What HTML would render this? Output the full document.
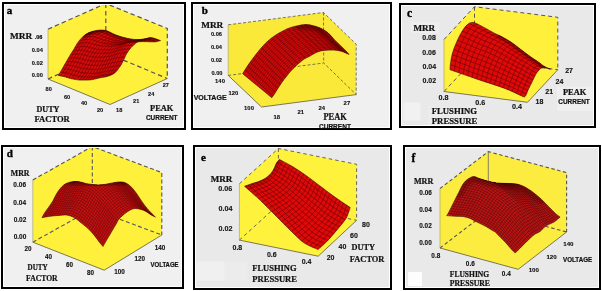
<!DOCTYPE html>
<html><head><meta charset="utf-8"><style>html,body{margin:0;padding:0;background:#fff}svg{display:block;will-change:transform}</style></head>
<body><svg width="602" height="291" viewBox="0 0 602 291">
<defs><filter id="blur" x="-20%" y="-20%" width="140%" height="140%"><feGaussianBlur stdDeviation="1.2"/></filter><clipPath id="cpa"><rect x="5" y="5" width="178" height="122"/></clipPath><clipPath id="sca"><path d="M58.30,75.70 C59.00,74.48 61.17,70.72 62.50,68.40 C63.83,66.08 65.03,64.00 66.30,61.80 C67.57,59.60 68.83,57.30 70.10,55.20 C71.37,53.10 72.65,51.25 73.90,49.20 C75.15,47.15 76.35,44.73 77.60,42.90 C78.85,41.07 79.98,39.67 81.40,38.20 C82.82,36.73 84.37,35.20 86.10,34.10 C87.83,33.00 89.75,32.25 91.80,31.60 C93.85,30.95 96.20,30.42 98.40,30.20 C100.60,29.98 103.07,29.97 105.00,30.30 C106.93,30.63 108.17,31.42 110.00,32.20 C111.83,32.98 114.00,34.20 116.00,35.00 C118.00,35.80 120.00,36.42 122.00,37.00 C124.00,37.58 125.98,38.10 128.00,38.50 C130.02,38.90 132.08,39.23 134.10,39.40 C136.12,39.57 138.10,39.65 140.10,39.50 C142.10,39.35 144.30,38.82 146.10,38.50 C147.90,38.18 149.30,37.55 150.90,37.60 C152.50,37.65 154.10,38.30 155.70,38.80 C157.30,39.30 159.70,40.30 160.50,40.60 C159.70,40.80 157.50,41.60 155.70,41.80 C153.90,42.00 151.70,41.83 149.70,41.80 C147.70,41.77 145.50,41.60 143.70,41.60 C141.90,41.60 140.10,41.63 138.90,41.80 C137.70,41.97 136.90,42.47 136.50,42.60 C135.57,43.45 132.48,45.95 130.90,47.70 C129.32,49.45 128.17,51.17 127.00,53.10 C125.83,55.03 124.80,57.50 123.90,59.30 C123.00,61.10 122.50,62.35 121.60,63.90 C120.70,65.45 119.53,67.18 118.50,68.60 C117.47,70.02 116.68,71.30 115.40,72.40 C114.12,73.50 112.60,74.42 110.80,75.20 C109.00,75.98 106.40,76.67 104.60,77.10 C102.80,77.53 102.23,77.35 100.00,77.80 C97.77,78.25 94.38,79.42 91.20,79.80 C88.02,80.18 83.47,80.13 80.90,80.10 C78.33,80.07 77.52,79.85 75.80,79.60 C74.08,79.35 72.32,79.03 70.60,78.60 C68.88,78.17 67.47,77.52 65.50,77.00 C63.53,76.48 59.92,75.75 58.80,75.50 Z"/></clipPath><clipPath id="cpb"><rect x="194" y="5" width="195" height="122"/></clipPath><clipPath id="scb"><path d="M242.70,73.70 C243.72,72.10 246.42,67.53 248.80,64.10 C251.18,60.67 254.25,56.55 257.00,53.10 C259.75,49.65 262.53,46.17 265.30,43.40 C268.07,40.63 270.85,38.47 273.60,36.50 C276.35,34.53 279.05,33.07 281.80,31.60 C284.55,30.13 287.07,28.75 290.10,27.70 C293.13,26.65 297.35,25.82 300.00,25.30 C302.65,24.78 304.08,24.60 306.00,24.60 C307.92,24.60 309.20,24.77 311.50,25.30 C313.80,25.83 317.05,26.55 319.80,27.80 C322.55,29.05 325.60,30.85 328.00,32.80 C330.40,34.75 332.32,37.53 334.20,39.50 C336.08,41.47 337.58,42.92 339.30,44.60 C341.02,46.28 342.87,47.97 344.50,49.60 C346.13,51.23 348.33,53.60 349.10,54.40 C348.50,54.15 346.78,53.42 345.50,52.90 C344.22,52.38 342.95,51.73 341.40,51.30 C339.85,50.87 337.92,50.50 336.20,50.30 C334.48,50.10 332.82,50.10 331.10,50.10 C329.38,50.10 327.62,50.17 325.90,50.30 C324.18,50.43 322.52,50.48 320.80,50.90 C319.08,51.32 317.45,51.92 315.60,52.80 C313.75,53.68 311.53,55.20 309.70,56.20 C307.87,57.20 306.13,57.85 304.60,58.80 C303.07,59.75 301.70,60.97 300.50,61.90 C299.30,62.83 298.43,63.47 297.40,64.40 C296.37,65.33 295.33,66.47 294.30,67.50 C293.27,68.53 292.23,69.48 291.20,70.60 C290.17,71.72 289.10,72.97 288.10,74.20 C287.10,75.43 286.12,76.80 285.20,78.00 C284.28,79.20 283.72,79.83 282.60,81.40 C281.48,82.97 279.70,85.55 278.50,87.40 C277.30,89.25 276.52,90.78 275.40,92.50 C274.28,94.22 272.40,96.83 271.80,97.70 L242.70,73.70 Z"/></clipPath><clipPath id="cpc"><rect x="402" y="6" width="191" height="119"/></clipPath><clipPath id="scc"><path d="M450.00,69.70 C450.07,68.82 450.00,67.12 450.40,64.40 C450.80,61.68 451.38,57.07 452.40,53.40 C453.42,49.73 454.90,46.05 456.50,42.40 C458.10,38.75 460.18,34.47 462.00,31.50 C463.82,28.53 465.48,26.10 467.40,24.60 C469.32,23.10 470.75,22.03 473.50,22.50 C476.25,22.97 480.33,25.57 483.90,27.40 C487.47,29.23 492.22,32.10 494.90,33.50 C497.58,34.90 497.43,34.45 500.00,35.80 C502.57,37.15 506.87,39.35 510.30,41.60 C513.73,43.85 517.15,46.72 520.60,49.30 C524.05,51.88 527.98,54.95 531.00,57.10 C534.02,59.25 536.57,60.70 538.70,62.20 C540.83,63.70 541.87,64.93 543.80,66.10 C545.73,67.27 549.22,68.68 550.30,69.20 C549.22,68.93 545.52,67.65 543.80,67.60 C542.08,67.55 540.63,68.68 540.00,68.90 C539.35,69.72 537.40,71.68 536.10,73.80 C534.80,75.92 533.48,79.02 532.20,81.60 C530.92,84.18 529.47,86.98 528.40,89.30 C527.33,91.62 526.52,94.20 525.80,95.50 C525.08,96.80 524.38,96.83 524.10,97.10 C523.45,96.80 522.40,96.33 520.20,95.30 C518.00,94.27 514.27,92.33 510.90,90.90 C507.53,89.47 505.37,88.57 500.00,86.70 C494.63,84.83 484.83,81.77 478.70,79.70 C472.57,77.63 467.98,75.97 463.20,74.30 C458.42,72.63 452.20,70.47 450.00,69.70 Z"/></clipPath><clipPath id="cpd"><rect x="4" y="148" width="177" height="138"/></clipPath><clipPath id="scd"><path d="M41.90,217.60 C42.47,216.65 44.02,213.85 45.30,211.90 C46.58,209.95 48.32,207.75 49.60,205.90 C50.88,204.05 52.00,202.52 53.00,200.80 C54.00,199.08 54.73,197.18 55.60,195.60 C56.47,194.02 57.20,192.73 58.20,191.30 C59.20,189.87 60.32,188.28 61.60,187.00 C62.88,185.72 64.32,184.45 65.90,183.60 C67.48,182.75 69.38,182.25 71.10,181.90 C72.82,181.55 74.48,181.45 76.20,181.50 C77.92,181.55 79.65,181.83 81.40,182.20 C83.15,182.57 84.83,183.32 86.70,183.70 C88.57,184.08 90.65,184.30 92.60,184.50 C94.55,184.70 96.47,184.90 98.40,184.90 C100.33,184.90 102.27,184.75 104.20,184.50 C106.13,184.25 108.20,183.73 110.00,183.40 C111.80,183.07 113.30,182.75 115.00,182.50 C116.70,182.25 118.48,181.87 120.20,181.90 C121.92,181.93 123.58,181.98 125.30,182.70 C127.02,183.42 128.78,184.62 130.50,186.20 C132.22,187.78 133.88,189.92 135.60,192.20 C137.32,194.48 139.22,197.62 140.80,199.90 C142.38,202.18 143.67,204.03 145.10,205.90 C146.53,207.77 147.68,209.23 149.40,211.10 C151.12,212.97 154.40,216.10 155.40,217.10 C154.68,216.73 152.68,215.85 151.10,214.90 C149.52,213.95 147.62,212.32 145.90,211.40 C144.18,210.48 142.52,209.88 140.80,209.40 C139.08,208.92 137.18,208.50 135.60,208.50 C134.02,208.50 132.73,208.82 131.30,209.40 C129.87,209.98 128.43,211.00 127.00,212.00 C125.57,213.00 124.13,214.12 122.70,215.40 C121.27,216.68 119.45,218.33 118.40,219.70 C117.35,221.07 117.50,221.67 116.40,223.60 C115.30,225.53 113.33,228.72 111.80,231.30 C110.27,233.88 108.67,236.57 107.20,239.10 C105.73,241.63 103.70,245.27 103.00,246.50 C102.40,245.78 100.77,243.95 99.40,242.20 C98.03,240.45 96.60,238.20 94.80,236.00 C93.00,233.80 90.83,231.15 88.60,229.00 C86.37,226.85 83.47,224.80 81.40,223.10 C79.33,221.40 77.92,219.95 76.20,218.80 C74.48,217.65 72.82,216.85 71.10,216.20 C69.38,215.55 67.92,215.03 65.90,214.90 C63.88,214.77 61.57,215.18 59.00,215.40 C56.43,215.62 53.35,215.83 50.50,216.20 C47.65,216.57 43.33,217.37 41.90,217.60 Z"/></clipPath><clipPath id="cpe"><rect x="196" y="148" width="193" height="139"/></clipPath><clipPath id="sce"><path d="M244.60,186.30 C245.78,185.87 249.37,184.48 251.70,183.70 C254.03,182.92 256.30,182.52 258.60,181.60 C260.90,180.68 263.43,179.57 265.50,178.20 C267.57,176.83 269.52,175.12 271.00,173.40 C272.48,171.68 273.48,169.63 274.40,167.90 C275.32,166.17 275.67,164.42 276.50,163.00 C277.33,161.58 278.92,160.00 279.40,159.40 C281.65,160.63 288.42,164.08 292.90,166.80 C297.38,169.52 301.83,172.53 306.30,175.70 C310.77,178.87 315.23,182.45 319.70,185.80 C324.17,189.15 329.00,192.83 333.10,195.80 C337.20,198.77 341.45,201.65 344.30,203.60 C347.15,205.55 349.22,206.85 350.20,207.50 C349.92,208.33 349.25,210.60 348.50,212.50 C347.75,214.40 347.77,215.83 345.70,218.90 C343.63,221.97 339.30,227.08 336.10,230.90 C332.90,234.72 329.52,238.70 326.50,241.80 C323.48,244.90 319.42,248.22 318.00,249.50 C315.73,248.43 308.82,246.10 304.40,243.10 C299.98,240.10 296.22,236.00 291.50,231.50 C286.78,227.00 281.25,221.25 276.10,216.10 C270.95,210.95 265.85,205.57 260.60,200.60 C255.35,195.63 247.27,188.68 244.60,186.30 Z"/></clipPath><clipPath id="cpf"><rect x="406" y="148" width="192" height="139"/></clipPath><clipPath id="scf"><path d="M446.70,215.60 C446.98,215.17 447.53,214.58 448.40,213.00 C449.27,211.42 450.75,208.40 451.90,206.10 C453.05,203.80 454.15,201.48 455.30,199.20 C456.45,196.92 457.80,194.40 458.80,192.40 C459.80,190.40 460.45,188.78 461.30,187.20 C462.15,185.62 462.88,184.18 463.90,182.90 C464.92,181.62 465.82,180.57 467.40,179.50 C468.98,178.43 471.40,176.65 473.40,176.50 C475.40,176.35 476.97,177.82 479.40,178.60 C481.83,179.38 485.13,180.48 488.00,181.20 C490.87,181.92 493.73,182.53 496.60,182.90 C499.47,183.27 502.13,183.25 505.20,183.40 C508.27,183.55 512.05,183.35 515.00,183.80 C517.95,184.25 520.03,184.78 522.90,186.10 C525.77,187.42 529.10,189.48 532.20,191.70 C535.30,193.92 538.67,196.82 541.50,199.40 C544.33,201.98 546.88,204.87 549.20,207.20 C551.52,209.53 553.58,211.75 555.40,213.40 C557.22,215.05 559.32,216.48 560.10,217.10 C559.07,217.93 556.23,220.65 553.90,222.10 C551.57,223.55 548.42,224.23 546.10,225.80 C543.78,227.37 541.85,230.12 540.00,231.50 C538.15,232.88 536.68,232.95 535.00,234.10 C533.32,235.25 531.62,236.83 529.90,238.40 C528.18,239.97 526.43,241.78 524.70,243.50 C522.97,245.22 521.08,247.12 519.50,248.70 C517.92,250.28 515.92,252.28 515.20,253.00 C514.48,252.28 512.47,250.42 510.90,248.70 C509.33,246.98 507.52,244.57 505.80,242.70 C504.08,240.83 502.32,239.23 500.60,237.50 C498.88,235.77 496.83,233.45 495.50,232.30 C494.17,231.15 494.12,231.53 492.60,230.60 C491.08,229.67 488.47,227.87 486.40,226.70 C484.33,225.53 482.27,224.63 480.20,223.60 C478.13,222.57 475.80,221.40 474.00,220.50 C472.20,219.60 471.20,218.85 469.40,218.20 C467.60,217.55 465.52,216.92 463.20,216.60 C460.88,216.28 458.25,216.47 455.50,216.30 C452.75,216.13 448.17,215.72 446.70,215.60 Z"/></clipPath></defs>
<rect x="2" y="2" width="184" height="128" fill="#000"/>
<rect x="4" y="4" width="180" height="124" fill="#fff"/>
<rect x="5" y="5" width="178" height="122" fill="#f0f0f0"/>
<g clip-path="url(#cpa)">
<polygon points="48.0,29.2 105.8,3.5 167.3,28.5 167.3,78.5 110.0,104.5 48.0,79.0" fill="#fff03c"/>
<polyline points="48.0,29.2 105.8,3.5 167.3,28.5 167.3,78.5" stroke="#555" stroke-width="1.2" stroke-dasharray="4.5 3" fill="none"/>
<polyline points="48.0,79.0 105.8,52.8 167.3,78.5" stroke="#555" stroke-width="1.2" stroke-dasharray="4.5 3" fill="none"/>
<line x1="105.8" y1="3.5" x2="105.8" y2="52.8" stroke="#555" stroke-width="1.2" stroke-dasharray="4.5 3" fill="none"/>
<polyline points="48.0,29.2 48.0,79.0" stroke="#9a9a70" stroke-width="0.6" fill="none"/>
<polyline points="48.0,79.0 110.0,104.5 167.3,78.5" stroke="#5a5a40" stroke-width="0.8" fill="none"/>
<path d="M58.30,75.70 C59.00,74.48 61.17,70.72 62.50,68.40 C63.83,66.08 65.03,64.00 66.30,61.80 C67.57,59.60 68.83,57.30 70.10,55.20 C71.37,53.10 72.65,51.25 73.90,49.20 C75.15,47.15 76.35,44.73 77.60,42.90 C78.85,41.07 79.98,39.67 81.40,38.20 C82.82,36.73 84.37,35.20 86.10,34.10 C87.83,33.00 89.75,32.25 91.80,31.60 C93.85,30.95 96.20,30.42 98.40,30.20 C100.60,29.98 103.07,29.97 105.00,30.30 C106.93,30.63 108.17,31.42 110.00,32.20 C111.83,32.98 114.00,34.20 116.00,35.00 C118.00,35.80 120.00,36.42 122.00,37.00 C124.00,37.58 125.98,38.10 128.00,38.50 C130.02,38.90 132.08,39.23 134.10,39.40 C136.12,39.57 138.10,39.65 140.10,39.50 C142.10,39.35 144.30,38.82 146.10,38.50 C147.90,38.18 149.30,37.55 150.90,37.60 C152.50,37.65 154.10,38.30 155.70,38.80 C157.30,39.30 159.70,40.30 160.50,40.60 C159.70,40.80 157.50,41.60 155.70,41.80 C153.90,42.00 151.70,41.83 149.70,41.80 C147.70,41.77 145.50,41.60 143.70,41.60 C141.90,41.60 140.10,41.63 138.90,41.80 C137.70,41.97 136.90,42.47 136.50,42.60 C135.57,43.45 132.48,45.95 130.90,47.70 C129.32,49.45 128.17,51.17 127.00,53.10 C125.83,55.03 124.80,57.50 123.90,59.30 C123.00,61.10 122.50,62.35 121.60,63.90 C120.70,65.45 119.53,67.18 118.50,68.60 C117.47,70.02 116.68,71.30 115.40,72.40 C114.12,73.50 112.60,74.42 110.80,75.20 C109.00,75.98 106.40,76.67 104.60,77.10 C102.80,77.53 102.23,77.35 100.00,77.80 C97.77,78.25 94.38,79.42 91.20,79.80 C88.02,80.18 83.47,80.13 80.90,80.10 C78.33,80.07 77.52,79.85 75.80,79.60 C74.08,79.35 72.32,79.03 70.60,78.60 C68.88,78.17 67.47,77.52 65.50,77.00 C63.53,76.48 59.92,75.75 58.80,75.50 Z" fill="#d60c0c"/>
<g clip-path="url(#sca)" fill="none" stroke="#6a0000">
<path d="M60.3,72.2 L61.7,72.1 L63.0,72.4 L64.4,72.6 L65.8,72.9 L67.1,73.2 L68.5,73.5 L69.8,73.9 L71.1,74.3 L72.5,74.8 L73.8,75.2 L75.2,75.5 L76.5,75.8 L77.9,76.1 L79.3,76.3 L80.6,76.5 L82.0,76.7 L83.4,76.8 L84.8,76.9 L86.2,76.9 L87.6,77.0 L89.0,77.0 L90.4,77.0 L91.8,77.0 L93.2,76.9 L94.5,76.8 L95.9,76.7 L97.3,76.4 L98.7,76.1 L100.0,75.8 L101.4,75.5 L102.7,75.2 L104.1,74.9 L105.5,74.7 L106.9,74.6 L108.2,74.4 L109.6,74.1 L110.9,73.8 L112.3,73.5 L113.6,73.2 L114.9,72.8 M62.3,68.7 L63.7,68.6 L65.1,68.8 L66.5,69.0 L67.9,69.2 L69.3,69.4 L70.7,69.7 L72.0,70.0 L73.4,70.5 L74.8,70.9 L76.1,71.3 L77.5,71.6 L78.9,71.9 L80.3,72.2 L81.7,72.5 L83.1,72.7 L84.5,72.9 L85.9,73.0 L87.3,73.1 L88.7,73.2 L90.1,73.2 L91.5,73.3 L93.0,73.3 L94.4,73.3 L95.8,73.2 L97.2,73.1 L98.6,73.0 L100.0,72.7 L101.4,72.5 L102.8,72.1 L104.2,71.8 L105.6,71.5 L107.0,71.2 L108.4,70.9 L109.8,70.7 L111.2,70.6 L112.6,70.3 L114.0,70.1 L115.3,69.9 L116.7,69.6 L118.0,69.3 M64.4,65.2 L65.7,65.0 L67.1,65.1 L68.6,65.2 L70.0,65.4 L71.4,65.6 L72.8,65.8 L74.2,66.1 L75.6,66.5 L77.0,66.9 L78.3,67.3 L79.7,67.6 L81.1,68.0 L82.5,68.3 L83.9,68.5 L85.3,68.8 L86.7,69.0 L88.2,69.1 L89.6,69.2 L91.0,69.3 L92.5,69.3 L93.9,69.4 L95.3,69.4 L96.8,69.4 L98.2,69.3 L99.6,69.2 L101.1,69.0 L102.5,68.8 L103.9,68.5 L105.3,68.2 L106.7,67.8 L108.1,67.4 L109.6,67.1 L111.0,66.8 L112.4,66.6 L113.8,66.4 L115.2,66.2 L116.6,66.1 L118.0,65.8 L119.4,65.6 L120.7,65.3 M66.4,61.7 L67.8,61.5 L69.2,61.5 L70.6,61.5 L72.0,61.6 L73.5,61.7 L74.9,61.9 L76.3,62.1 L77.7,62.5 L79.1,62.9 L80.4,63.2 L81.8,63.6 L83.2,63.9 L84.6,64.2 L86.0,64.5 L87.4,64.8 L88.8,65.0 L90.3,65.1 L91.7,65.2 L93.1,65.2 L94.6,65.3 L96.0,65.3 L97.5,65.3 L98.9,65.3 L100.3,65.3 L101.8,65.1 L103.2,65.0 L104.7,64.7 L106.1,64.4 L107.5,64.0 L108.9,63.6 L110.4,63.2 L111.8,62.9 L113.2,62.5 L114.6,62.3 L116.1,62.1 L117.5,61.9 L118.9,61.8 L120.3,61.6 L121.6,61.4 L123.0,61.2 M68.4,58.2 L69.8,57.9 L71.2,57.8 L72.6,57.8 L74.0,57.8 L75.5,57.8 L76.9,57.9 L78.3,58.1 L79.7,58.4 L81.1,58.8 L82.5,59.2 L83.9,59.5 L85.2,59.8 L86.6,60.1 L88.0,60.4 L89.4,60.7 L90.8,60.9 L92.3,61.0 L93.7,61.1 L95.1,61.2 L96.6,61.2 L98.0,61.2 L99.5,61.2 L100.9,61.2 L102.4,61.1 L103.8,61.0 L105.3,60.8 L106.7,60.5 L108.1,60.2 L109.6,59.8 L111.0,59.4 L112.4,58.9 L113.8,58.5 L115.2,58.1 L116.7,57.8 L118.1,57.6 L119.5,57.5 L120.9,57.4 L122.3,57.2 L123.7,57.1 L125.1,56.9 M70.4,54.7 L71.8,54.3 L73.2,54.2 L74.7,54.0 L76.1,54.0 L77.6,54.0 L79.0,54.0 L80.4,54.2 L81.8,54.4 L83.2,54.8 L84.6,55.1 L86.0,55.5 L87.3,55.8 L88.7,56.1 L90.1,56.4 L91.5,56.6 L92.9,56.8 L94.4,57.0 L95.8,57.0 L97.2,57.1 L98.7,57.2 L100.1,57.2 L101.6,57.2 L103.0,57.1 L104.5,57.0 L105.9,56.9 L107.4,56.7 L108.8,56.4 L110.3,56.1 L111.7,55.6 L113.1,55.2 L114.6,54.7 L116.0,54.3 L117.4,53.8 L118.9,53.5 L120.3,53.3 L121.7,53.1 L123.1,53.0 L124.5,52.9 L125.9,52.8 L127.3,52.7 M72.6,51.3 L74.0,50.8 L75.5,50.6 L76.9,50.4 L78.4,50.3 L79.8,50.2 L81.3,50.2 L82.7,50.3 L84.2,50.5 L85.5,50.8 L86.9,51.2 L88.3,51.6 L89.7,51.9 L91.1,52.2 L92.5,52.5 L93.9,52.8 L95.3,53.0 L96.7,53.1 L98.2,53.2 L99.6,53.3 L101.1,53.3 L102.5,53.3 L104.0,53.3 L105.5,53.3 L106.9,53.2 L108.4,53.0 L109.9,52.8 L111.4,52.5 L112.8,52.2 L114.3,51.7 L115.7,51.2 L117.2,50.7 L118.6,50.3 L120.0,49.8 L121.5,49.4 L123.0,49.2 L124.4,49.1 L125.8,49.0 L127.2,48.9 L128.6,48.9 L130.0,48.8 M74.7,47.8 L76.2,47.3 L77.6,47.0 L79.1,46.8 L80.6,46.6 L82.1,46.5 L83.6,46.5 L85.1,46.5 L86.5,46.7 L88.0,47.0 L89.4,47.4 L90.8,47.8 L92.2,48.1 L93.6,48.5 L95.0,48.8 L96.4,49.1 L97.9,49.3 L99.3,49.4 L100.8,49.5 L102.3,49.6 L103.8,49.7 L105.3,49.7 L106.8,49.7 L108.3,49.7 L109.8,49.6 L111.3,49.4 L112.8,49.2 L114.3,49.0 L115.8,48.6 L117.2,48.2 L118.7,47.7 L120.2,47.1 L121.7,46.6 L123.2,46.1 L124.7,45.7 L126.1,45.5 L127.6,45.4 L129.1,45.4 L130.5,45.4 L131.9,45.4 L133.3,45.4 M76.7,44.3 L78.2,43.8 L79.7,43.4 L81.2,43.2 L82.8,42.9 L84.3,42.8 L85.9,42.7 L87.4,42.7 L88.9,42.9 L90.4,43.2 L91.8,43.7 L93.3,44.0 L94.7,44.4 L96.1,44.8 L97.6,45.2 L99.0,45.5 L100.5,45.7 L102.0,45.9 L103.5,46.0 L105.1,46.2 L106.6,46.2 L108.1,46.3 L109.6,46.3 L111.2,46.3 L112.7,46.2 L114.3,46.1 L115.8,45.9 L117.4,45.7 L118.9,45.3 L120.5,44.9 L122.0,44.4 L123.5,43.9 L125.0,43.4 L126.5,42.8 L128.1,42.4 L129.6,42.2 L131.1,42.2 L132.6,42.2 L134.1,42.3 L135.5,42.3 L137.0,42.4 M79.0,41.0 L80.5,40.5 L82.1,40.1 L83.7,39.8 L85.3,39.6 L86.9,39.5 L88.5,39.5 L90.1,39.5 L91.7,39.7 L93.2,40.1 L94.7,40.6 L96.2,41.0 L97.7,41.5 L99.2,42.0 L100.7,42.4 L102.2,42.8 L103.7,43.1 L105.3,43.4 L106.9,43.6 L108.4,43.8 L110.0,44.0 L111.6,44.1 L113.2,44.2 L114.8,44.3 L116.4,44.3 L118.0,44.2 L119.6,44.1 L121.2,43.9 L122.8,43.6 L124.4,43.3 L126.0,42.8 L127.6,42.3 L129.2,41.9 L130.8,41.4 L132.4,41.0 L134.0,40.8 L135.5,40.9 L137.1,41.1 L138.6,41.2 L140.1,41.4 L141.6,41.6 M81.7,37.9 L83.3,37.5 L84.9,37.1 L86.5,36.9 L88.2,36.7 L89.8,36.6 L91.5,36.6 L93.2,36.7 L94.8,36.9 L96.4,37.4 L97.9,38.0 L99.5,38.5 L101.0,39.1 L102.5,39.7 L104.1,40.2 L105.6,40.7 L107.2,41.1 L108.8,41.4 L110.5,41.7 L112.1,42.0 L113.7,42.3 L115.3,42.5 L117.0,42.7 L118.6,42.8 L120.3,42.9 L122.0,43.0 L123.6,42.9 L125.3,42.8 L127.0,42.6 L128.6,42.3 L130.3,41.9 L131.9,41.5 L133.5,41.1 L135.2,40.6 L136.8,40.3 L138.5,40.2 L140.1,40.5 L141.7,40.7 L143.3,41.0 L144.8,41.4 L146.4,41.7 M84.6,35.2 L86.3,34.7 L87.9,34.4 L89.6,34.1 L91.3,34.0 L93.0,33.9 L94.8,33.9 L96.5,34.1 L98.1,34.4 L99.8,34.9 L101.3,35.6 L102.9,36.2 L104.5,36.9 L106.1,37.5 L107.6,38.2 L109.2,38.7 L110.9,39.2 L112.5,39.7 L114.2,40.1 L115.9,40.5 L117.5,40.8 L119.2,41.1 L120.9,41.4 L122.6,41.6 L124.3,41.8 L126.0,41.9 L127.7,41.9 L129.4,41.9 L131.2,41.8 L132.9,41.5 L134.6,41.2 L136.2,40.8 L137.9,40.5 L139.6,40.0 L141.3,39.7 L143.0,39.8 L144.7,40.1 L146.3,40.5 L147.9,40.9 L149.5,41.4 L151.1,41.8 M88.0,33.0 L89.7,32.6 L91.4,32.2 L93.1,32.0 L94.9,31.8 L96.6,31.7 L98.4,31.8 L100.1,31.9 L101.9,32.3 L103.5,32.8 L105.1,33.6 L106.7,34.3 L108.3,35.0 L109.9,35.8 L111.5,36.5 L113.2,37.1 L114.8,37.6 L116.5,38.2 L118.2,38.6 L119.9,39.1 L121.6,39.5 L123.3,39.9 L125.0,40.2 L126.8,40.5 L128.5,40.7 L130.2,40.9 L132.0,41.0 L133.7,41.0 L135.5,40.9 L137.2,40.7 L139.0,40.4 L140.7,40.1 L142.4,39.8 L144.1,39.4 L145.8,39.1 L147.6,39.2 L149.3,39.6 L151.0,40.1 L152.6,40.6 L154.3,41.2 L155.9,41.8" stroke-width="0.6"/>
<path d="M60.9,75.9 L61.6,74.7 L62.4,73.5 L63.1,72.2 L63.9,70.9 L64.6,69.7 L65.3,68.4 L66.0,67.1 L66.7,65.8 L67.5,64.6 L68.2,63.3 L68.9,62.0 L69.6,60.7 L70.3,59.4 L71.0,58.2 L71.7,56.9 L72.4,55.6 L73.1,54.3 L73.9,53.1 L74.7,51.8 L75.5,50.6 L76.2,49.4 L77.0,48.1 L77.7,46.9 L78.5,45.6 L79.2,44.3 L79.9,43.1 L80.7,41.9 L81.6,40.8 L82.5,39.7 L83.5,38.6 L84.5,37.6 L85.5,36.6 L86.5,35.6 L87.6,34.6 L88.8,33.8 L90.0,33.0 L91.2,32.3 L92.5,31.7 L93.9,31.2 L95.2,30.7 M63.5,76.5 L64.3,75.3 L65.1,74.0 L65.9,72.7 L66.6,71.4 L67.4,70.1 L68.1,68.8 L68.8,67.5 L69.6,66.1 L70.3,64.8 L71.0,63.5 L71.7,62.2 L72.4,60.8 L73.1,59.5 L73.8,58.2 L74.6,56.8 L75.3,55.5 L76.0,54.2 L76.8,52.9 L77.6,51.6 L78.4,50.3 L79.2,49.0 L79.9,47.7 L80.7,46.4 L81.5,45.1 L82.2,43.8 L83.0,42.6 L83.9,41.4 L84.8,40.3 L85.7,39.2 L86.7,38.1 L87.7,37.1 L88.8,36.1 L89.9,35.1 L91.0,34.2 L92.2,33.4 L93.4,32.6 L94.7,31.9 L96.0,31.3 L97.4,30.7 L98.8,30.2 M66.1,77.2 L67.0,75.9 L67.8,74.6 L68.6,73.3 L69.4,72.0 L70.1,70.7 L70.9,69.3 L71.6,67.9 L72.4,66.6 L73.1,65.2 L73.9,63.9 L74.6,62.5 L75.3,61.1 L76.0,59.7 L76.7,58.3 L77.4,57.0 L78.1,55.6 L78.9,54.2 L79.7,52.9 L80.5,51.5 L81.3,50.2 L82.1,48.9 L82.9,47.6 L83.7,46.3 L84.5,45.0 L85.3,43.6 L86.1,42.4 L87.0,41.2 L88.0,40.1 L88.9,39.0 L90.0,38.0 L91.0,37.0 L92.1,36.0 L93.3,35.1 L94.4,34.2 L95.6,33.3 L96.9,32.6 L98.2,31.9 L99.5,31.2 L100.9,30.6 L102.3,30.1 M68.7,78.0 L69.5,76.8 L70.4,75.5 L71.3,74.2 L72.1,72.8 L72.9,71.4 L73.6,70.1 L74.4,68.7 L75.2,67.3 L75.9,65.9 L76.7,64.5 L77.4,63.1 L78.1,61.7 L78.8,60.2 L79.5,58.8 L80.2,57.4 L81.0,56.0 L81.7,54.6 L82.5,53.2 L83.3,51.9 L84.2,50.5 L85.0,49.2 L85.8,47.8 L86.7,46.5 L87.5,45.2 L88.3,43.8 L89.2,42.6 L90.1,41.4 L91.1,40.3 L92.1,39.3 L93.2,38.3 L94.3,37.3 L95.5,36.4 L96.6,35.5 L97.8,34.6 L99.0,33.8 L100.3,33.0 L101.7,32.4 L103.0,31.7 L104.4,31.1 L105.8,30.5 M71.2,78.8 L72.2,77.5 L73.1,76.3 L73.9,75.0 L74.8,73.6 L75.6,72.3 L76.3,70.9 L77.1,69.5 L77.9,68.1 L78.7,66.7 L79.4,65.3 L80.1,63.9 L80.8,62.4 L81.6,61.0 L82.3,59.6 L83.0,58.1 L83.7,56.7 L84.5,55.3 L85.3,53.9 L86.1,52.6 L86.9,51.2 L87.8,49.9 L88.6,48.5 L89.5,47.2 L90.3,45.9 L91.2,44.6 L92.1,43.3 L93.1,42.2 L94.1,41.2 L95.2,40.2 L96.3,39.2 L97.4,38.3 L98.6,37.5 L99.8,36.6 L101.0,35.8 L102.2,35.0 L103.6,34.3 L104.9,33.7 L106.3,33.0 L107.7,32.4 L109.1,31.8 M73.9,79.3 L74.8,78.1 L75.8,76.9 L76.7,75.6 L77.5,74.3 L78.3,72.9 L79.1,71.5 L79.9,70.1 L80.7,68.8 L81.4,67.4 L82.2,66.0 L82.9,64.5 L83.6,63.1 L84.3,61.7 L85.0,60.2 L85.7,58.8 L86.5,57.4 L87.2,56.0 L88.0,54.6 L88.8,53.2 L89.7,51.9 L90.6,50.6 L91.4,49.3 L92.3,47.9 L93.2,46.6 L94.0,45.3 L95.0,44.1 L96.0,43.0 L97.1,42.1 L98.2,41.1 L99.3,40.3 L100.5,39.4 L101.7,38.6 L102.9,37.8 L104.1,37.1 L105.4,36.4 L106.7,35.7 L108.1,35.1 L109.5,34.5 L110.9,33.9 L112.3,33.3 M76.5,79.7 L77.5,78.6 L78.5,77.4 L79.4,76.1 L80.3,74.8 L81.1,73.5 L81.9,72.1 L82.7,70.7 L83.5,69.3 L84.2,67.9 L85.0,66.5 L85.7,65.1 L86.4,63.7 L87.1,62.3 L87.8,60.8 L88.5,59.4 L89.2,58.0 L90.0,56.6 L90.8,55.2 L91.6,53.9 L92.5,52.5 L93.3,51.2 L94.2,49.9 L95.1,48.6 L96.0,47.3 L96.9,46.0 L97.9,44.9 L98.9,43.8 L100.0,42.9 L101.2,42.1 L102.3,41.3 L103.5,40.5 L104.8,39.8 L106.0,39.1 L107.3,38.4 L108.6,37.7 L109.9,37.1 L111.3,36.5 L112.7,36.0 L114.1,35.4 L115.6,34.8 M79.2,80.0 L80.2,78.9 L81.2,77.8 L82.2,76.5 L83.1,75.3 L83.9,73.9 L84.7,72.5 L85.5,71.2 L86.3,69.8 L87.1,68.4 L87.8,67.0 L88.5,65.6 L89.2,64.1 L89.9,62.7 L90.6,61.3 L91.3,59.9 L92.1,58.4 L92.8,57.0 L93.6,55.7 L94.4,54.3 L95.3,53.0 L96.2,51.7 L97.1,50.4 L98.0,49.1 L98.9,47.8 L99.8,46.6 L100.8,45.4 L101.9,44.4 L103.1,43.6 L104.3,42.8 L105.5,42.1 L106.7,41.4 L107.9,40.7 L109.2,40.0 L110.5,39.4 L111.8,38.8 L113.2,38.3 L114.6,37.7 L116.0,37.2 L117.5,36.6 L118.9,36.0 M81.9,80.1 L82.9,79.0 L84.0,77.9 L84.9,76.7 L85.9,75.4 L86.7,74.1 L87.5,72.7 L88.3,71.4 L89.1,70.0 L89.9,68.6 L90.7,67.2 L91.4,65.8 L92.1,64.4 L92.8,62.9 L93.5,61.5 L94.2,60.1 L94.9,58.6 L95.7,57.2 L96.5,55.9 L97.3,54.5 L98.2,53.2 L99.1,51.9 L100.0,50.6 L101.0,49.4 L101.9,48.1 L102.8,46.9 L103.9,45.7 L105.0,44.8 L106.2,44.0 L107.4,43.3 L108.6,42.6 L109.9,42.0 L111.2,41.4 L112.5,40.8 L113.8,40.2 L115.2,39.7 L116.6,39.2 L118.0,38.7 L119.4,38.2 L120.9,37.6 L122.3,37.1 M84.6,80.1 L85.6,79.1 L86.7,78.0 L87.7,76.8 L88.7,75.6 L89.5,74.2 L90.4,72.9 L91.2,71.5 L92.0,70.1 L92.8,68.7 L93.6,67.3 L94.3,65.9 L95.0,64.5 L95.7,63.1 L96.4,61.6 L97.1,60.2 L97.8,58.8 L98.6,57.4 L99.4,56.0 L100.2,54.6 L101.1,53.3 L102.0,52.0 L103.0,50.8 L103.9,49.5 L104.9,48.3 L105.8,47.1 L106.9,46.0 L108.1,45.1 L109.3,44.4 L110.6,43.7 L111.8,43.1 L113.1,42.5 L114.5,42.0 L115.8,41.5 L117.1,40.9 L118.5,40.5 L119.9,40.0 L121.4,39.6 L122.8,39.1 L124.3,38.5 L125.7,38.0 M87.2,80.1 L88.4,79.1 L89.5,78.0 L90.5,76.8 L91.5,75.6 L92.4,74.3 L93.2,72.9 L94.0,71.5 L94.9,70.2 L95.7,68.8 L96.4,67.4 L97.2,66.0 L97.9,64.5 L98.6,63.1 L99.3,61.6 L100.0,60.2 L100.7,58.8 L101.4,57.4 L102.3,56.0 L103.1,54.6 L104.0,53.3 L104.9,52.0 L105.9,50.8 L106.9,49.5 L107.9,48.3 L108.9,47.1 L110.0,46.0 L111.2,45.2 L112.5,44.6 L113.8,44.0 L115.1,43.4 L116.4,42.9 L117.8,42.4 L119.1,42.0 L120.5,41.5 L121.9,41.1 L123.3,40.7 L124.8,40.3 L126.3,39.8 L127.8,39.3 L129.2,38.7 M89.9,79.9 L91.1,78.9 L92.2,77.9 L93.3,76.8 L94.3,75.5 L95.2,74.2 L96.1,72.8 L96.9,71.5 L97.7,70.1 L98.5,68.7 L99.3,67.3 L100.0,65.9 L100.8,64.4 L101.5,63.0 L102.2,61.5 L102.9,60.1 L103.6,58.6 L104.4,57.2 L105.2,55.8 L106.0,54.5 L106.9,53.2 L107.9,51.9 L108.9,50.6 L109.9,49.4 L110.9,48.2 L111.9,47.0 L113.1,46.0 L114.3,45.2 L115.6,44.6 L117.0,44.1 L118.3,43.6 L119.7,43.1 L121.1,42.7 L122.5,42.3 L123.9,41.9 L125.3,41.5 L126.8,41.1 L128.3,40.8 L129.8,40.3 L131.3,39.8 L132.7,39.3 M92.6,79.6 L93.8,78.6 L95.0,77.6 L96.1,76.5 L97.1,75.3 L98.0,73.9 L98.9,72.6 L99.8,71.2 L100.6,69.8 L101.4,68.4 L102.2,67.0 L102.9,65.6 L103.6,64.1 L104.4,62.7 L105.1,61.2 L105.8,59.7 L106.5,58.3 L107.3,56.9 L108.1,55.5 L109.0,54.1 L109.9,52.8 L110.9,51.5 L111.9,50.3 L112.9,49.1 L114.0,47.9 L115.0,46.7 L116.2,45.7 L117.5,44.9 L118.8,44.4 L120.2,43.9 L121.6,43.5 L123.0,43.1 L124.4,42.7 L125.9,42.4 L127.3,42.0 L128.8,41.7 L130.3,41.4 L131.8,41.0 L133.3,40.6 L134.8,40.1 L136.3,39.5 M95.2,79.0 L96.5,78.1 L97.7,77.1 L98.8,76.0 L99.9,74.8 L100.8,73.4 L101.7,72.1 L102.6,70.7 L103.4,69.3 L104.3,67.9 L105.1,66.5 L105.8,65.0 L106.5,63.6 L107.2,62.1 L107.9,60.6 L108.6,59.1 L109.4,57.7 L110.2,56.3 L111.0,54.9 L111.9,53.5 L112.8,52.2 L113.8,50.9 L114.8,49.6 L115.9,48.4 L117.0,47.2 L118.1,46.1 L119.3,45.1 L120.6,44.4 L122.0,43.9 L123.5,43.5 L124.9,43.1 L126.3,42.7 L127.8,42.4 L129.3,42.1 L130.7,41.8 L132.2,41.6 L133.7,41.3 L135.3,41.0 L136.8,40.5 L138.3,40.0 L139.8,39.5 M97.8,78.3 L99.1,77.4 L100.3,76.4 L101.5,75.3 L102.6,74.1 L103.6,72.8 L104.5,71.4 L105.4,70.0 L106.2,68.6 L107.1,67.2 L107.9,65.8 L108.6,64.3 L109.3,62.8 L110.1,61.3 L110.8,59.8 L111.5,58.3 L112.2,56.8 L113.0,55.4 L113.9,54.0 L114.8,52.6 L115.7,51.2 L116.7,49.9 L117.8,48.7 L118.9,47.5 L120.0,46.3 L121.1,45.1 L122.4,44.1 L123.8,43.5 L125.2,43.0 L126.7,42.7 L128.1,42.3 L129.6,42.0 L131.1,41.8 L132.6,41.5 L134.1,41.3 L135.6,41.0 L137.2,40.8 L138.7,40.5 L140.3,40.1 L141.8,39.6 L143.4,39.0 M100.4,77.7 L101.7,76.8 L103.0,75.8 L104.3,74.7 L105.4,73.5 L106.3,72.2 L107.3,70.8 L108.2,69.4 L109.1,67.9 L109.9,66.5 L110.7,65.0 L111.5,63.5 L112.2,62.0 L112.9,60.5 L113.6,59.0 L114.3,57.4 L115.1,55.9 L115.9,54.5 L116.7,53.0 L117.6,51.6 L118.6,50.3 L119.6,48.9 L120.7,47.7 L121.8,46.5 L123.0,45.3 L124.1,44.1 L125.4,43.1 L126.9,42.5 L128.3,42.1 L129.8,41.7 L131.4,41.4 L132.9,41.2 L134.4,41.0 L135.9,40.8 L137.5,40.5 L139.0,40.3 L140.6,40.1 L142.2,39.8 L143.8,39.4 L145.3,38.9 L146.8,38.3 M103.1,77.4 L104.4,76.5 L105.8,75.5 L107.0,74.4 L108.2,73.1 L109.2,71.8 L110.1,70.3 L111.0,68.9 L111.9,67.5 L112.8,66.0 L113.6,64.5 L114.3,62.9 L115.1,61.4 L115.8,59.8 L116.5,58.3 L117.2,56.7 L117.9,55.2 L118.8,53.7 L119.6,52.2 L120.5,50.8 L121.5,49.4 L122.6,48.0 L123.7,46.8 L124.8,45.5 L126.0,44.3 L127.2,43.1 L128.5,42.1 L130.0,41.5 L131.5,41.1 L133.0,40.8 L134.6,40.6 L136.1,40.4 L137.7,40.2 L139.3,40.0 L140.8,39.8 L142.4,39.6 L144.0,39.4 L145.6,39.1 L147.2,38.7 L148.8,38.2 L150.3,37.6 M105.7,76.8 L107.1,76.0 L108.5,75.0 L109.8,73.9 L110.9,72.7 L111.9,71.4 L112.9,69.9 L113.8,68.5 L114.7,67.1 L115.6,65.6 L116.4,64.1 L117.2,62.6 L117.9,61.0 L118.6,59.5 L119.3,57.9 L120.1,56.4 L120.8,54.8 L121.6,53.3 L122.5,51.9 L123.4,50.4 L124.4,49.1 L125.5,47.7 L126.6,46.5 L127.8,45.3 L129.0,44.1 L130.2,42.9 L131.5,42.0 L133.1,41.4 L134.6,41.1 L136.2,40.8 L137.8,40.6 L139.4,40.5 L141.0,40.4 L142.6,40.3 L144.2,40.1 L145.8,40.0 L147.4,39.9 L149.1,39.7 L150.7,39.3 L152.2,38.7 L153.8,38.2 M108.3,76.1 L109.7,75.3 L111.1,74.4 L112.5,73.4 L113.6,72.2 L114.7,70.9 L115.6,69.5 L116.6,68.1 L117.5,66.7 L118.4,65.2 L119.2,63.8 L120.0,62.2 L120.7,60.7 L121.4,59.2 L122.1,57.6 L122.8,56.1 L123.6,54.6 L124.4,53.1 L125.3,51.7 L126.2,50.3 L127.2,48.9 L128.3,47.6 L129.5,46.4 L130.7,45.2 L131.9,44.1 L133.1,43.0 L134.5,42.1 L136.1,41.6 L137.7,41.3 L139.3,41.2 L140.9,41.1 L142.6,41.0 L144.2,41.0 L145.8,41.0 L147.5,40.9 L149.1,40.9 L150.7,40.8 L152.4,40.7 L154.0,40.3 L155.6,39.8 L157.2,39.3" stroke-width="0.6"/>
</g>
<path d="M84.0,35.5 L91.8,31.6 L98.4,30.2 L105.0,30.3 L110.0,32.2 L116.0,35.0 L122.0,37.0 L128.0,38.5 L134.1,39.4 L140.1,39.5 L146.1,38.5 L150.9,37.6 L155.7,38.8 L160.5,40.6" clip-path="url(#sca)" fill="none" stroke="#200000" stroke-width="3.2" stroke-opacity="0.6" stroke-linecap="round" stroke-linejoin="round" filter="url(#blur)"/>
<path d="M58.30,75.70 C59.00,74.48 61.17,70.72 62.50,68.40 C63.83,66.08 65.03,64.00 66.30,61.80 C67.57,59.60 68.83,57.30 70.10,55.20 C71.37,53.10 72.65,51.25 73.90,49.20 C75.15,47.15 76.35,44.73 77.60,42.90 C78.85,41.07 79.98,39.67 81.40,38.20 C82.82,36.73 84.37,35.20 86.10,34.10 C87.83,33.00 89.75,32.25 91.80,31.60 C93.85,30.95 96.20,30.42 98.40,30.20 C100.60,29.98 103.07,29.97 105.00,30.30 C106.93,30.63 108.17,31.42 110.00,32.20 C111.83,32.98 114.00,34.20 116.00,35.00 C118.00,35.80 120.00,36.42 122.00,37.00 C124.00,37.58 125.98,38.10 128.00,38.50 C130.02,38.90 132.08,39.23 134.10,39.40 C136.12,39.57 138.10,39.65 140.10,39.50 C142.10,39.35 144.30,38.82 146.10,38.50 C147.90,38.18 149.30,37.55 150.90,37.60 C152.50,37.65 154.10,38.30 155.70,38.80 C157.30,39.30 159.70,40.30 160.50,40.60 C159.70,40.80 157.50,41.60 155.70,41.80 C153.90,42.00 151.70,41.83 149.70,41.80 C147.70,41.77 145.50,41.60 143.70,41.60 C141.90,41.60 140.10,41.63 138.90,41.80 C137.70,41.97 136.90,42.47 136.50,42.60 C135.57,43.45 132.48,45.95 130.90,47.70 C129.32,49.45 128.17,51.17 127.00,53.10 C125.83,55.03 124.80,57.50 123.90,59.30 C123.00,61.10 122.50,62.35 121.60,63.90 C120.70,65.45 119.53,67.18 118.50,68.60 C117.47,70.02 116.68,71.30 115.40,72.40 C114.12,73.50 112.60,74.42 110.80,75.20 C109.00,75.98 106.40,76.67 104.60,77.10 C102.80,77.53 102.23,77.35 100.00,77.80 C97.77,78.25 94.38,79.42 91.20,79.80 C88.02,80.18 83.47,80.13 80.90,80.10 C78.33,80.07 77.52,79.85 75.80,79.60 C74.08,79.35 72.32,79.03 70.60,78.60 C68.88,78.17 67.47,77.52 65.50,77.00 C63.53,76.48 59.92,75.75 58.80,75.50 Z" fill="none" stroke="#300000" stroke-width="0.6"/>
</g>
<text x="6.7" y="13.8" font-family='"Liberation Serif", serif' font-weight="bold" font-size="11" fill="#000" stroke="#000" stroke-width="0.35">a</text>
<text x="10.1" y="38.8" font-family='"Liberation Serif", serif' font-weight="bold" font-size="9.2" textLength="22.2" lengthAdjust="spacingAndGlyphs" fill="#111" stroke="#111" stroke-width="0.22">MRR</text>
<text x="34.7" y="38.8" font-family='"Liberation Sans", sans-serif' font-weight="bold" font-size="5.6" textLength="7.7" lengthAdjust="spacingAndGlyphs" fill="#111" stroke="#111" stroke-width="0.22">.06</text>
<text x="37.3" y="52.3" font-family='"Liberation Sans", sans-serif' font-weight="bold" font-size="5.7" text-anchor="middle" fill="#111" stroke="#111" stroke-width="0.12">0.04</text>
<text x="37.3" y="64.8" font-family='"Liberation Sans", sans-serif' font-weight="bold" font-size="5.7" text-anchor="middle" fill="#111" stroke="#111" stroke-width="0.12">0.02</text>
<text x="37.3" y="77.3" font-family='"Liberation Sans", sans-serif' font-weight="bold" font-size="5.7" text-anchor="middle" fill="#111" stroke="#111" stroke-width="0.12">0.00</text>
<text x="48.7" y="90.9" font-family='"Liberation Sans", sans-serif' font-weight="bold" font-size="5.6" text-anchor="middle" fill="#111" stroke="#111" stroke-width="0.12">80</text>
<text x="67.0" y="98.7" font-family='"Liberation Sans", sans-serif' font-weight="bold" font-size="5.6" text-anchor="middle" fill="#111" stroke="#111" stroke-width="0.12">60</text>
<text x="84.0" y="104.7" font-family='"Liberation Sans", sans-serif' font-weight="bold" font-size="5.6" text-anchor="middle" fill="#111" stroke="#111" stroke-width="0.12">40</text>
<text x="100.0" y="111.5" font-family='"Liberation Sans", sans-serif' font-weight="bold" font-size="5.6" text-anchor="middle" fill="#111" stroke="#111" stroke-width="0.12">20</text>
<text x="119.2" y="111.5" font-family='"Liberation Sans", sans-serif' font-weight="bold" font-size="5.6" text-anchor="middle" fill="#111" stroke="#111" stroke-width="0.12">18</text>
<text x="136.2" y="103.4" font-family='"Liberation Sans", sans-serif' font-weight="bold" font-size="5.6" text-anchor="middle" fill="#111" stroke="#111" stroke-width="0.12">21</text>
<text x="151.2" y="95.7" font-family='"Liberation Sans", sans-serif' font-weight="bold" font-size="5.6" text-anchor="middle" fill="#111" stroke="#111" stroke-width="0.12">24</text>
<text x="165.8" y="87.3" font-family='"Liberation Sans", sans-serif' font-weight="bold" font-size="5.6" text-anchor="middle" fill="#111" stroke="#111" stroke-width="0.12">27</text>
<text x="36.4" y="112.1" font-family='"Liberation Serif", serif' font-weight="bold" font-size="9.0" textLength="23.1" lengthAdjust="spacingAndGlyphs" fill="#111" stroke="#111" stroke-width="0.22">DUTY</text>
<text x="34.5" y="122.0" font-family='"Liberation Serif", serif' font-weight="bold" font-size="8.8" textLength="35.2" lengthAdjust="spacingAndGlyphs" fill="#111" stroke="#111" stroke-width="0.22">FACTOR</text>
<text x="150.1" y="110.8" font-family='"Liberation Serif", serif' font-weight="bold" font-size="8.8" textLength="23.3" lengthAdjust="spacingAndGlyphs" fill="#111" stroke="#111" stroke-width="0.22">PEAK</text>
<text x="145.9" y="119.7" font-family='"Liberation Sans", sans-serif' font-weight="bold" font-size="7.0" textLength="31.7" lengthAdjust="spacingAndGlyphs" fill="#111" stroke="#111" stroke-width="0.22">CURRENT</text>
<rect x="191" y="2" width="201" height="128" fill="#000"/>
<rect x="193" y="4" width="197" height="124" fill="#fff"/>
<rect x="194" y="5" width="195" height="122" fill="#f0f0f0"/>
<g clip-path="url(#cpb)">
<polygon points="228.2,24.8 323.5,12.5 356.2,44.2 356.2,94.6 261.5,107.0 228.2,75.4" fill="#fbe93a"/>
<polyline points="228.2,24.8 323.5,12.5 356.2,44.2 356.2,94.6" stroke="#555" stroke-width="0.8" stroke-dasharray="3 2" fill="none"/>
<polyline points="228.2,75.4 323.7,63.0 356.2,94.6" stroke="#555" stroke-width="0.8" stroke-dasharray="3 2" fill="none"/>
<line x1="323.5" y1="12.5" x2="323.7" y2="63.0" stroke="#555" stroke-width="0.8" stroke-dasharray="3 2" fill="none"/>
<polyline points="228.2,24.8 228.2,75.4" stroke="#9a9a70" stroke-width="0.6" fill="none"/>
<polyline points="228.2,75.4 261.5,107.0 356.2,94.6" stroke="#5a5a40" stroke-width="0.8" fill="none"/>
<path d="M242.70,73.70 C243.72,72.10 246.42,67.53 248.80,64.10 C251.18,60.67 254.25,56.55 257.00,53.10 C259.75,49.65 262.53,46.17 265.30,43.40 C268.07,40.63 270.85,38.47 273.60,36.50 C276.35,34.53 279.05,33.07 281.80,31.60 C284.55,30.13 287.07,28.75 290.10,27.70 C293.13,26.65 297.35,25.82 300.00,25.30 C302.65,24.78 304.08,24.60 306.00,24.60 C307.92,24.60 309.20,24.77 311.50,25.30 C313.80,25.83 317.05,26.55 319.80,27.80 C322.55,29.05 325.60,30.85 328.00,32.80 C330.40,34.75 332.32,37.53 334.20,39.50 C336.08,41.47 337.58,42.92 339.30,44.60 C341.02,46.28 342.87,47.97 344.50,49.60 C346.13,51.23 348.33,53.60 349.10,54.40 C348.50,54.15 346.78,53.42 345.50,52.90 C344.22,52.38 342.95,51.73 341.40,51.30 C339.85,50.87 337.92,50.50 336.20,50.30 C334.48,50.10 332.82,50.10 331.10,50.10 C329.38,50.10 327.62,50.17 325.90,50.30 C324.18,50.43 322.52,50.48 320.80,50.90 C319.08,51.32 317.45,51.92 315.60,52.80 C313.75,53.68 311.53,55.20 309.70,56.20 C307.87,57.20 306.13,57.85 304.60,58.80 C303.07,59.75 301.70,60.97 300.50,61.90 C299.30,62.83 298.43,63.47 297.40,64.40 C296.37,65.33 295.33,66.47 294.30,67.50 C293.27,68.53 292.23,69.48 291.20,70.60 C290.17,71.72 289.10,72.97 288.10,74.20 C287.10,75.43 286.12,76.80 285.20,78.00 C284.28,79.20 283.72,79.83 282.60,81.40 C281.48,82.97 279.70,85.55 278.50,87.40 C277.30,89.25 276.52,90.78 275.40,92.50 C274.28,94.22 272.40,96.83 271.80,97.70 L242.70,73.70 Z" fill="#cc0a0a"/>
<g clip-path="url(#scb)" fill="none" stroke="#620000">
<path d="M245.1,69.8 L272.9,96.2 M247.6,65.9 L275.5,92.4 M250.2,62.1 L277.9,88.4 M252.9,58.4 L280.4,84.6 M255.7,54.8 L283.0,80.8 M258.5,51.2 L285.9,77.1 M261.4,47.6 L288.7,73.5 M264.5,44.2 L291.7,70.1 M267.8,41.0 L295.0,66.8 M271.4,38.1 L298.2,63.7 M275.1,35.5 L301.8,60.8 M279.0,33.1 L305.5,58.3 M283.1,30.9 L309.7,56.2 M287.2,28.9 L313.6,53.9 M291.5,27.3 L317.5,52.0 M295.9,26.1 L321.8,50.7 M300.4,25.2 L326.8,50.2 M305.0,24.6 L331.8,50.1 M309.6,24.9 L336.3,50.3 M314.0,25.9 L340.5,51.1 M318.4,27.2 L345.4,52.9" stroke-width="0.6"/>
<path d="M246.7,71.3 L249.1,67.4 L251.7,63.6 L254.4,59.9 L257.2,56.2 L260.0,52.6 L263.0,49.1 L266.0,45.7 L269.3,42.5 L272.9,39.6 L276.6,36.9 L280.5,34.5 L284.6,32.3 L288.7,30.3 L292.9,28.6 L297.4,27.5 L301.9,26.6 L306.5,26.0 L311.0,26.3 L315.5,27.3 L319.9,28.7 M248.2,72.7 L250.7,68.9 L253.3,65.1 L255.9,61.3 L258.7,57.7 L261.6,54.1 L264.5,50.5 L267.5,47.1 L270.8,43.9 L274.4,41.0 L278.1,38.3 L282.0,35.9 L286.0,33.7 L290.1,31.6 L294.4,30.0 L298.8,28.9 L303.4,28.0 L308.0,27.5 L312.5,27.7 L317.0,28.7 L321.4,30.1 M249.7,74.2 L252.2,70.3 L254.8,66.5 L257.5,62.8 L260.2,59.1 L263.1,55.5 L266.0,51.9 L269.0,48.5 L272.3,45.3 L275.9,42.4 L279.6,39.7 L283.5,37.3 L287.5,35.1 L291.6,33.0 L295.8,31.4 L300.2,30.2 L304.8,29.4 L309.5,28.9 L314.0,29.1 L318.5,30.1 L322.9,31.5 M251.3,75.7 L253.8,71.8 L256.3,68.0 L259.0,64.2 L261.8,60.6 L264.6,57.0 L267.5,53.4 L270.6,50.0 L273.9,46.8 L277.3,43.8 L281.0,41.1 L284.9,38.7 L289.0,36.5 L293.0,34.4 L297.3,32.7 L301.7,31.6 L306.3,30.8 L310.9,30.3 L315.5,30.5 L319.9,31.5 L324.4,32.9 M252.8,77.1 L255.3,73.3 L257.9,69.4 L260.5,65.7 L263.3,62.0 L266.1,58.4 L269.0,54.8 L272.1,51.4 L275.4,48.2 L278.8,45.2 L282.5,42.5 L286.4,40.1 L290.5,37.9 L294.5,35.8 L298.7,34.1 L303.1,33.0 L307.8,32.2 L312.4,31.7 L317.0,32.0 L321.4,32.9 L325.9,34.4 M254.4,78.6 L256.9,74.7 L259.4,70.9 L262.1,67.1 L264.8,63.4 L267.6,59.8 L270.5,56.3 L273.6,52.8 L276.9,49.6 L280.3,46.6 L284.0,43.9 L287.9,41.5 L292.0,39.3 L296.0,37.2 L300.2,35.5 L304.6,34.3 L309.2,33.6 L313.9,33.1 L318.5,33.4 L322.9,34.3 L327.4,35.8 M255.9,80.1 L258.4,76.2 L260.9,72.4 L263.6,68.6 L266.3,64.9 L269.2,61.3 L272.0,57.7 L275.1,54.3 L278.4,51.1 L281.8,48.1 L285.5,45.3 L289.3,42.9 L293.4,40.7 L297.4,38.6 L301.6,36.9 L306.0,35.7 L310.7,34.9 L315.4,34.5 L320.0,34.8 L324.3,35.7 L328.9,37.2 M257.5,81.5 L260.0,77.7 L262.5,73.8 L265.1,70.0 L267.8,66.3 L270.7,62.7 L273.5,59.1 L276.6,55.7 L279.9,52.5 L283.3,49.5 L287.0,46.7 L290.8,44.3 L294.9,42.2 L298.9,40.0 L303.0,38.2 L307.4,37.1 L312.1,36.3 L316.9,35.9 L321.5,36.2 L325.8,37.1 L330.4,38.6 M259.0,83.0 L261.5,79.2 L264.0,75.3 L266.6,71.5 L269.4,67.8 L272.2,64.2 L275.1,60.6 L278.1,57.1 L281.4,53.9 L284.8,50.9 L288.5,48.2 L292.3,45.7 L296.4,43.6 L300.4,41.4 L304.5,39.6 L308.9,38.4 L313.6,37.7 L318.4,37.4 L322.9,37.6 L327.3,38.5 L331.9,40.0 M260.5,84.4 L263.1,80.6 L265.6,76.7 L268.2,72.9 L270.9,69.2 L273.7,65.6 L276.6,62.0 L279.6,58.6 L282.9,55.4 L286.3,52.3 L290.0,49.6 L293.8,47.1 L297.9,45.0 L301.8,42.8 L305.9,41.0 L310.3,39.8 L315.1,39.1 L319.9,38.8 L324.4,39.0 L328.8,39.9 L333.4,41.5 M262.1,85.9 L264.6,82.1 L267.1,78.2 L269.7,74.4 L272.4,70.7 L275.2,67.0 L278.1,63.4 L281.1,60.0 L284.4,56.8 L287.8,53.7 L291.4,51.0 L295.2,48.5 L299.3,46.4 L303.3,44.2 L307.4,42.4 L311.7,41.1 L316.5,40.5 L321.4,40.2 L325.9,40.4 L330.2,41.3 L334.9,42.9 M263.6,87.4 L266.2,83.6 L268.6,79.7 L271.2,75.9 L273.9,72.1 L276.7,68.5 L279.6,64.9 L282.6,61.4 L285.9,58.2 L289.3,55.2 L292.9,52.4 L296.7,49.9 L300.8,47.8 L304.8,45.6 L308.8,43.7 L313.2,42.5 L318.0,41.9 L322.9,41.6 L327.4,41.8 L331.7,42.7 L336.4,44.3 M265.2,88.8 L267.7,85.0 L270.2,81.1 L272.8,77.3 L275.4,73.6 L278.3,69.9 L281.1,66.3 L284.2,62.9 L287.4,59.7 L290.8,56.6 L294.4,53.8 L298.2,51.3 L302.3,49.2 L306.2,47.0 L310.3,45.1 L314.6,43.9 L319.5,43.3 L324.4,43.0 L328.9,43.3 L333.2,44.1 L337.9,45.7 M266.7,90.3 L269.3,86.5 L271.7,82.6 L274.3,78.8 L277.0,75.0 L279.8,71.4 L282.6,67.8 L285.7,64.3 L288.9,61.1 L292.3,58.0 L295.9,55.2 L299.7,52.7 L303.8,50.6 L307.7,48.3 L311.7,46.5 L316.0,45.2 L320.9,44.7 L325.8,44.4 L330.4,44.7 L334.6,45.5 L339.4,47.2 M268.2,91.8 L270.8,88.0 L273.2,84.0 L275.8,80.2 L278.5,76.4 L281.3,72.8 L284.1,69.2 L287.2,65.8 L290.4,62.5 L293.8,59.4 L297.4,56.6 L301.1,54.1 L305.3,52.0 L309.2,49.7 L313.2,47.8 L317.5,46.6 L322.4,46.1 L327.3,45.9 L331.9,46.1 L336.1,46.9 L340.9,48.6 M269.8,93.2 L272.4,89.5 L274.8,85.5 L277.3,81.7 L280.0,77.9 L282.8,74.3 L285.6,70.6 L288.7,67.2 L291.9,64.0 L295.3,60.8 L298.9,58.0 L302.6,55.5 L306.7,53.4 L310.6,51.1 L314.6,49.2 L318.9,48.0 L323.9,47.5 L328.8,47.3 L333.3,47.5 L337.6,48.3 L342.4,50.0 M271.3,94.7 L273.9,90.9 L276.3,87.0 L278.9,83.1 L281.5,79.3 L284.3,75.7 L287.2,72.1 L290.2,68.6 L293.5,65.4 L296.8,62.2 L300.3,59.4 L304.1,56.9 L308.2,54.8 L312.1,52.5 L316.1,50.6 L320.4,49.3 L325.3,48.8 L330.3,48.7 L334.8,48.9 L339.1,49.7 L343.9,51.4" stroke-width="0.45"/>
</g>
<path d="M300.0,25.3 L311.5,25.3 L319.8,27.8 L328.0,32.8 L334.2,39.5 L339.3,44.6 L344.5,49.6 L349.1,54.4" clip-path="url(#scb)" fill="none" stroke="#200000" stroke-width="9" stroke-opacity="0.35" stroke-linecap="round" stroke-linejoin="round" filter="url(#blur)"/>
<path d="M242.70,73.70 C243.72,72.10 246.42,67.53 248.80,64.10 C251.18,60.67 254.25,56.55 257.00,53.10 C259.75,49.65 262.53,46.17 265.30,43.40 C268.07,40.63 270.85,38.47 273.60,36.50 C276.35,34.53 279.05,33.07 281.80,31.60 C284.55,30.13 287.07,28.75 290.10,27.70 C293.13,26.65 297.35,25.82 300.00,25.30 C302.65,24.78 304.08,24.60 306.00,24.60 C307.92,24.60 309.20,24.77 311.50,25.30 C313.80,25.83 317.05,26.55 319.80,27.80 C322.55,29.05 325.60,30.85 328.00,32.80 C330.40,34.75 332.32,37.53 334.20,39.50 C336.08,41.47 337.58,42.92 339.30,44.60 C341.02,46.28 342.87,47.97 344.50,49.60 C346.13,51.23 348.33,53.60 349.10,54.40 C348.50,54.15 346.78,53.42 345.50,52.90 C344.22,52.38 342.95,51.73 341.40,51.30 C339.85,50.87 337.92,50.50 336.20,50.30 C334.48,50.10 332.82,50.10 331.10,50.10 C329.38,50.10 327.62,50.17 325.90,50.30 C324.18,50.43 322.52,50.48 320.80,50.90 C319.08,51.32 317.45,51.92 315.60,52.80 C313.75,53.68 311.53,55.20 309.70,56.20 C307.87,57.20 306.13,57.85 304.60,58.80 C303.07,59.75 301.70,60.97 300.50,61.90 C299.30,62.83 298.43,63.47 297.40,64.40 C296.37,65.33 295.33,66.47 294.30,67.50 C293.27,68.53 292.23,69.48 291.20,70.60 C290.17,71.72 289.10,72.97 288.10,74.20 C287.10,75.43 286.12,76.80 285.20,78.00 C284.28,79.20 283.72,79.83 282.60,81.40 C281.48,82.97 279.70,85.55 278.50,87.40 C277.30,89.25 276.52,90.78 275.40,92.50 C274.28,94.22 272.40,96.83 271.80,97.70 L242.70,73.70 Z" fill="none" stroke="#300000" stroke-width="0.6"/>
</g>
<text x="201.8" y="14.4" font-family='"Liberation Serif", serif' font-weight="bold" font-size="11" fill="#000" stroke="#000" stroke-width="0.35">b</text>
<text x="201.2" y="28.2" font-family='"Liberation Serif", serif' font-weight="bold" font-size="9.0" textLength="22.0" lengthAdjust="spacingAndGlyphs" fill="#111" stroke="#111" stroke-width="0.22">MRR</text>
<text x="216.5" y="36.1" font-family='"Liberation Sans", sans-serif' font-weight="bold" font-size="5.7" text-anchor="middle" fill="#111" stroke="#111" stroke-width="0.12">0.06</text>
<text x="216.5" y="49.4" font-family='"Liberation Sans", sans-serif' font-weight="bold" font-size="5.7" text-anchor="middle" fill="#111" stroke="#111" stroke-width="0.12">0.04</text>
<text x="216.5" y="62.1" font-family='"Liberation Sans", sans-serif' font-weight="bold" font-size="5.7" text-anchor="middle" fill="#111" stroke="#111" stroke-width="0.12">0.02</text>
<text x="217.0" y="74.6" font-family='"Liberation Sans", sans-serif' font-weight="bold" font-size="5.7" text-anchor="middle" fill="#111" stroke="#111" stroke-width="0.12">0.00</text>
<text x="220.0" y="83.3" font-family='"Liberation Sans", sans-serif' font-weight="bold" font-size="5.9" text-anchor="middle" fill="#111" stroke="#111" stroke-width="0.12">140</text>
<text x="233.3" y="94.7" font-family='"Liberation Sans", sans-serif' font-weight="bold" font-size="5.9" text-anchor="middle" fill="#111" stroke="#111" stroke-width="0.12">120</text>
<text x="249.0" y="110.3" font-family='"Liberation Sans", sans-serif' font-weight="bold" font-size="5.9" text-anchor="middle" fill="#111" stroke="#111" stroke-width="0.12">100</text>
<text x="276.7" y="118.9" font-family='"Liberation Sans", sans-serif' font-weight="bold" font-size="5.9" text-anchor="middle" fill="#111" stroke="#111" stroke-width="0.12">18</text>
<text x="300.7" y="114.0" font-family='"Liberation Sans", sans-serif' font-weight="bold" font-size="5.9" text-anchor="middle" fill="#111" stroke="#111" stroke-width="0.12">21</text>
<text x="321.8" y="109.8" font-family='"Liberation Sans", sans-serif' font-weight="bold" font-size="5.9" text-anchor="middle" fill="#111" stroke="#111" stroke-width="0.12">24</text>
<text x="346.9" y="105.0" font-family='"Liberation Sans", sans-serif' font-weight="bold" font-size="5.9" text-anchor="middle" fill="#111" stroke="#111" stroke-width="0.12">27</text>
<text x="193.7" y="100.3" font-family='"Liberation Sans", sans-serif' font-weight="bold" font-size="7.4" textLength="32.9" lengthAdjust="spacingAndGlyphs" fill="#111" stroke="#111" stroke-width="0.22">VOLTAGE</text>
<text x="323.4" y="119.6" font-family='"Liberation Serif", serif' font-weight="bold" font-size="9.6" textLength="23.5" lengthAdjust="spacingAndGlyphs" fill="#111" stroke="#111" stroke-width="0.22">PEAK</text>
<text x="318.9" y="128.6" font-family='"Liberation Sans", sans-serif' font-weight="bold" font-size="8.0" textLength="32.1" lengthAdjust="spacingAndGlyphs" fill="#111" stroke="#111" stroke-width="0.22">CURRENT</text>
<rect x="399" y="3" width="197" height="125" fill="#000"/>
<rect x="401" y="5" width="193" height="121" fill="#fff"/>
<rect x="402" y="6" width="191" height="119" fill="#e9e9e9"/>
<rect x="403.5" y="102.5" width="17" height="18" fill="#f1f1f1"/>
<rect x="428" y="106.5" width="52" height="18.5" fill="#ececec"/>
<rect x="557" y="86.5" width="35.5" height="24.5" fill="#efefef"/>
<rect x="410.8" y="21.7" width="28.7" height="11.6" fill="#eeeeee"/>
<g clip-path="url(#cpc)">
<polygon points="444.0,39.5 474.5,6.7 557.8,17.3 557.8,69.7 527.5,102.3 444.0,91.5" fill="#fff03c"/>
<polyline points="444.0,39.5 474.5,6.7 557.8,17.3 557.8,69.7" stroke="#555" stroke-width="1.0" stroke-dasharray="4 3" fill="none"/>
<polyline points="444.0,91.5 474.5,59.1 557.8,69.7" stroke="#555" stroke-width="1.0" stroke-dasharray="4 3" fill="none"/>
<line x1="474.5" y1="6.7" x2="474.5" y2="59.1" stroke="#555" stroke-width="1.0" stroke-dasharray="4 3" fill="none"/>
<polyline points="444.0,39.5 444.0,91.5" stroke="#9a9a70" stroke-width="0.6" fill="none"/>
<polyline points="444.0,91.5 527.5,102.3 557.8,69.7" stroke="#5a5a40" stroke-width="0.8" fill="none"/>
<path d="M450.00,69.70 C450.07,68.82 450.00,67.12 450.40,64.40 C450.80,61.68 451.38,57.07 452.40,53.40 C453.42,49.73 454.90,46.05 456.50,42.40 C458.10,38.75 460.18,34.47 462.00,31.50 C463.82,28.53 465.48,26.10 467.40,24.60 C469.32,23.10 470.75,22.03 473.50,22.50 C476.25,22.97 480.33,25.57 483.90,27.40 C487.47,29.23 492.22,32.10 494.90,33.50 C497.58,34.90 497.43,34.45 500.00,35.80 C502.57,37.15 506.87,39.35 510.30,41.60 C513.73,43.85 517.15,46.72 520.60,49.30 C524.05,51.88 527.98,54.95 531.00,57.10 C534.02,59.25 536.57,60.70 538.70,62.20 C540.83,63.70 541.87,64.93 543.80,66.10 C545.73,67.27 549.22,68.68 550.30,69.20 C549.22,68.93 545.52,67.65 543.80,67.60 C542.08,67.55 540.63,68.68 540.00,68.90 C539.35,69.72 537.40,71.68 536.10,73.80 C534.80,75.92 533.48,79.02 532.20,81.60 C530.92,84.18 529.47,86.98 528.40,89.30 C527.33,91.62 526.52,94.20 525.80,95.50 C525.08,96.80 524.38,96.83 524.10,97.10 C523.45,96.80 522.40,96.33 520.20,95.30 C518.00,94.27 514.27,92.33 510.90,90.90 C507.53,89.47 505.37,88.57 500.00,86.70 C494.63,84.83 484.83,81.77 478.70,79.70 C472.57,77.63 467.98,75.97 463.20,74.30 C458.42,72.63 452.20,70.47 450.00,69.70 Z" fill="#de0a0a"/>
<g clip-path="url(#scc)" fill="none" stroke="#660000">
<path d="M450.4,64.6 L452.3,65.3 L454.2,66.0 L456.2,66.7 L458.1,67.4 L460.0,68.1 L461.9,68.8 L463.8,69.4 L465.8,70.2 L467.7,70.9 L469.6,71.6 L471.5,72.3 L473.4,72.9 L475.4,73.6 L477.3,74.3 L479.2,75.0 L481.1,75.7 L483.1,76.3 L485.0,77.0 L486.9,77.7 L488.8,78.4 L490.8,79.1 L492.7,79.7 L494.6,80.4 L496.5,81.1 L498.4,81.8 L500.3,82.5 L502.2,83.2 L504.1,84.0 L506.0,84.7 L507.9,85.5 L509.8,86.3 L511.7,87.1 L513.6,87.9 L515.4,88.8 L517.2,89.7 L519.1,90.6 L520.9,91.5 L522.7,92.4 L524.6,93.2 L526.5,94.1 M451.1,59.6 L453.1,60.2 L455.0,60.9 L457.0,61.7 L458.9,62.4 L460.9,63.1 L462.8,63.8 L464.8,64.6 L466.7,65.3 L468.6,66.0 L470.6,66.8 L472.5,67.5 L474.5,68.2 L476.4,68.9 L478.4,69.6 L480.3,70.3 L482.3,71.0 L484.2,71.7 L486.2,72.4 L488.1,73.2 L490.0,73.9 L492.0,74.6 L493.9,75.4 L495.8,76.1 L497.7,76.9 L499.6,77.6 L501.6,78.4 L503.5,79.2 L505.4,80.0 L507.3,80.8 L509.2,81.6 L511.1,82.4 L513.0,83.2 L514.9,84.1 L516.7,85.0 L518.6,85.9 L520.4,86.9 L522.2,87.8 L524.1,88.7 L526.0,89.6 L527.9,90.4 M452.1,54.6 L454.1,55.2 L456.1,56.0 L458.1,56.7 L460.0,57.5 L462.0,58.2 L464.0,59.0 L465.9,59.7 L467.9,60.5 L469.8,61.3 L471.8,62.0 L473.8,62.8 L475.8,63.5 L477.7,64.2 L479.7,64.9 L481.7,65.7 L483.7,66.4 L485.6,67.2 L487.6,67.9 L489.5,68.7 L491.5,69.5 L493.4,70.3 L495.3,71.1 L497.2,71.9 L499.1,72.7 L501.1,73.5 L503.0,74.4 L504.9,75.2 L506.8,76.0 L508.7,76.9 L510.6,77.7 L512.5,78.6 L514.5,79.5 L516.4,80.4 L518.3,81.3 L520.1,82.3 L521.9,83.3 L523.8,84.2 L525.7,85.1 L527.7,86.0 L529.6,86.8 M453.6,49.7 L455.6,50.4 L457.6,51.1 L459.6,51.9 L461.6,52.7 L463.5,53.4 L465.5,54.2 L467.5,55.0 L469.5,55.8 L471.4,56.6 L473.4,57.4 L475.4,58.2 L477.4,58.9 L479.4,59.6 L481.4,60.4 L483.4,61.2 L485.3,61.9 L487.3,62.7 L489.3,63.5 L491.2,64.3 L493.2,65.2 L495.1,66.0 L497.0,66.9 L498.9,67.8 L500.8,68.6 L502.7,69.5 L504.7,70.4 L506.6,71.3 L508.5,72.2 L510.4,73.1 L512.3,74.0 L514.2,74.9 L516.1,75.8 L518.0,76.7 L519.9,77.7 L521.8,78.7 L523.6,79.7 L525.5,80.7 L527.4,81.6 L529.4,82.5 L531.4,83.3 M455.4,45.0 L457.5,45.6 L459.5,46.3 L461.4,47.1 L463.4,48.0 L465.4,48.8 L467.4,49.6 L469.4,50.4 L471.3,51.2 L473.3,52.0 L475.3,52.9 L477.3,53.7 L479.3,54.4 L481.3,55.1 L483.3,55.9 L485.3,56.7 L487.2,57.5 L489.2,58.3 L491.2,59.1 L493.1,60.0 L495.0,60.9 L496.9,61.8 L498.8,62.7 L500.7,63.7 L502.6,64.6 L504.5,65.5 L506.4,66.4 L508.3,67.4 L510.2,68.3 L512.1,69.3 L514.0,70.2 L515.9,71.2 L517.8,72.1 L519.8,73.0 L521.7,74.0 L523.5,75.1 L525.3,76.2 L527.2,77.2 L529.1,78.1 L531.1,78.9 L533.1,79.7 M457.4,40.3 L459.5,40.9 L461.5,41.7 L463.5,42.5 L465.5,43.3 L467.5,44.2 L469.4,45.0 L471.4,45.8 L473.4,46.7 L475.3,47.5 L477.3,48.4 L479.3,49.2 L481.3,49.9 L483.3,50.7 L485.3,51.5 L487.3,52.3 L489.3,53.1 L491.2,54.0 L493.2,54.8 L495.1,55.7 L497.0,56.7 L498.9,57.6 L500.8,58.6 L502.6,59.6 L504.5,60.6 L506.4,61.5 L508.3,62.5 L510.1,63.5 L512.0,64.5 L513.9,65.5 L515.8,66.5 L517.7,67.5 L519.6,68.4 L521.5,69.4 L523.4,70.4 L525.2,71.5 L527.0,72.6 L528.9,73.6 L530.8,74.5 L532.8,75.4 L534.8,76.2 M459.7,35.7 L461.7,36.3 L463.8,37.1 L465.7,37.9 L467.7,38.8 L469.7,39.6 L471.7,40.5 L473.6,41.3 L475.6,42.2 L477.6,43.1 L479.5,44.0 L481.5,44.8 L483.5,45.6 L485.6,46.3 L487.5,47.2 L489.5,48.0 L491.5,48.8 L493.5,49.7 L495.4,50.6 L497.3,51.6 L499.2,52.6 L501.1,53.6 L502.9,54.6 L504.8,55.6 L506.6,56.7 L508.5,57.7 L510.3,58.7 L512.2,59.8 L514.1,60.8 L515.9,61.8 L517.8,62.9 L519.7,63.9 L521.6,64.9 L523.5,65.9 L525.4,66.9 L527.2,68.0 L529.0,69.2 L530.8,70.2 L532.8,71.1 L534.8,72.0 L536.8,72.8 M462.1,31.3 L464.2,31.9 L466.3,32.7 L468.3,33.5 L470.2,34.4 L472.2,35.3 L474.2,36.2 L476.2,37.1 L478.1,38.0 L480.1,38.9 L482.1,39.8 L484.1,40.7 L486.1,41.4 L488.1,42.2 L490.1,43.0 L492.1,43.9 L494.1,44.8 L496.1,45.7 L498.0,46.6 L499.9,47.6 L501.8,48.7 L503.6,49.8 L505.5,50.9 L507.3,52.0 L509.2,53.0 L511.0,54.1 L512.8,55.2 L514.7,56.3 L516.5,57.4 L518.4,58.5 L520.3,59.6 L522.1,60.6 L524.0,61.6 L525.9,62.7 L527.8,63.7 L529.6,64.9 L531.4,66.1 L533.3,67.2 L535.3,68.1 L537.3,68.9 L539.3,69.7 M465.0,27.1 L467.1,27.7 L469.2,28.5 L471.2,29.4 L473.2,30.4 L475.2,31.3 L477.2,32.2 L479.2,33.1 L481.1,34.1 L483.1,35.1 L485.1,36.0 L487.1,37.0 L489.2,37.7 L491.2,38.6 L493.2,39.5 L495.3,40.4 L497.2,41.3 L499.2,42.3 L501.2,43.3 L503.1,44.4 L505.0,45.5 L506.8,46.6 L508.7,47.8 L510.5,49.0 L512.3,50.2 L514.2,51.3 L516.0,52.5 L517.9,53.7 L519.7,54.8 L521.6,56.0 L523.4,57.1 L525.3,58.2 L527.2,59.3 L529.1,60.4 L531.0,61.5 L532.9,62.7 L534.6,64.0 L536.5,65.1 L538.5,66.1 L540.6,66.9 L542.6,67.7 M468.7,23.6 L470.9,24.3 L472.9,25.2 L474.9,26.2 L476.9,27.2 L479.0,28.2 L481.0,29.2 L483.0,30.3 L484.9,31.3 L486.9,32.4 L488.9,33.4 L490.9,34.4 L493.0,35.3 L495.1,36.2 L497.1,37.2 L499.1,38.2 L501.1,39.2 L503.1,40.3 L505.1,41.4 L507.0,42.6 L508.9,43.8 L510.7,45.1 L512.5,46.4 L514.3,47.7 L516.2,49.0 L518.0,50.3 L519.9,51.5 L521.7,52.8 L523.5,54.1 L525.4,55.4 L527.2,56.6 L529.1,57.9 L531.0,59.0 L533.0,60.2 L534.9,61.4 L536.7,62.7 L538.5,64.1 L540.4,65.3 L542.4,66.3 L544.4,67.2 L546.5,68.1" stroke-width="0.6"/>
<path d="M454.4,71.2 L454.5,69.9 L454.6,68.5 L454.8,67.1 L455.0,65.7 L455.2,64.3 L455.4,62.9 L455.7,61.6 L455.9,60.2 L456.2,58.8 L456.5,57.5 L456.8,56.1 L457.2,54.7 L457.6,53.4 L458.1,52.1 L458.5,50.8 L459.0,49.5 L459.5,48.2 L460.1,46.9 L460.6,45.6 L461.2,44.3 L461.7,43.0 L462.3,41.7 L462.9,40.5 L463.5,39.2 L464.2,38.0 L464.8,36.7 L465.5,35.5 L466.2,34.3 L466.9,33.1 L467.6,31.9 L468.4,30.7 L469.3,29.6 L470.1,28.5 L471.1,27.5 L472.1,26.6 L473.2,25.8 L474.4,25.1 L475.7,24.6 L477.0,24.4 L478.4,24.5 M458.8,72.8 L459.0,71.4 L459.1,70.1 L459.3,68.7 L459.5,67.4 L459.8,66.0 L460.0,64.6 L460.2,63.3 L460.5,61.9 L460.8,60.6 L461.1,59.2 L461.4,57.9 L461.8,56.5 L462.3,55.2 L462.7,53.9 L463.2,52.6 L463.7,51.3 L464.2,50.0 L464.7,48.8 L465.3,47.5 L465.8,46.2 L466.4,44.9 L467.0,43.7 L467.6,42.4 L468.2,41.2 L468.8,39.9 L469.5,38.7 L470.1,37.5 L470.8,36.3 L471.6,35.1 L472.3,34.0 L473.1,32.9 L473.9,31.8 L474.8,30.7 L475.8,29.8 L476.8,28.9 L477.9,28.2 L479.1,27.5 L480.4,27.0 L481.7,26.9 L483.1,27.0 M463.2,74.3 L463.4,73.0 L463.6,71.7 L463.8,70.3 L464.0,69.0 L464.3,67.7 L464.5,66.3 L464.8,65.0 L465.1,63.6 L465.4,62.3 L465.7,61.0 L466.1,59.7 L466.5,58.3 L466.9,57.0 L467.4,55.7 L467.8,54.5 L468.3,53.2 L468.9,51.9 L469.4,50.7 L469.9,49.4 L470.5,48.1 L471.0,46.9 L471.6,45.6 L472.2,44.4 L472.8,43.2 L473.5,41.9 L474.1,40.7 L474.8,39.5 L475.5,38.4 L476.2,37.2 L477.0,36.1 L477.8,35.0 L478.6,33.9 L479.5,32.9 L480.5,32.0 L481.6,31.3 L482.7,30.6 L483.8,30.0 L485.1,29.5 L486.4,29.4 L487.8,29.5 M467.6,75.8 L467.8,74.6 L468.1,73.3 L468.3,72.0 L468.6,70.7 L468.8,69.3 L469.1,68.0 L469.4,66.7 L469.7,65.4 L470.0,64.1 L470.3,62.8 L470.7,61.5 L471.1,60.2 L471.5,58.9 L472.0,57.6 L472.5,56.4 L473.0,55.1 L473.5,53.8 L474.0,52.6 L474.6,51.4 L475.1,50.1 L475.7,48.9 L476.2,47.6 L476.8,46.4 L477.4,45.2 L478.1,44.0 L478.7,42.8 L479.4,41.7 L480.1,40.5 L480.8,39.4 L481.6,38.2 L482.4,37.2 L483.3,36.2 L484.2,35.2 L485.2,34.4 L486.2,33.7 L487.3,33.0 L488.5,32.5 L489.7,32.1 L491.1,32.0 L492.4,32.1 M472.0,77.4 L472.3,76.2 L472.6,74.9 L472.8,73.6 L473.1,72.3 L473.4,71.0 L473.6,69.7 L473.9,68.4 L474.2,67.1 L474.6,65.8 L474.9,64.5 L475.3,63.2 L475.7,61.9 L476.2,60.7 L476.7,59.4 L477.1,58.2 L477.6,56.9 L478.2,55.7 L478.7,54.4 L479.2,53.2 L479.8,52.0 L480.4,50.8 L480.9,49.5 L481.5,48.3 L482.1,47.1 L482.8,45.9 L483.4,44.8 L484.1,43.6 L484.8,42.5 L485.5,41.3 L486.3,40.2 L487.1,39.2 L488.0,38.2 L488.9,37.3 L489.9,36.5 L491.0,35.9 L492.1,35.3 L493.3,34.8 L494.5,34.5 L495.8,34.4 L497.1,34.5 M476.4,78.9 L476.7,77.7 L477.0,76.5 L477.3,75.2 L477.6,73.9 L477.9,72.6 L478.2,71.3 L478.5,70.0 L478.9,68.8 L479.2,67.5 L479.6,66.2 L480.0,64.9 L480.4,63.7 L480.9,62.4 L481.3,61.2 L481.8,59.9 L482.4,58.7 L482.9,57.5 L483.4,56.2 L484.0,55.0 L484.5,53.8 L485.1,52.6 L485.6,51.4 L486.2,50.2 L486.8,49.0 L487.5,47.8 L488.1,46.6 L488.8,45.5 L489.5,44.4 L490.3,43.2 L491.0,42.1 L491.9,41.2 L492.8,40.2 L493.7,39.3 L494.8,38.6 L495.8,38.0 L496.9,37.5 L498.1,37.0 L499.3,36.7 L500.6,36.7 L501.9,36.8 M480.8,80.4 L481.2,79.3 L481.5,78.1 L481.9,76.8 L482.2,75.5 L482.5,74.3 L482.8,73.0 L483.1,71.7 L483.5,70.4 L483.8,69.2 L484.2,67.9 L484.6,66.7 L485.1,65.4 L485.5,64.2 L486.0,63.0 L486.5,61.7 L487.0,60.5 L487.5,59.3 L488.1,58.1 L488.6,56.9 L489.2,55.7 L489.7,54.5 L490.3,53.3 L490.9,52.1 L491.5,50.9 L492.1,49.8 L492.8,48.6 L493.5,47.5 L494.2,46.4 L494.9,45.3 L495.7,44.2 L496.6,43.3 L497.5,42.4 L498.4,41.6 L499.5,40.9 L500.5,40.3 L501.7,39.9 L502.8,39.5 L504.0,39.2 L505.3,39.2 L506.6,39.3 M485.2,81.8 L485.7,80.8 L486.1,79.6 L486.4,78.4 L486.7,77.1 L487.0,75.9 L487.3,74.6 L487.7,73.4 L488.0,72.1 L488.4,70.9 L488.8,69.7 L489.2,68.5 L489.7,67.2 L490.1,66.0 L490.6,64.8 L491.1,63.6 L491.6,62.4 L492.2,61.3 L492.7,60.1 L493.2,58.9 L493.8,57.7 L494.3,56.5 L494.9,55.4 L495.5,54.2 L496.1,53.0 L496.7,51.9 L497.3,50.8 L498.0,49.7 L498.8,48.6 L499.5,47.6 L500.3,46.5 L501.1,45.6 L502.1,44.7 L503.0,44.0 L504.0,43.3 L505.1,42.9 L506.2,42.5 L507.4,42.2 L508.6,42.0 L509.8,42.0 L511.1,42.1 M489.6,83.3 L490.1,82.3 L490.6,81.1 L490.9,80.0 L491.2,78.7 L491.5,77.5 L491.9,76.3 L492.2,75.1 L492.6,73.9 L492.9,72.7 L493.3,71.5 L493.8,70.3 L494.2,69.2 L494.7,68.0 L495.2,66.8 L495.7,65.7 L496.2,64.5 L496.7,63.3 L497.2,62.2 L497.7,61.0 L498.2,59.9 L498.8,58.7 L499.3,57.6 L499.9,56.5 L500.5,55.4 L501.1,54.3 L501.8,53.2 L502.4,52.1 L503.2,51.1 L503.9,50.0 L504.6,49.0 L505.5,48.2 L506.4,47.4 L507.4,46.7 L508.4,46.1 L509.5,45.7 L510.6,45.4 L511.7,45.2 L512.9,45.0 L514.1,45.1 L515.4,45.3 M494.0,84.7 L494.6,83.8 L495.0,82.7 L495.4,81.5 L495.7,80.4 L496.1,79.2 L496.4,78.0 L496.7,76.9 L497.1,75.7 L497.5,74.5 L497.9,73.4 L498.3,72.2 L498.7,71.1 L499.2,70.0 L499.7,68.8 L500.1,67.7 L500.6,66.6 L501.1,65.5 L501.7,64.4 L502.2,63.2 L502.7,62.1 L503.2,61.0 L503.7,59.9 L504.3,58.8 L504.9,57.7 L505.5,56.7 L506.1,55.6 L506.8,54.6 L507.5,53.6 L508.2,52.6 L509.0,51.6 L509.8,50.8 L510.8,50.1 L511.7,49.4 L512.8,49.0 L513.8,48.7 L514.9,48.4 L516.0,48.3 L517.2,48.2 L518.4,48.3 L519.6,48.5 M498.4,86.2 L499.1,85.3 L499.5,84.3 L499.9,83.2 L500.2,82.0 L500.6,80.9 L500.9,79.8 L501.2,78.6 L501.6,77.5 L502.0,76.4 L502.4,75.3 L502.8,74.2 L503.2,73.1 L503.7,72.0 L504.2,70.9 L504.7,69.8 L505.1,68.7 L505.6,67.6 L506.1,66.5 L506.6,65.4 L507.1,64.4 L507.6,63.3 L508.1,62.2 L508.7,61.1 L509.2,60.1 L509.8,59.1 L510.5,58.1 L511.2,57.1 L511.8,56.1 L512.6,55.2 L513.3,54.2 L514.2,53.5 L515.1,52.8 L516.1,52.2 L517.1,51.8 L518.2,51.6 L519.2,51.4 L520.3,51.3 L521.5,51.3 L522.6,51.5 L523.8,51.7 M502.8,87.7 L503.5,86.9 L504.0,85.9 L504.4,84.8 L504.7,83.7 L505.0,82.6 L505.4,81.5 L505.7,80.4 L506.1,79.4 L506.5,78.3 L506.9,77.2 L507.3,76.1 L507.7,75.1 L508.2,74.0 L508.7,72.9 L509.1,71.9 L509.6,70.8 L510.1,69.8 L510.6,68.7 L511.1,67.7 L511.6,66.6 L512.1,65.6 L512.6,64.5 L513.1,63.5 L513.6,62.5 L514.2,61.5 L514.8,60.5 L515.5,59.6 L516.2,58.7 L516.9,57.7 L517.6,56.8 L518.5,56.1 L519.4,55.5 L520.4,55.0 L521.4,54.6 L522.5,54.5 L523.6,54.4 L524.6,54.4 L525.8,54.5 L526.9,54.7 L528.0,54.9 M507.2,89.4 L507.9,88.6 L508.4,87.7 L508.8,86.6 L509.2,85.6 L509.5,84.5 L509.8,83.4 L510.2,82.3 L510.6,81.3 L511.0,80.2 L511.4,79.2 L511.8,78.2 L512.2,77.1 L512.7,76.1 L513.2,75.1 L513.6,74.0 L514.1,73.0 L514.6,72.0 L515.1,71.0 L515.5,69.9 L516.0,68.9 L516.5,67.9 L517.0,66.9 L517.5,65.9 L518.0,64.9 L518.6,63.9 L519.2,63.0 L519.9,62.0 L520.6,61.2 L521.3,60.3 L522.0,59.4 L522.9,58.7 L523.8,58.2 L524.8,57.7 L525.8,57.4 L526.9,57.3 L528.0,57.3 L529.0,57.4 L530.1,57.5 L531.2,57.7 L532.3,58.0 M511.5,91.2 L512.2,90.5 L512.8,89.5 L513.2,88.5 L513.6,87.5 L513.9,86.4 L514.3,85.4 L514.6,84.3 L515.0,83.3 L515.4,82.3 L515.9,81.2 L516.3,80.2 L516.7,79.2 L517.2,78.2 L517.7,77.2 L518.1,76.2 L518.6,75.2 L519.1,74.2 L519.6,73.2 L520.0,72.2 L520.5,71.2 L521.0,70.1 L521.5,69.1 L522.0,68.2 L522.5,67.2 L523.1,66.2 L523.7,65.3 L524.4,64.4 L525.1,63.5 L525.8,62.7 L526.5,61.8 L527.4,61.2 L528.3,60.7 L529.3,60.2 L530.4,60.0 L531.4,60.0 L532.5,60.1 L533.5,60.2 L534.6,60.4 L535.7,60.6 L536.8,60.9 M515.7,93.1 L516.5,92.5 L517.1,91.6 L517.5,90.6 L517.9,89.6 L518.3,88.5 L518.6,87.5 L519.0,86.5 L519.4,85.5 L519.8,84.5 L520.2,83.5 L520.7,82.5 L521.1,81.5 L521.6,80.5 L522.1,79.5 L522.5,78.5 L523.0,77.6 L523.5,76.6 L524.0,75.6 L524.4,74.6 L524.9,73.6 L525.3,72.6 L525.8,71.6 L526.3,70.7 L526.9,69.7 L527.4,68.8 L528.0,67.9 L528.7,67.0 L529.4,66.2 L530.1,65.3 L530.8,64.5 L531.7,63.9 L532.7,63.4 L533.7,63.0 L534.7,62.9 L535.8,62.9 L536.8,63.1 L537.9,63.2 L538.9,63.5 L540.0,63.8 L541.1,64.1 M519.9,95.1 L520.7,94.5 L521.4,93.7 L521.8,92.7 L522.2,91.7 L522.6,90.7 L523.0,89.7 L523.3,88.7 L523.8,87.7 L524.2,86.7 L524.6,85.7 L525.1,84.7 L525.5,83.8 L526.0,82.8 L526.5,81.8 L527.0,80.9 L527.4,79.9 L527.9,78.9 L528.4,77.9 L528.8,77.0 L529.3,76.0 L529.8,75.0 L530.2,74.0 L530.7,73.1 L531.3,72.1 L531.8,71.2 L532.4,70.3 L533.1,69.5 L533.8,68.7 L534.5,67.8 L535.2,67.0 L536.1,66.5 L537.1,66.0 L538.1,65.7 L539.2,65.6 L540.2,65.7 L541.3,65.9 L542.3,66.1 L543.4,66.4 L544.4,66.7 L545.5,67.0" stroke-width="0.6"/>
</g>
<path d="M500.0,35.8 L510.3,41.6 L520.6,49.3 L531.0,57.1 L538.7,62.2 L543.8,66.1 L550.3,69.2" clip-path="url(#scc)" fill="none" stroke="#200000" stroke-width="5" stroke-opacity="0.4" stroke-linecap="round" stroke-linejoin="round" filter="url(#blur)"/>
<path d="M450.00,69.70 C450.07,68.82 450.00,67.12 450.40,64.40 C450.80,61.68 451.38,57.07 452.40,53.40 C453.42,49.73 454.90,46.05 456.50,42.40 C458.10,38.75 460.18,34.47 462.00,31.50 C463.82,28.53 465.48,26.10 467.40,24.60 C469.32,23.10 470.75,22.03 473.50,22.50 C476.25,22.97 480.33,25.57 483.90,27.40 C487.47,29.23 492.22,32.10 494.90,33.50 C497.58,34.90 497.43,34.45 500.00,35.80 C502.57,37.15 506.87,39.35 510.30,41.60 C513.73,43.85 517.15,46.72 520.60,49.30 C524.05,51.88 527.98,54.95 531.00,57.10 C534.02,59.25 536.57,60.70 538.70,62.20 C540.83,63.70 541.87,64.93 543.80,66.10 C545.73,67.27 549.22,68.68 550.30,69.20 C549.22,68.93 545.52,67.65 543.80,67.60 C542.08,67.55 540.63,68.68 540.00,68.90 C539.35,69.72 537.40,71.68 536.10,73.80 C534.80,75.92 533.48,79.02 532.20,81.60 C530.92,84.18 529.47,86.98 528.40,89.30 C527.33,91.62 526.52,94.20 525.80,95.50 C525.08,96.80 524.38,96.83 524.10,97.10 C523.45,96.80 522.40,96.33 520.20,95.30 C518.00,94.27 514.27,92.33 510.90,90.90 C507.53,89.47 505.37,88.57 500.00,86.70 C494.63,84.83 484.83,81.77 478.70,79.70 C472.57,77.63 467.98,75.97 463.20,74.30 C458.42,72.63 452.20,70.47 450.00,69.70 Z" fill="none" stroke="#300000" stroke-width="0.6"/>
</g>
<text x="406.9" y="16.8" font-family='"Liberation Serif", serif' font-weight="bold" font-size="11.5" fill="#000" stroke="#000" stroke-width="0.35">c</text>
<text x="413.4" y="30.5" font-family='"Liberation Serif", serif' font-weight="bold" font-size="8.8" textLength="21.7" lengthAdjust="spacingAndGlyphs" fill="#111" stroke="#111" stroke-width="0.22">MRR</text>
<text x="429.1" y="40.1" font-family='"Liberation Sans", sans-serif' font-weight="bold" font-size="7.0" text-anchor="middle" fill="#111" stroke="#111" stroke-width="0.12">0.08</text>
<text x="429.1" y="54.5" font-family='"Liberation Sans", sans-serif' font-weight="bold" font-size="7.0" text-anchor="middle" fill="#111" stroke="#111" stroke-width="0.12">0.06</text>
<text x="429.3" y="68.9" font-family='"Liberation Sans", sans-serif' font-weight="bold" font-size="7.0" text-anchor="middle" fill="#111" stroke="#111" stroke-width="0.12">0.04</text>
<text x="429.3" y="83.3" font-family='"Liberation Sans", sans-serif' font-weight="bold" font-size="7.0" text-anchor="middle" fill="#111" stroke="#111" stroke-width="0.12">0.02</text>
<text x="443.5" y="99.7" font-family='"Liberation Sans", sans-serif' font-weight="bold" font-size="7.2" text-anchor="middle" fill="#111" stroke="#111" stroke-width="0.12">0.8</text>
<text x="480.3" y="104.6" font-family='"Liberation Sans", sans-serif' font-weight="bold" font-size="7.2" text-anchor="middle" fill="#111" stroke="#111" stroke-width="0.12">0.6</text>
<text x="517.0" y="109.0" font-family='"Liberation Sans", sans-serif' font-weight="bold" font-size="7.2" text-anchor="middle" fill="#111" stroke="#111" stroke-width="0.12">0.4</text>
<text x="539.5" y="103.7" font-family='"Liberation Sans", sans-serif' font-weight="bold" font-size="7.0" text-anchor="middle" fill="#111" stroke="#111" stroke-width="0.12">18</text>
<text x="549.2" y="93.8" font-family='"Liberation Sans", sans-serif' font-weight="bold" font-size="7.0" text-anchor="middle" fill="#111" stroke="#111" stroke-width="0.12">21</text>
<text x="559.4" y="83.5" font-family='"Liberation Sans", sans-serif' font-weight="bold" font-size="7.0" text-anchor="middle" fill="#111" stroke="#111" stroke-width="0.12">24</text>
<text x="569.1" y="72.8" font-family='"Liberation Sans", sans-serif' font-weight="bold" font-size="7.0" text-anchor="middle" fill="#111" stroke="#111" stroke-width="0.12">27</text>
<text x="431.8" y="114.0" font-family='"Liberation Serif", serif' font-weight="bold" font-size="8.8" textLength="45.2" lengthAdjust="spacingAndGlyphs" fill="#111" stroke="#111" stroke-width="0.22">FLUSHING</text>
<text x="431.8" y="123.7" font-family='"Liberation Serif", serif' font-weight="bold" font-size="8.8" textLength="45.5" lengthAdjust="spacingAndGlyphs" fill="#111" stroke="#111" stroke-width="0.22">PRESSURE</text>
<text x="563.0" y="94.9" font-family='"Liberation Serif", serif' font-weight="bold" font-size="8.4" textLength="23.3" lengthAdjust="spacingAndGlyphs" fill="#111" stroke="#111" stroke-width="0.22">PEAK</text>
<text x="558.3" y="103.7" font-family='"Liberation Sans", sans-serif' font-weight="bold" font-size="7.4" textLength="31.5" lengthAdjust="spacingAndGlyphs" fill="#111" stroke="#111" stroke-width="0.22">CURRENT</text>
<rect x="1" y="145" width="183" height="144" fill="#000"/>
<rect x="3" y="147" width="179" height="140" fill="#fff"/>
<rect x="4" y="148" width="177" height="138" fill="#f0f0f0"/>
<g clip-path="url(#cpd)">
<polygon points="32.8,180.0 92.3,146.5 161.8,172.6 161.8,235.0 104.2,270.2 32.8,242.2" fill="#fff03c"/>
<polyline points="32.8,180.0 92.3,146.5 161.8,172.6 161.8,235.0" stroke="#555" stroke-width="1.1" stroke-dasharray="4 2.5" fill="none"/>
<polyline points="32.8,242.2 92.3,209.0 161.8,235.0" stroke="#555" stroke-width="1.1" stroke-dasharray="4 2.5" fill="none"/>
<line x1="92.3" y1="146.5" x2="92.3" y2="209.0" stroke="#555" stroke-width="1.1" stroke-dasharray="4 2.5" fill="none"/>
<polyline points="32.8,180.0 32.8,242.2" stroke="#9a9a70" stroke-width="0.6" fill="none"/>
<polyline points="32.8,242.2 104.2,270.2 161.8,235.0" stroke="#5a5a40" stroke-width="0.8" fill="none"/>
<path d="M41.90,217.60 C42.47,216.65 44.02,213.85 45.30,211.90 C46.58,209.95 48.32,207.75 49.60,205.90 C50.88,204.05 52.00,202.52 53.00,200.80 C54.00,199.08 54.73,197.18 55.60,195.60 C56.47,194.02 57.20,192.73 58.20,191.30 C59.20,189.87 60.32,188.28 61.60,187.00 C62.88,185.72 64.32,184.45 65.90,183.60 C67.48,182.75 69.38,182.25 71.10,181.90 C72.82,181.55 74.48,181.45 76.20,181.50 C77.92,181.55 79.65,181.83 81.40,182.20 C83.15,182.57 84.83,183.32 86.70,183.70 C88.57,184.08 90.65,184.30 92.60,184.50 C94.55,184.70 96.47,184.90 98.40,184.90 C100.33,184.90 102.27,184.75 104.20,184.50 C106.13,184.25 108.20,183.73 110.00,183.40 C111.80,183.07 113.30,182.75 115.00,182.50 C116.70,182.25 118.48,181.87 120.20,181.90 C121.92,181.93 123.58,181.98 125.30,182.70 C127.02,183.42 128.78,184.62 130.50,186.20 C132.22,187.78 133.88,189.92 135.60,192.20 C137.32,194.48 139.22,197.62 140.80,199.90 C142.38,202.18 143.67,204.03 145.10,205.90 C146.53,207.77 147.68,209.23 149.40,211.10 C151.12,212.97 154.40,216.10 155.40,217.10 C154.68,216.73 152.68,215.85 151.10,214.90 C149.52,213.95 147.62,212.32 145.90,211.40 C144.18,210.48 142.52,209.88 140.80,209.40 C139.08,208.92 137.18,208.50 135.60,208.50 C134.02,208.50 132.73,208.82 131.30,209.40 C129.87,209.98 128.43,211.00 127.00,212.00 C125.57,213.00 124.13,214.12 122.70,215.40 C121.27,216.68 119.45,218.33 118.40,219.70 C117.35,221.07 117.50,221.67 116.40,223.60 C115.30,225.53 113.33,228.72 111.80,231.30 C110.27,233.88 108.67,236.57 107.20,239.10 C105.73,241.63 103.70,245.27 103.00,246.50 C102.40,245.78 100.77,243.95 99.40,242.20 C98.03,240.45 96.60,238.20 94.80,236.00 C93.00,233.80 90.83,231.15 88.60,229.00 C86.37,226.85 83.47,224.80 81.40,223.10 C79.33,221.40 77.92,219.95 76.20,218.80 C74.48,217.65 72.82,216.85 71.10,216.20 C69.38,215.55 67.92,215.03 65.90,214.90 C63.88,214.77 61.57,215.18 59.00,215.40 C56.43,215.62 53.35,215.83 50.50,216.20 C47.65,216.57 43.33,217.37 41.90,217.60 Z" fill="#c61212"/>
<g clip-path="url(#scd)" fill="none" stroke="#5a0606">
<path d="M43.2,215.4 L45.0,215.1 L46.8,214.8 L48.6,214.5 L50.5,214.2 L52.3,214.0 L54.1,213.8 L56.0,213.6 L57.8,213.4 L59.7,213.3 L61.5,213.1 L63.4,212.9 L65.2,212.7 L67.1,212.7 L68.9,212.9 L70.7,213.4 L72.4,214.0 L74.1,214.7 L75.8,215.6 L77.4,216.6 L78.8,217.7 L80.2,218.9 L81.6,220.1 L83.0,221.3 L84.5,222.4 L85.9,223.6 L87.4,224.8 L88.8,226.0 L90.1,227.2 L91.4,228.6 L92.6,229.9 L93.8,231.3 L95.0,232.8 L96.2,234.2 L97.3,235.7 L98.4,237.1 L99.5,238.6 L100.6,240.1 L101.8,241.6 L103.0,243.0 L104.2,244.4 M44.4,213.3 L46.3,213.0 L48.1,212.7 L49.9,212.4 L51.8,212.1 L53.6,211.8 L55.4,211.6 L57.3,211.4 L59.1,211.2 L61.0,211.1 L62.8,210.9 L64.7,210.7 L66.5,210.5 L68.4,210.5 L70.2,210.7 L72.0,211.2 L73.7,211.8 L75.4,212.6 L77.1,213.4 L78.6,214.4 L80.1,215.5 L81.5,216.7 L82.9,217.9 L84.3,219.1 L85.7,220.3 L87.2,221.5 L88.6,222.6 L90.0,223.9 L91.3,225.1 L92.6,226.5 L93.8,227.8 L95.0,229.2 L96.2,230.7 L97.4,232.1 L98.5,233.6 L99.6,235.0 L100.7,236.5 L101.8,238.0 L103.0,239.4 L104.2,240.8 L105.4,242.2 M45.8,211.2 L47.6,210.9 L49.4,210.6 L51.3,210.3 L53.1,210.0 L54.9,209.7 L56.8,209.5 L58.6,209.3 L60.5,209.1 L62.3,208.9 L64.2,208.7 L66.0,208.5 L67.8,208.4 L69.7,208.3 L71.5,208.6 L73.3,209.0 L75.1,209.7 L76.8,210.4 L78.4,211.3 L79.9,212.3 L81.4,213.4 L82.8,214.6 L84.2,215.8 L85.6,217.0 L87.0,218.2 L88.4,219.4 L89.8,220.6 L91.2,221.8 L92.5,223.1 L93.8,224.4 L95.0,225.8 L96.2,227.2 L97.4,228.6 L98.6,230.0 L99.7,231.5 L100.8,232.9 L101.9,234.4 L103.0,235.9 L104.2,237.3 L105.4,238.7 L106.6,240.1 M47.2,209.1 L49.1,208.8 L50.9,208.5 L52.7,208.2 L54.6,207.9 L56.4,207.7 L58.2,207.4 L60.1,207.2 L61.9,207.0 L63.7,206.8 L65.6,206.6 L67.4,206.4 L69.3,206.3 L71.1,206.2 L73.0,206.5 L74.7,206.9 L76.5,207.6 L78.1,208.3 L79.8,209.2 L81.3,210.2 L82.8,211.3 L84.2,212.5 L85.5,213.7 L86.9,214.9 L88.3,216.1 L89.7,217.3 L91.1,218.5 L92.5,219.7 L93.8,221.0 L95.0,222.3 L96.2,223.7 L97.4,225.1 L98.6,226.5 L99.8,227.9 L100.9,229.4 L102.0,230.9 L103.1,232.3 L104.3,233.8 L105.4,235.2 L106.7,236.6 L107.9,237.9 M48.7,207.1 L50.6,206.8 L52.4,206.5 L54.2,206.2 L56.0,205.9 L57.9,205.6 L59.7,205.4 L61.5,205.2 L63.4,205.0 L65.2,204.8 L67.0,204.6 L68.9,204.3 L70.7,204.2 L72.6,204.1 L74.4,204.4 L76.2,204.8 L77.9,205.5 L79.6,206.2 L81.2,207.1 L82.7,208.1 L84.2,209.2 L85.5,210.4 L86.9,211.7 L88.2,212.9 L89.6,214.1 L91.0,215.2 L92.4,216.4 L93.7,217.7 L95.0,219.0 L96.3,220.3 L97.5,221.7 L98.7,223.1 L99.9,224.5 L101.0,225.9 L102.1,227.3 L103.3,228.8 L104.4,230.3 L105.5,231.7 L106.7,233.1 L107.9,234.5 L109.1,235.8 M50.2,205.1 L52.0,204.8 L53.8,204.5 L55.6,204.2 L57.5,203.9 L59.3,203.6 L61.1,203.3 L63.0,203.1 L64.8,202.9 L66.6,202.7 L68.5,202.5 L70.3,202.2 L72.1,202.0 L74.0,202.0 L75.8,202.2 L77.6,202.7 L79.3,203.3 L81.0,204.1 L82.6,205.0 L84.1,206.0 L85.5,207.1 L86.9,208.3 L88.2,209.6 L89.6,210.8 L91.0,212.0 L92.3,213.2 L93.7,214.4 L95.0,215.6 L96.3,216.9 L97.5,218.2 L98.7,219.6 L99.9,221.0 L101.1,222.4 L102.2,223.8 L103.4,225.3 L104.5,226.7 L105.6,228.2 L106.7,229.6 L107.9,231.0 L109.1,232.3 L110.4,233.7 M51.6,203.0 L53.4,202.7 L55.2,202.4 L57.1,202.1 L58.9,201.8 L60.7,201.5 L62.5,201.3 L64.4,201.0 L66.2,200.8 L68.0,200.6 L69.9,200.3 L71.7,200.1 L73.5,199.9 L75.4,199.9 L77.2,200.1 L79.0,200.6 L80.7,201.2 L82.4,202.0 L83.9,202.9 L85.5,203.9 L86.9,205.0 L88.2,206.2 L89.6,207.5 L90.9,208.7 L92.3,209.9 L93.6,211.1 L95.0,212.3 L96.3,213.6 L97.6,214.9 L98.8,216.2 L100.0,217.6 L101.2,219.0 L102.3,220.4 L103.5,221.8 L104.6,223.2 L105.7,224.7 L106.8,226.1 L108.0,227.5 L109.2,228.9 L110.4,230.2 L111.6,231.6 M52.9,200.9 L54.8,200.6 L56.6,200.3 L58.4,200.0 L60.2,199.7 L62.1,199.4 L63.9,199.1 L65.7,198.9 L67.5,198.6 L69.4,198.4 L71.2,198.2 L73.0,197.9 L74.9,197.8 L76.7,197.7 L78.6,198.0 L80.3,198.4 L82.0,199.1 L83.7,199.8 L85.3,200.7 L86.8,201.7 L88.2,202.9 L89.6,204.1 L90.9,205.4 L92.2,206.6 L93.6,207.8 L94.9,209.0 L96.2,210.2 L97.5,211.5 L98.8,212.8 L100.0,214.1 L101.2,215.5 L102.4,216.9 L103.5,218.3 L104.7,219.7 L105.8,221.1 L107.0,222.6 L108.1,224.0 L109.2,225.4 L110.4,226.8 L111.7,228.1 L112.9,229.5 M54.1,198.7 L55.9,198.4 L57.8,198.1 L59.6,197.8 L61.4,197.5 L63.2,197.2 L65.1,196.9 L66.9,196.7 L68.8,196.4 L70.6,196.2 L72.4,196.0 L74.3,195.7 L76.1,195.5 L78.0,195.5 L79.8,195.7 L81.6,196.2 L83.3,196.9 L84.9,197.6 L86.5,198.5 L88.0,199.6 L89.5,200.7 L90.8,201.9 L92.1,203.2 L93.4,204.4 L94.8,205.7 L96.1,206.9 L97.4,208.1 L98.7,209.4 L100.0,210.7 L101.2,212.1 L102.4,213.4 L103.6,214.8 L104.7,216.2 L105.9,217.6 L107.1,219.1 L108.2,220.5 L109.3,221.9 L110.5,223.3 L111.7,224.7 L112.9,226.0 L114.2,227.4 M55.2,196.4 L57.0,196.2 L58.9,195.9 L60.7,195.6 L62.5,195.3 L64.4,195.0 L66.2,194.7 L68.0,194.4 L69.9,194.2 L71.7,193.9 L73.6,193.7 L75.4,193.5 L77.3,193.3 L79.1,193.3 L81.0,193.5 L82.8,193.9 L84.5,194.6 L86.1,195.4 L87.7,196.3 L89.2,197.4 L90.6,198.5 L92.0,199.8 L93.3,201.0 L94.6,202.3 L96.0,203.5 L97.3,204.7 L98.6,206.0 L99.9,207.3 L101.1,208.6 L102.4,210.0 L103.6,211.3 L104.7,212.7 L105.9,214.1 L107.1,215.6 L108.2,217.0 L109.4,218.4 L110.5,219.8 L111.7,221.2 L112.9,222.6 L114.2,223.9 L115.4,225.3 M56.4,194.2 L58.2,194.0 L60.1,193.7 L61.9,193.4 L63.7,193.1 L65.6,192.8 L67.4,192.5 L69.3,192.2 L71.1,192.0 L73.0,191.7 L74.8,191.5 L76.7,191.2 L78.5,191.1 L80.4,191.0 L82.2,191.3 L84.0,191.7 L85.7,192.4 L87.4,193.2 L89.0,194.1 L90.5,195.2 L91.9,196.3 L93.2,197.6 L94.5,198.9 L95.8,200.1 L97.2,201.4 L98.5,202.6 L99.8,203.9 L101.1,205.2 L102.3,206.5 L103.5,207.9 L104.7,209.2 L105.9,210.6 L107.1,212.0 L108.3,213.5 L109.4,214.9 L110.6,216.3 L111.7,217.7 L112.9,219.1 L114.1,220.5 L115.4,221.8 L116.7,223.1 M57.7,192.1 L59.5,191.8 L61.4,191.6 L63.2,191.3 L65.0,191.0 L66.9,190.6 L68.7,190.3 L70.5,190.0 L72.4,189.8 L74.2,189.5 L76.1,189.3 L77.9,189.0 L79.8,188.8 L81.6,188.8 L83.5,189.0 L85.2,189.5 L86.9,190.2 L88.6,191.0 L90.2,191.9 L91.7,193.0 L93.1,194.1 L94.4,195.4 L95.7,196.7 L97.0,197.9 L98.3,199.2 L99.6,200.4 L100.9,201.7 L102.1,203.0 L103.4,204.3 L104.6,205.7 L105.8,207.1 L106.9,208.5 L108.1,209.9 L109.3,211.3 L110.4,212.7 L111.6,214.1 L112.7,215.5 L113.9,216.9 L115.2,218.2 L116.4,219.6 L117.7,220.9 M59.1,190.0 L60.9,189.8 L62.8,189.5 L64.6,189.2 L66.5,188.9 L68.3,188.6 L70.1,188.3 L72.0,188.0 L73.8,187.7 L75.7,187.5 L77.5,187.2 L79.4,186.9 L81.2,186.8 L83.1,186.7 L84.9,186.9 L86.7,187.4 L88.4,188.1 L90.1,188.9 L91.6,189.9 L93.1,190.9 L94.5,192.1 L95.8,193.4 L97.1,194.6 L98.4,195.9 L99.7,197.2 L101.0,198.4 L102.3,199.7 L103.5,201.0 L104.7,202.4 L105.9,203.7 L107.1,205.1 L108.3,206.5 L109.5,207.9 L110.6,209.3 L111.8,210.7 L113.0,212.1 L114.1,213.5 L115.3,214.9 L116.6,216.2 L117.8,217.6 L119.1,218.9 M60.6,188.0 L62.5,187.8 L64.3,187.6 L66.2,187.3 L68.0,187.0 L69.9,186.6 L71.7,186.3 L73.6,186.0 L75.4,185.8 L77.3,185.5 L79.1,185.2 L81.0,185.0 L82.8,184.8 L84.7,184.8 L86.6,185.0 L88.3,185.5 L90.1,186.2 L91.7,187.0 L93.3,188.0 L94.8,189.0 L96.2,190.2 L97.5,191.5 L98.8,192.8 L100.1,194.1 L101.3,195.3 L102.6,196.6 L103.9,197.9 L105.1,199.2 L106.4,200.6 L107.6,202.0 L108.8,203.4 L109.9,204.8 L111.1,206.2 L112.3,207.6 L113.4,209.0 L114.6,210.4 L115.8,211.8 L117.0,213.2 L118.3,214.5 L119.5,215.8 L120.8,217.1 M62.4,186.2 L64.2,186.0 L66.1,185.8 L67.9,185.5 L69.8,185.2 L71.6,184.9 L73.5,184.5 L75.3,184.2 L77.2,184.0 L79.1,183.7 L80.9,183.4 L82.8,183.2 L84.6,183.0 L86.5,183.0 L88.4,183.2 L90.2,183.7 L91.9,184.4 L93.5,185.2 L95.1,186.2 L96.6,187.3 L97.9,188.5 L99.3,189.8 L100.6,191.1 L101.8,192.3 L103.1,193.6 L104.4,194.9 L105.6,196.2 L106.9,197.6 L108.1,198.9 L109.3,200.3 L110.5,201.7 L111.7,203.1 L112.8,204.5 L114.0,205.9 L115.2,207.3 L116.4,208.8 L117.6,210.1 L118.8,211.5 L120.1,212.8 L121.3,214.2 L122.6,215.5 M64.3,184.6 L66.2,184.4 L68.0,184.2 L69.9,183.9 L71.7,183.6 L73.6,183.2 L75.4,182.9 L77.3,182.6 L79.1,182.3 L81.0,182.1 L82.8,181.8 L84.7,181.5 L86.6,181.4 L88.4,181.3 L90.3,181.6 L92.1,182.0 L93.8,182.8 L95.4,183.6 L97.0,184.6 L98.5,185.7 L99.9,186.9 L101.2,188.1 L102.5,189.4 L103.7,190.7 L105.0,192.0 L106.3,193.4 L107.5,194.7 L108.7,196.0 L110.0,197.4 L111.1,198.8 L112.3,200.2 L113.5,201.6 L114.7,203.0 L115.9,204.4 L117.0,205.8 L118.2,207.2 L119.4,208.6 L120.7,209.9 L121.9,211.3 L123.2,212.6 L124.5,213.9 M66.4,183.3 L68.3,183.1 L70.2,182.9 L72.0,182.6 L73.9,182.3 L75.7,181.9 L77.5,181.6 L79.4,181.3 L81.3,181.0 L83.1,180.7 L85.0,180.4 L86.8,180.1 L88.7,180.0 L90.6,179.9 L92.4,180.1 L94.2,180.6 L95.9,181.3 L97.5,182.2 L99.1,183.2 L100.6,184.3 L101.9,185.5 L103.2,186.7 L104.5,188.0 L105.8,189.3 L107.0,190.7 L108.3,192.0 L109.5,193.3 L110.7,194.6 L111.9,196.0 L113.1,197.4 L114.3,198.8 L115.4,200.2 L116.6,201.6 L117.8,203.0 L119.0,204.4 L120.2,205.8 L121.4,207.1 L122.6,208.5 L123.9,209.8 L125.2,211.1 L126.5,212.4 M68.8,182.5 L70.6,182.3 L72.5,182.0 L74.3,181.7 L76.2,181.4 L78.0,181.0 L79.9,180.6 L81.7,180.3 L83.6,180.0 L85.4,179.7 L87.3,179.4 L89.1,179.1 L91.0,178.9 L92.8,178.9 L94.7,179.0 L96.5,179.5 L98.2,180.2 L99.8,181.1 L101.3,182.0 L102.8,183.1 L104.1,184.3 L105.4,185.6 L106.7,186.9 L107.9,188.2 L109.2,189.5 L110.4,190.8 L111.6,192.1 L112.8,193.5 L114.0,194.8 L115.2,196.2 L116.3,197.6 L117.5,199.0 L118.6,200.3 L119.8,201.7 L121.0,203.1 L122.2,204.5 L123.4,205.8 L124.6,207.1 L125.9,208.4 L127.2,209.7 L128.5,211.0 M71.2,181.9 L73.1,181.7 L74.9,181.4 L76.8,181.1 L78.6,180.7 L80.4,180.3 L82.3,179.9 L84.1,179.6 L85.9,179.2 L87.8,178.9 L89.6,178.6 L91.5,178.3 L93.3,178.1 L95.2,178.0 L97.0,178.2 L98.8,178.6 L100.5,179.3 L102.1,180.2 L103.6,181.1 L105.1,182.2 L106.4,183.4 L107.7,184.6 L109.0,185.9 L110.2,187.2 L111.4,188.5 L112.6,189.8 L113.8,191.1 L115.0,192.5 L116.2,193.8 L117.3,195.2 L118.5,196.5 L119.6,197.9 L120.8,199.3 L121.9,200.6 L123.1,202.0 L124.3,203.3 L125.5,204.7 L126.7,206.0 L128.0,207.2 L129.3,208.5 L130.6,209.7 M73.7,181.5 L75.5,181.3 L77.4,181.0 L79.2,180.7 L81.1,180.3 L82.9,179.9 L84.7,179.5 L86.6,179.1 L88.4,178.8 L90.3,178.4 L92.1,178.1 L93.9,177.7 L95.8,177.5 L97.7,177.5 L99.5,177.6 L101.3,178.1 L103.0,178.7 L104.6,179.6 L106.1,180.5 L107.5,181.6 L108.8,182.8 L110.1,184.0 L111.3,185.3 L112.6,186.6 L113.8,187.9 L115.0,189.2 L116.1,190.5 L117.3,191.8 L118.5,193.1 L119.6,194.5 L120.8,195.9 L121.9,197.2 L123.1,198.6 L124.2,199.9 L125.4,201.2 L126.6,202.6 L127.8,203.9 L129.0,205.1 L130.3,206.4 L131.6,207.6 L132.9,208.9 M76.2,181.5 L78.0,181.3 L79.9,181.0 L81.7,180.7 L83.6,180.3 L85.4,179.8 L87.2,179.4 L89.1,179.0 L90.9,178.6 L92.8,178.3 L94.6,177.9 L96.5,177.6 L98.3,177.3 L100.2,177.3 L102.0,177.4 L103.8,177.9 L105.5,178.5 L107.1,179.4 L108.6,180.3 L110.0,181.4 L111.3,182.6 L112.6,183.8 L113.8,185.1 L115.0,186.4 L116.2,187.7 L117.4,189.0 L118.6,190.3 L119.7,191.6 L120.9,192.9 L122.0,194.3 L123.1,195.6 L124.3,197.0 L125.4,198.3 L126.6,199.7 L127.8,201.0 L129.0,202.3 L130.2,203.6 L131.4,204.8 L132.7,206.1 L134.0,207.3 L135.3,208.5 M78.7,181.7 L80.5,181.5 L82.4,181.2 L84.2,180.9 L86.1,180.5 L87.9,180.1 L89.8,179.6 L91.6,179.2 L93.4,178.8 L95.3,178.4 L97.1,178.1 L99.0,177.7 L100.8,177.5 L102.7,177.4 L104.5,177.6 L106.3,178.0 L108.0,178.7 L109.6,179.5 L111.1,180.5 L112.5,181.6 L113.8,182.8 L115.1,184.0 L116.3,185.3 L117.5,186.6 L118.7,187.9 L119.9,189.2 L121.0,190.5 L122.1,191.8 L123.3,193.2 L124.4,194.5 L125.6,195.9 L126.7,197.2 L127.8,198.6 L129.0,199.9 L130.2,201.2 L131.4,202.5 L132.6,203.8 L133.9,205.1 L135.2,206.3 L136.5,207.5 L137.8,208.7 M81.2,182.2 L83.0,181.9 L84.9,181.7 L86.7,181.3 L88.6,180.9 L90.4,180.5 L92.2,180.1 L94.1,179.7 L95.9,179.2 L97.7,178.9 L99.6,178.5 L101.4,178.1 L103.3,177.9 L105.2,177.9 L107.0,178.0 L108.8,178.4 L110.5,179.1 L112.0,180.0 L113.6,181.0 L115.0,182.0 L116.3,183.2 L117.5,184.5 L118.7,185.8 L119.9,187.1 L121.1,188.4 L122.3,189.7 L123.4,191.0 L124.5,192.4 L125.7,193.7 L126.8,195.1 L127.9,196.4 L129.1,197.8 L130.2,199.1 L131.4,200.5 L132.6,201.8 L133.8,203.1 L135.0,204.4 L136.3,205.6 L137.6,206.8 L138.9,208.0 L140.2,209.2 M83.6,182.8 L85.4,182.6 L87.3,182.3 L89.1,182.0 L91.0,181.6 L92.8,181.2 L94.7,180.7 L96.5,180.3 L98.3,179.9 L100.2,179.5 L102.0,179.1 L103.9,178.8 L105.7,178.5 L107.6,178.5 L109.4,178.6 L111.2,179.1 L112.9,179.8 L114.5,180.6 L116.0,181.6 L117.4,182.7 L118.7,183.9 L119.9,185.2 L121.1,186.5 L122.3,187.8 L123.5,189.1 L124.6,190.4 L125.7,191.8 L126.9,193.1 L128.0,194.5 L129.1,195.8 L130.2,197.2 L131.4,198.6 L132.5,199.9 L133.7,201.2 L134.9,202.5 L136.1,203.8 L137.3,205.1 L138.6,206.3 L139.9,207.5 L141.2,208.7 L142.5,209.9 M86.0,183.5 L87.8,183.3 L89.7,183.1 L91.5,182.7 L93.4,182.4 L95.2,181.9 L97.1,181.5 L98.9,181.0 L100.7,180.6 L102.6,180.2 L104.4,179.9 L106.3,179.5 L108.1,179.3 L110.0,179.2 L111.8,179.4 L113.6,179.8 L115.3,180.5 L116.9,181.4 L118.3,182.4 L119.7,183.5 L121.0,184.7 L122.3,186.0 L123.5,187.3 L124.7,188.6 L125.8,189.9 L126.9,191.3 L128.0,192.7 L129.1,194.0 L130.3,195.4 L131.4,196.8 L132.5,198.1 L133.6,199.5 L134.8,200.8 L135.9,202.2 L137.1,203.5 L138.3,204.8 L139.6,206.0 L140.9,207.3 L142.2,208.5 L143.5,209.7 L144.8,210.9 M88.4,184.0 L90.3,183.8 L92.1,183.6 L94.0,183.3 L95.8,182.9 L97.7,182.5 L99.5,182.0 L101.3,181.6 L103.1,181.2 L105.0,180.8 L106.8,180.5 L108.7,180.1 L110.5,179.9 L112.4,179.9 L114.2,180.1 L116.0,180.5 L117.7,181.3 L119.2,182.1 L120.7,183.2 L122.1,184.3 L123.4,185.5 L124.6,186.8 L125.8,188.2 L126.9,189.5 L128.1,190.9 L129.2,192.2 L130.3,193.6 L131.4,195.0 L132.5,196.4 L133.6,197.8 L134.7,199.2 L135.8,200.6 L136.9,201.9 L138.1,203.3 L139.3,204.6 L140.5,205.9 L141.7,207.2 L143.0,208.4 L144.3,209.6 L145.7,210.8 L147.0,212.0 M90.9,184.3 L92.8,184.2 L94.6,184.0 L96.4,183.7 L98.3,183.4 L100.1,182.9 L101.9,182.5 L103.7,182.1 L105.6,181.7 L107.4,181.4 L109.2,181.0 L111.1,180.7 L112.9,180.5 L114.7,180.5 L116.6,180.7 L118.3,181.2 L120.0,182.0 L121.5,182.9 L123.0,184.0 L124.4,185.1 L125.6,186.4 L126.8,187.7 L128.0,189.1 L129.2,190.4 L130.3,191.8 L131.3,193.3 L132.4,194.7 L133.5,196.1 L134.6,197.5 L135.7,199.0 L136.7,200.4 L137.9,201.8 L139.0,203.2 L140.1,204.5 L141.3,205.9 L142.5,207.2 L143.8,208.5 L145.1,209.8 L146.4,211.0 L147.7,212.2 L149.0,213.5 M93.4,184.6 L95.2,184.5 L97.1,184.3 L98.9,184.1 L100.7,183.7 L102.5,183.3 L104.4,182.9 L106.2,182.6 L108.0,182.2 L109.8,181.9 L111.6,181.5 L113.4,181.2 L115.3,181.1 L117.1,181.1 L118.9,181.3 L120.7,181.9 L122.3,182.6 L123.9,183.6 L125.3,184.7 L126.7,185.9 L127.9,187.2 L129.1,188.6 L130.3,190.0 L131.4,191.4 L132.5,192.8 L133.5,194.3 L134.6,195.7 L135.6,197.2 L136.7,198.6 L137.8,200.1 L138.8,201.5 L139.9,203.0 L141.1,204.4 L142.2,205.8 L143.4,207.2 L144.6,208.5 L145.8,209.8 L147.1,211.1 L148.4,212.4 L149.7,213.6 L151.0,214.9 M95.9,184.8 L97.7,184.7 L99.6,184.6 L101.4,184.4 L103.2,184.1 L105.0,183.7 L106.8,183.3 L108.6,182.9 L110.4,182.6 L112.2,182.3 L114.1,182.0 L115.9,181.7 L117.7,181.6 L119.5,181.6 L121.4,181.8 L123.1,182.4 L124.7,183.2 L126.3,184.2 L127.7,185.3 L129.0,186.6 L130.3,187.9 L131.5,189.3 L132.6,190.7 L133.7,192.1 L134.8,193.6 L135.8,195.1 L136.8,196.6 L137.8,198.1 L138.9,199.6 L140.0,201.1 L141.0,202.5 L142.1,204.0 L143.2,205.4 L144.4,206.8 L145.5,208.2 L146.7,209.6 L148.0,210.9 L149.3,212.2 L150.6,213.5 L151.9,214.8 L153.2,216.0" stroke-width="0.45"/>
<path d="M44.3,217.2 L45.3,215.6 L46.2,213.9 L47.2,212.3 L48.2,210.8 L49.3,209.3 L50.4,207.7 L51.5,206.2 L52.6,204.7 L53.7,203.2 L54.7,201.6 L55.7,200.0 L56.5,198.3 L57.4,196.6 L58.2,195.0 L59.1,193.3 L60.1,191.7 L61.2,190.2 L62.3,188.7 L63.5,187.3 L64.9,186.0 L66.3,184.7 L67.8,183.6 L69.5,182.8 L71.3,182.2 L73.1,181.7 L74.9,181.4 L76.8,181.2 L78.7,181.2 L80.5,181.3 L82.4,181.6 L84.2,182.0 L86.1,182.5 L87.8,183.1 L89.7,183.5 L91.5,183.9 L93.4,184.1 L95.2,184.4 L97.1,184.6 L99.0,184.7 L100.8,184.8 M46.8,216.8 L47.7,215.1 L48.7,213.5 L49.6,211.9 L50.7,210.4 L51.8,208.8 L52.9,207.3 L54.0,205.8 L55.0,204.3 L56.1,202.7 L57.1,201.2 L58.1,199.6 L59.0,197.9 L59.8,196.2 L60.7,194.6 L61.6,193.0 L62.6,191.4 L63.7,189.8 L64.8,188.3 L66.0,186.9 L67.3,185.6 L68.8,184.4 L70.3,183.3 L72.0,182.4 L73.7,181.8 L75.5,181.3 L77.4,181.0 L79.2,180.8 L81.1,180.8 L83.0,180.9 L84.9,181.2 L86.7,181.6 L88.5,182.1 L90.3,182.7 L92.1,183.2 L94.0,183.5 L95.8,183.8 L97.7,184.1 L99.5,184.3 L101.4,184.5 L103.3,184.6 M49.2,216.4 L50.2,214.8 L51.1,213.1 L52.1,211.5 L53.1,210.0 L54.2,208.4 L55.3,206.9 L56.4,205.4 L57.5,203.9 L58.5,202.3 L59.6,200.8 L60.5,199.2 L61.4,197.5 L62.2,195.8 L63.1,194.2 L64.1,192.6 L65.0,191.0 L66.1,189.4 L67.2,187.9 L68.5,186.5 L69.8,185.2 L71.2,184.0 L72.8,182.9 L74.4,182.0 L76.2,181.4 L78.0,180.9 L79.8,180.5 L81.7,180.3 L83.6,180.3 L85.5,180.4 L87.3,180.7 L89.2,181.1 L91.0,181.6 L92.8,182.2 L94.6,182.7 L96.4,183.0 L98.3,183.4 L100.1,183.6 L102.0,183.9 L103.8,184.1 L105.7,184.3 M51.7,216.1 L52.6,214.4 L53.6,212.8 L54.5,211.2 L55.6,209.6 L56.6,208.1 L57.7,206.6 L58.8,205.0 L59.9,203.5 L61.0,201.9 L62.0,200.4 L63.0,198.8 L63.9,197.1 L64.7,195.4 L65.6,193.8 L66.5,192.1 L67.5,190.5 L68.5,189.0 L69.7,187.5 L70.9,186.1 L72.3,184.7 L73.7,183.5 L75.2,182.4 L76.9,181.5 L78.6,180.9 L80.4,180.3 L82.3,179.9 L84.1,179.7 L86.0,179.7 L87.9,179.8 L89.8,180.1 L91.6,180.5 L93.4,181.0 L95.2,181.6 L97.0,182.1 L98.9,182.5 L100.7,182.8 L102.5,183.1 L104.4,183.4 L106.2,183.6 L108.1,183.8 M54.1,215.8 L55.1,214.2 L56.0,212.6 L57.0,210.9 L58.0,209.4 L59.1,207.8 L60.2,206.3 L61.3,204.7 L62.3,203.2 L63.4,201.6 L64.4,200.0 L65.4,198.4 L66.3,196.7 L67.1,195.1 L68.0,193.4 L69.0,191.8 L69.9,190.1 L71.0,188.6 L72.1,187.1 L73.4,185.7 L74.7,184.3 L76.2,183.1 L77.7,182.0 L79.3,181.1 L81.1,180.4 L82.9,179.8 L84.7,179.4 L86.6,179.2 L88.5,179.1 L90.4,179.3 L92.2,179.5 L94.1,179.9 L95.9,180.4 L97.7,181.0 L99.5,181.5 L101.3,181.9 L103.1,182.3 L104.9,182.6 L106.8,182.9 L108.6,183.1 L110.5,183.3 M56.6,215.6 L57.5,214.0 L58.5,212.3 L59.4,210.7 L60.5,209.1 L61.5,207.5 L62.6,206.0 L63.7,204.4 L64.8,202.9 L65.9,201.3 L66.9,199.7 L67.9,198.1 L68.8,196.4 L69.6,194.7 L70.5,193.1 L71.4,191.4 L72.4,189.8 L73.5,188.2 L74.6,186.7 L75.9,185.3 L77.2,184.0 L78.6,182.7 L80.2,181.6 L81.8,180.7 L83.6,180.0 L85.3,179.4 L87.2,178.9 L89.0,178.7 L90.9,178.6 L92.8,178.7 L94.7,179.0 L96.5,179.4 L98.3,179.9 L100.1,180.5 L101.9,180.9 L103.7,181.4 L105.6,181.7 L107.4,182.1 L109.2,182.4 L111.0,182.7 L112.9,182.9 M59.0,215.4 L60.0,213.8 L60.9,212.1 L61.9,210.5 L62.9,208.9 L64.0,207.3 L65.1,205.7 L66.2,204.2 L67.2,202.6 L68.3,201.0 L69.3,199.4 L70.3,197.8 L71.2,196.1 L72.1,194.4 L73.0,192.7 L73.9,191.1 L74.8,189.4 L75.9,187.9 L77.1,186.4 L78.3,184.9 L79.7,183.6 L81.1,182.4 L82.6,181.2 L84.3,180.3 L86.0,179.6 L87.8,179.0 L89.6,178.5 L91.5,178.2 L93.4,178.1 L95.3,178.3 L97.1,178.5 L99.0,178.9 L100.8,179.4 L102.6,179.9 L104.4,180.4 L106.2,180.9 L108.0,181.3 L109.8,181.6 L111.6,182.0 L113.5,182.2 L115.3,182.5 M61.5,215.1 L62.4,213.5 L63.4,211.8 L64.4,210.2 L65.4,208.6 L66.5,207.0 L67.5,205.4 L68.6,203.9 L69.7,202.3 L70.7,200.7 L71.8,199.1 L72.8,197.5 L73.7,195.8 L74.5,194.1 L75.4,192.4 L76.4,190.8 L77.3,189.1 L78.4,187.5 L79.5,186.0 L80.8,184.6 L82.2,183.3 L83.6,182.0 L85.1,180.9 L86.8,179.9 L88.5,179.2 L90.3,178.5 L92.1,178.1 L93.9,177.8 L95.8,177.7 L97.7,177.8 L99.6,178.0 L101.4,178.4 L103.3,178.9 L105.0,179.4 L106.8,179.9 L108.6,180.4 L110.4,180.8 L112.2,181.2 L114.0,181.6 L115.9,181.9 L117.7,182.1 M63.9,214.9 L64.9,213.3 L65.8,211.6 L66.8,210.0 L67.8,208.4 L68.9,206.8 L70.0,205.2 L71.1,203.6 L72.1,202.0 L73.2,200.5 L74.2,198.9 L75.2,197.2 L76.1,195.5 L77.0,193.8 L77.9,192.2 L78.8,190.5 L79.8,188.8 L80.8,187.3 L82.0,185.8 L83.3,184.3 L84.6,183.0 L86.1,181.7 L87.6,180.6 L89.2,179.7 L91.0,178.9 L92.7,178.2 L94.6,177.7 L96.4,177.4 L98.3,177.3 L100.2,177.4 L102.1,177.7 L103.9,178.1 L105.7,178.5 L107.5,179.1 L109.3,179.6 L111.1,180.1 L112.9,180.5 L114.7,181.0 L116.5,181.3 L118.3,181.7 L120.2,181.9 M66.4,214.9 L67.4,213.3 L68.3,211.6 L69.3,210.0 L70.3,208.4 L71.4,206.8 L72.5,205.2 L73.5,203.7 L74.6,202.1 L75.6,200.5 L76.7,198.9 L77.7,197.2 L78.6,195.6 L79.5,193.9 L80.4,192.2 L81.3,190.5 L82.2,188.9 L83.3,187.3 L84.5,185.8 L85.8,184.4 L87.1,183.0 L88.6,181.8 L90.1,180.6 L91.7,179.7 L93.5,178.9 L95.2,178.2 L97.0,177.7 L98.9,177.4 L100.8,177.3 L102.7,177.4 L104.5,177.6 L106.4,178.0 L108.2,178.5 L110.0,179.1 L111.8,179.6 L113.6,180.1 L115.4,180.6 L117.1,181.0 L118.9,181.4 L120.8,181.8 L122.6,182.0 M68.8,215.4 L69.8,213.8 L70.7,212.1 L71.7,210.5 L72.7,208.9 L73.8,207.3 L74.9,205.7 L75.9,204.1 L77.0,202.5 L78.1,200.9 L79.1,199.3 L80.1,197.7 L81.0,196.0 L81.9,194.3 L82.8,192.6 L83.7,191.0 L84.7,189.3 L85.7,187.7 L86.9,186.3 L88.2,184.8 L89.6,183.5 L91.0,182.2 L92.5,181.1 L94.2,180.1 L95.9,179.3 L97.6,178.7 L99.5,178.1 L101.3,177.8 L103.2,177.7 L105.1,177.8 L107.0,178.0 L108.8,178.4 L110.6,178.9 L112.4,179.5 L114.2,180.0 L116.0,180.5 L117.8,181.0 L119.5,181.5 L121.3,181.9 L123.1,182.3 L125.0,182.6 M71.2,216.2 L72.1,214.6 L73.1,212.9 L74.0,211.3 L75.1,209.7 L76.1,208.1 L77.2,206.5 L78.2,204.9 L79.3,203.3 L80.3,201.8 L81.4,200.2 L82.4,198.5 L83.3,196.9 L84.2,195.2 L85.1,193.5 L86.0,191.8 L86.9,190.2 L88.0,188.6 L89.2,187.1 L90.5,185.7 L91.9,184.4 L93.3,183.1 L94.8,182.0 L96.5,181.0 L98.2,180.2 L99.9,179.5 L101.7,179.0 L103.6,178.7 L105.5,178.5 L107.4,178.6 L109.2,178.9 L111.1,179.3 L112.9,179.8 L114.7,180.3 L116.5,180.9 L118.2,181.4 L120.0,182.0 L121.7,182.5 L123.5,182.9 L125.3,183.3 L127.2,183.7 M73.4,217.2 L74.4,215.6 L75.3,213.9 L76.3,212.3 L77.3,210.7 L78.3,209.1 L79.4,207.5 L80.5,206.0 L81.5,204.4 L82.5,202.8 L83.6,201.2 L84.6,199.6 L85.5,197.9 L86.4,196.3 L87.3,194.6 L88.2,192.9 L89.1,191.3 L90.2,189.7 L91.4,188.3 L92.7,186.9 L94.0,185.5 L95.5,184.3 L97.0,183.2 L98.6,182.2 L100.3,181.4 L102.0,180.7 L103.8,180.1 L105.7,179.8 L107.6,179.7 L109.5,179.8 L111.3,180.0 L113.2,180.4 L115.0,180.9 L116.8,181.5 L118.6,182.1 L120.3,182.7 L122.0,183.2 L123.8,183.8 L125.6,184.3 L127.4,184.7 L129.2,185.1 M75.6,218.4 L76.5,216.8 L77.5,215.1 L78.4,213.5 L79.4,211.9 L80.5,210.3 L81.5,208.8 L82.6,207.2 L83.6,205.6 L84.6,204.1 L85.6,202.5 L86.6,200.9 L87.5,199.2 L88.4,197.5 L89.4,195.9 L90.3,194.3 L91.2,192.6 L92.2,191.0 L93.4,189.6 L94.7,188.2 L96.1,186.9 L97.5,185.7 L99.0,184.5 L100.6,183.6 L102.3,182.7 L104.0,182.0 L105.8,181.5 L107.7,181.1 L109.5,181.0 L111.4,181.1 L113.3,181.4 L115.1,181.8 L116.9,182.3 L118.7,182.9 L120.5,183.5 L122.2,184.1 L123.9,184.7 L125.6,185.3 L127.4,185.8 L129.2,186.3 L131.0,186.7 M77.6,219.8 L78.5,218.2 L79.5,216.6 L80.4,215.0 L81.4,213.4 L82.4,211.8 L83.5,210.2 L84.5,208.7 L85.5,207.1 L86.6,205.5 L87.6,204.0 L88.5,202.3 L89.5,200.7 L90.3,199.1 L91.3,197.4 L92.2,195.8 L93.1,194.1 L94.1,192.6 L95.3,191.1 L96.6,189.8 L97.9,188.5 L99.4,187.3 L100.9,186.1 L102.5,185.2 L104.1,184.3 L105.8,183.6 L107.6,183.0 L109.5,182.7 L111.3,182.6 L113.2,182.7 L115.1,183.0 L116.9,183.4 L118.7,183.9 L120.5,184.5 L122.2,185.1 L123.9,185.7 L125.6,186.4 L127.3,187.0 L129.1,187.6 L130.9,188.0 L132.7,188.5 M79.5,221.4 L80.4,219.8 L81.3,218.2 L82.3,216.6 L83.3,215.0 L84.3,213.4 L85.3,211.9 L86.3,210.3 L87.3,208.7 L88.4,207.2 L89.4,205.6 L90.3,204.0 L91.2,202.4 L92.1,200.7 L93.0,199.1 L93.9,197.5 L94.8,195.8 L95.9,194.3 L97.1,192.8 L98.3,191.5 L99.7,190.2 L101.1,189.0 L102.6,187.8 L104.2,186.9 L105.8,186.0 L107.5,185.3 L109.3,184.7 L111.1,184.4 L113.0,184.2 L114.9,184.4 L116.7,184.7 L118.5,185.1 L120.3,185.6 L122.1,186.2 L123.8,186.8 L125.6,187.5 L127.2,188.2 L128.9,188.8 L130.7,189.4 L132.4,189.9 L134.2,190.4 M81.3,223.0 L82.3,221.4 L83.2,219.8 L84.1,218.2 L85.1,216.6 L86.1,215.1 L87.1,213.5 L88.1,211.9 L89.1,210.4 L90.1,208.8 L91.1,207.2 L92.1,205.6 L93.0,204.0 L93.9,202.4 L94.8,200.8 L95.7,199.2 L96.5,197.5 L97.6,196.0 L98.8,194.5 L100.1,193.2 L101.4,191.9 L102.8,190.7 L104.3,189.6 L105.9,188.6 L107.5,187.7 L109.2,187.0 L111.0,186.4 L112.8,186.1 L114.6,185.9 L116.5,186.1 L118.3,186.4 L120.1,186.8 L121.9,187.3 L123.7,187.9 L125.4,188.6 L127.1,189.3 L128.8,190.0 L130.5,190.7 L132.2,191.3 L133.9,191.8 L135.7,192.3 M83.3,224.6 L84.2,223.0 L85.1,221.4 L86.0,219.8 L87.0,218.2 L88.0,216.6 L89.0,215.1 L90.0,213.5 L91.0,212.0 L91.9,210.4 L92.9,208.9 L93.9,207.3 L94.8,205.7 L95.7,204.0 L96.6,202.4 L97.5,200.8 L98.3,199.2 L99.3,197.6 L100.5,196.2 L101.8,194.9 L103.1,193.6 L104.5,192.4 L106.0,191.3 L107.6,190.3 L109.2,189.5 L110.8,188.7 L112.6,188.1 L114.4,187.8 L116.2,187.7 L118.1,187.8 L119.9,188.1 L121.7,188.5 L123.5,189.1 L125.2,189.7 L127.0,190.4 L128.6,191.1 L130.3,191.8 L131.9,192.6 L133.6,193.2 L135.3,193.8 L137.1,194.3 M85.2,226.1 L86.1,224.5 L87.0,222.9 L87.9,221.3 L88.9,219.8 L89.8,218.2 L90.8,216.7 L91.8,215.1 L92.8,213.6 L93.8,212.0 L94.7,210.5 L95.7,208.9 L96.6,207.3 L97.4,205.7 L98.3,204.1 L99.2,202.5 L100.0,200.9 L101.0,199.3 L102.2,197.9 L103.5,196.6 L104.8,195.4 L106.2,194.2 L107.7,193.1 L109.2,192.1 L110.8,191.2 L112.4,190.5 L114.2,189.9 L116.0,189.5 L117.8,189.4 L119.6,189.5 L121.4,189.9 L123.2,190.3 L125.0,190.9 L126.7,191.5 L128.4,192.2 L130.1,193.0 L131.7,193.7 L133.3,194.5 L135.0,195.2 L136.7,195.8 L138.4,196.3 M87.1,227.7 L88.0,226.1 L88.9,224.5 L89.8,222.9 L90.7,221.4 L91.7,219.8 L92.6,218.3 L93.6,216.7 L94.6,215.2 L95.5,213.7 L96.5,212.1 L97.4,210.5 L98.3,209.0 L99.2,207.4 L100.1,205.8 L100.9,204.2 L101.7,202.6 L102.7,201.1 L103.9,199.7 L105.2,198.4 L106.5,197.1 L107.9,195.9 L109.3,194.9 L110.8,193.9 L112.4,193.0 L114.0,192.2 L115.7,191.6 L117.5,191.3 L119.3,191.2 L121.2,191.3 L123.0,191.6 L124.7,192.1 L126.5,192.7 L128.2,193.3 L129.9,194.0 L131.5,194.8 L133.1,195.6 L134.7,196.4 L136.4,197.2 L138.1,197.8 L139.8,198.4 M88.9,229.3 L89.8,227.8 L90.7,226.2 L91.6,224.6 L92.5,223.1 L93.4,221.5 L94.4,220.0 L95.3,218.4 L96.3,216.9 L97.2,215.4 L98.2,213.8 L99.1,212.3 L100.0,210.7 L100.9,209.1 L101.7,207.5 L102.6,206.0 L103.4,204.3 L104.4,202.8 L105.5,201.5 L106.8,200.2 L108.1,198.9 L109.5,197.8 L110.9,196.7 L112.4,195.7 L114.0,194.8 L115.6,194.0 L117.3,193.4 L119.1,193.0 L120.9,192.9 L122.7,193.1 L124.5,193.4 L126.2,193.9 L128.0,194.5 L129.7,195.1 L131.4,195.9 L133.0,196.7 L134.6,197.5 L136.1,198.4 L137.8,199.1 L139.5,199.8 L141.2,200.4 M90.6,231.1 L91.5,229.5 L92.4,228.0 L93.3,226.4 L94.2,224.8 L95.1,223.3 L96.1,221.8 L97.0,220.2 L97.9,218.7 L98.9,217.2 L99.8,215.6 L100.7,214.1 L101.6,212.5 L102.5,210.9 L103.4,209.4 L104.2,207.8 L105.0,206.2 L106.0,204.7 L107.1,203.3 L108.4,202.0 L109.7,200.8 L111.1,199.6 L112.5,198.5 L114.0,197.5 L115.5,196.6 L117.1,195.8 L118.8,195.2 L120.6,194.8 L122.4,194.7 L124.2,194.9 L126.0,195.2 L127.7,195.7 L129.5,196.3 L131.2,197.0 L132.9,197.7 L134.5,198.5 L136.0,199.4 L137.6,200.3 L139.2,201.1 L140.9,201.8 L142.6,202.4 M92.3,233.0 L93.1,231.4 L94.0,229.8 L94.9,228.3 L95.8,226.7 L96.7,225.2 L97.7,223.6 L98.6,222.1 L99.5,220.6 L100.5,219.0 L101.4,217.5 L102.3,215.9 L103.2,214.4 L104.1,212.8 L104.9,211.2 L105.8,209.6 L106.5,208.0 L107.5,206.5 L108.7,205.2 L110.0,203.9 L111.3,202.7 L112.6,201.5 L114.1,200.4 L115.6,199.4 L117.1,198.5 L118.7,197.7 L120.4,197.1 L122.1,196.7 L123.9,196.5 L125.7,196.7 L127.5,197.0 L129.3,197.5 L131.0,198.1 L132.7,198.8 L134.3,199.5 L135.9,200.4 L137.5,201.3 L139.0,202.2 L140.6,203.0 L142.3,203.7 L144.0,204.4 M93.9,234.9 L94.7,233.3 L95.6,231.7 L96.5,230.1 L97.4,228.6 L98.3,227.0 L99.2,225.5 L100.2,224.0 L101.1,222.4 L102.0,220.9 L102.9,219.3 L103.9,217.8 L104.7,216.2 L105.6,214.7 L106.5,213.1 L107.4,211.5 L108.1,209.9 L109.1,208.4 L110.3,207.0 L111.5,205.8 L112.8,204.5 L114.2,203.4 L115.6,202.3 L117.1,201.3 L118.6,200.3 L120.2,199.5 L121.9,198.9 L123.6,198.5 L125.4,198.3 L127.2,198.5 L129.0,198.8 L130.8,199.3 L132.5,199.9 L134.2,200.6 L135.9,201.3 L137.5,202.2 L139.0,203.2 L140.5,204.1 L142.1,204.9 L143.8,205.7 L145.4,206.4 M95.4,236.8 L96.3,235.2 L97.2,233.6 L98.0,232.1 L98.9,230.5 L99.9,228.9 L100.8,227.4 L101.7,225.9 L102.6,224.3 L103.6,222.8 L104.5,221.2 L105.4,219.7 L106.3,218.1 L107.2,216.5 L108.1,215.0 L108.9,213.4 L109.7,211.7 L110.6,210.2 L111.8,208.9 L113.1,207.6 L114.4,206.4 L115.8,205.2 L117.2,204.1 L118.7,203.1 L120.2,202.2 L121.8,201.3 L123.4,200.7 L125.2,200.2 L127.0,200.1 L128.8,200.3 L130.6,200.6 L132.3,201.1 L134.1,201.7 L135.8,202.4 L137.4,203.1 L139.0,204.0 L140.5,205.0 L142.1,206.0 L143.7,206.8 L145.3,207.6 L147.0,208.3 M96.9,238.8 L97.8,237.2 L98.6,235.6 L99.5,234.0 L100.4,232.4 L101.3,230.9 L102.3,229.3 L103.2,227.8 L104.1,226.2 L105.1,224.7 L106.0,223.1 L106.9,221.6 L107.8,220.0 L108.7,218.4 L109.6,216.9 L110.4,215.3 L111.2,213.6 L112.2,212.1 L113.4,210.8 L114.7,209.5 L116.0,208.3 L117.4,207.1 L118.8,206.0 L120.3,205.0 L121.8,204.0 L123.4,203.1 L125.0,202.5 L126.8,202.0 L128.6,201.9 L130.4,202.0 L132.2,202.4 L133.9,202.8 L135.7,203.4 L137.4,204.1 L139.0,204.9 L140.6,205.8 L142.1,206.8 L143.6,207.8 L145.2,208.6 L146.9,209.4 L148.5,210.1 M98.3,240.8 L99.2,239.2 L100.1,237.6 L101.0,236.0 L101.9,234.4 L102.8,232.9 L103.7,231.3 L104.7,229.7 L105.6,228.2 L106.5,226.6 L107.5,225.0 L108.4,223.5 L109.3,221.9 L110.2,220.3 L111.1,218.8 L112.0,217.2 L112.7,215.5 L113.7,214.0 L114.9,212.6 L116.2,211.4 L117.6,210.1 L118.9,209.0 L120.4,207.8 L121.9,206.8 L123.4,205.8 L125.0,204.9 L126.6,204.2 L128.4,203.8 L130.2,203.6 L132.0,203.7 L133.8,204.1 L135.6,204.5 L137.3,205.1 L139.0,205.8 L140.7,206.6 L142.3,207.5 L143.8,208.5 L145.3,209.5 L146.9,210.4 L148.5,211.2 L150.2,211.9 M99.8,242.7 L100.7,241.1 L101.6,239.5 L102.5,237.9 L103.4,236.4 L104.3,234.8 L105.3,233.2 L106.2,231.6 L107.1,230.1 L108.1,228.5 L109.0,226.9 L109.9,225.4 L110.9,223.8 L111.8,222.2 L112.7,220.6 L113.6,219.0 L114.3,217.3 L115.3,215.8 L116.6,214.5 L117.9,213.2 L119.2,212.0 L120.6,210.8 L122.0,209.6 L123.5,208.6 L125.0,207.6 L126.6,206.6 L128.3,205.9 L130.1,205.4 L131.9,205.3 L133.7,205.4 L135.5,205.7 L137.3,206.2 L139.0,206.7 L140.7,207.4 L142.4,208.2 L144.0,209.2 L145.5,210.2 L147.0,211.2 L148.6,212.1 L150.2,212.9 L151.9,213.7 M101.4,244.6 L102.3,243.0 L103.2,241.4 L104.1,239.8 L105.0,238.2 L105.9,236.6 L106.9,235.1 L107.8,233.5 L108.7,231.9 L109.7,230.3 L110.6,228.7 L111.6,227.2 L112.5,225.6 L113.4,224.0 L114.4,222.4 L115.2,220.8 L116.0,219.1 L117.0,217.6 L118.2,216.2 L119.6,215.0 L120.9,213.7 L122.3,212.5 L123.7,211.4 L125.2,210.3 L126.8,209.3 L128.3,208.3 L130.0,207.6 L131.8,207.1 L133.6,206.9 L135.4,207.0 L137.2,207.3 L139.0,207.8 L140.8,208.3 L142.5,209.0 L144.2,209.8 L145.7,210.8 L147.2,211.8 L148.8,212.9 L150.3,213.8 L152.0,214.6 L153.7,215.4" stroke-width="0.45"/>
</g>
<path d="M71.0,183.0 L81.4,183.2 L92.6,185.5 L104.2,185.5 L115.0,183.5 L125.0,184.0" clip-path="url(#scd)" fill="none" stroke="#200000" stroke-width="4" stroke-opacity="0.3" stroke-linecap="round" stroke-linejoin="round" filter="url(#blur)"/>
<path d="M41.90,217.60 C42.47,216.65 44.02,213.85 45.30,211.90 C46.58,209.95 48.32,207.75 49.60,205.90 C50.88,204.05 52.00,202.52 53.00,200.80 C54.00,199.08 54.73,197.18 55.60,195.60 C56.47,194.02 57.20,192.73 58.20,191.30 C59.20,189.87 60.32,188.28 61.60,187.00 C62.88,185.72 64.32,184.45 65.90,183.60 C67.48,182.75 69.38,182.25 71.10,181.90 C72.82,181.55 74.48,181.45 76.20,181.50 C77.92,181.55 79.65,181.83 81.40,182.20 C83.15,182.57 84.83,183.32 86.70,183.70 C88.57,184.08 90.65,184.30 92.60,184.50 C94.55,184.70 96.47,184.90 98.40,184.90 C100.33,184.90 102.27,184.75 104.20,184.50 C106.13,184.25 108.20,183.73 110.00,183.40 C111.80,183.07 113.30,182.75 115.00,182.50 C116.70,182.25 118.48,181.87 120.20,181.90 C121.92,181.93 123.58,181.98 125.30,182.70 C127.02,183.42 128.78,184.62 130.50,186.20 C132.22,187.78 133.88,189.92 135.60,192.20 C137.32,194.48 139.22,197.62 140.80,199.90 C142.38,202.18 143.67,204.03 145.10,205.90 C146.53,207.77 147.68,209.23 149.40,211.10 C151.12,212.97 154.40,216.10 155.40,217.10 C154.68,216.73 152.68,215.85 151.10,214.90 C149.52,213.95 147.62,212.32 145.90,211.40 C144.18,210.48 142.52,209.88 140.80,209.40 C139.08,208.92 137.18,208.50 135.60,208.50 C134.02,208.50 132.73,208.82 131.30,209.40 C129.87,209.98 128.43,211.00 127.00,212.00 C125.57,213.00 124.13,214.12 122.70,215.40 C121.27,216.68 119.45,218.33 118.40,219.70 C117.35,221.07 117.50,221.67 116.40,223.60 C115.30,225.53 113.33,228.72 111.80,231.30 C110.27,233.88 108.67,236.57 107.20,239.10 C105.73,241.63 103.70,245.27 103.00,246.50 C102.40,245.78 100.77,243.95 99.40,242.20 C98.03,240.45 96.60,238.20 94.80,236.00 C93.00,233.80 90.83,231.15 88.60,229.00 C86.37,226.85 83.47,224.80 81.40,223.10 C79.33,221.40 77.92,219.95 76.20,218.80 C74.48,217.65 72.82,216.85 71.10,216.20 C69.38,215.55 67.92,215.03 65.90,214.90 C63.88,214.77 61.57,215.18 59.00,215.40 C56.43,215.62 53.35,215.83 50.50,216.20 C47.65,216.57 43.33,217.37 41.90,217.60 Z" fill="none" stroke="#300000" stroke-width="0.6"/>
</g>
<text x="6.8" y="157.1" font-family='"Liberation Serif", serif' font-weight="bold" font-size="11" fill="#000" stroke="#000" stroke-width="0.35">d</text>
<text x="10.8" y="175.5" font-family='"Liberation Serif", serif' font-weight="bold" font-size="8.2" textLength="18.7" lengthAdjust="spacingAndGlyphs" fill="#111" stroke="#111" stroke-width="0.22">MRR</text>
<text x="19.7" y="187.2" font-family='"Liberation Sans", sans-serif' font-weight="bold" font-size="6.5" text-anchor="middle" fill="#111" stroke="#111" stroke-width="0.12">0.06</text>
<text x="19.7" y="204.8" font-family='"Liberation Sans", sans-serif' font-weight="bold" font-size="6.5" text-anchor="middle" fill="#111" stroke="#111" stroke-width="0.12">0.04</text>
<text x="20.0" y="221.8" font-family='"Liberation Sans", sans-serif' font-weight="bold" font-size="6.5" text-anchor="middle" fill="#111" stroke="#111" stroke-width="0.12">0.02</text>
<text x="20.0" y="239.3" font-family='"Liberation Sans", sans-serif' font-weight="bold" font-size="6.5" text-anchor="middle" fill="#111" stroke="#111" stroke-width="0.12">0.00</text>
<text x="28.1" y="250.7" font-family='"Liberation Sans", sans-serif' font-weight="bold" font-size="6.3" text-anchor="middle" fill="#111" stroke="#111" stroke-width="0.12">20</text>
<text x="48.4" y="259.2" font-family='"Liberation Sans", sans-serif' font-weight="bold" font-size="6.3" text-anchor="middle" fill="#111" stroke="#111" stroke-width="0.12">40</text>
<text x="69.4" y="267.0" font-family='"Liberation Sans", sans-serif' font-weight="bold" font-size="6.3" text-anchor="middle" fill="#111" stroke="#111" stroke-width="0.12">60</text>
<text x="90.6" y="274.8" font-family='"Liberation Sans", sans-serif' font-weight="bold" font-size="6.3" text-anchor="middle" fill="#111" stroke="#111" stroke-width="0.12">80</text>
<text x="119.4" y="274.2" font-family='"Liberation Sans", sans-serif' font-weight="bold" font-size="6.3" text-anchor="middle" fill="#111" stroke="#111" stroke-width="0.12">100</text>
<text x="139.7" y="261.1" font-family='"Liberation Sans", sans-serif' font-weight="bold" font-size="6.3" text-anchor="middle" fill="#111" stroke="#111" stroke-width="0.12">120</text>
<text x="160.1" y="249.8" font-family='"Liberation Sans", sans-serif' font-weight="bold" font-size="6.3" text-anchor="middle" fill="#111" stroke="#111" stroke-width="0.12">140</text>
<text x="27.6" y="270.1" font-family='"Liberation Serif", serif' font-weight="bold" font-size="8.6" textLength="20.1" lengthAdjust="spacingAndGlyphs" fill="#111" stroke="#111" stroke-width="0.22">DUTY</text>
<text x="26.1" y="280.5" font-family='"Liberation Serif", serif' font-weight="bold" font-size="8.6" textLength="31.5" lengthAdjust="spacingAndGlyphs" fill="#111" stroke="#111" stroke-width="0.22">FACTOR</text>
<text x="150.5" y="267.0" font-family='"Liberation Sans", sans-serif' font-weight="bold" font-size="7.0" textLength="28.1" lengthAdjust="spacingAndGlyphs" fill="#111" stroke="#111" stroke-width="0.22">VOLTAGE</text>
<rect x="193" y="145" width="199" height="145" fill="#000"/>
<rect x="195" y="147" width="195" height="141" fill="#fff"/>
<rect x="196" y="148" width="193" height="139" fill="#e9e9e9"/>
<rect x="196.4" y="261.4" width="28.4" height="19.3" fill="#f0f0f0"/>
<rect x="224.8" y="261.4" width="22.7" height="19.3" fill="#ececec"/>
<g clip-path="url(#cpe)">
<polygon points="239.4,183.8 278.4,148.5 356.6,164.3 356.6,220.3 318.2,256.2 239.4,240.1" fill="#fff23c"/>
<polyline points="239.4,183.8 278.4,148.5 356.6,164.3 356.6,220.3" stroke="#555" stroke-width="0.9" stroke-dasharray="3.5 3" fill="none"/>
<polyline points="239.4,240.1 278.4,204.6 356.6,220.3" stroke="#555" stroke-width="0.9" stroke-dasharray="3.5 3" fill="none"/>
<line x1="278.4" y1="148.5" x2="278.4" y2="204.6" stroke="#555" stroke-width="0.9" stroke-dasharray="3.5 3" fill="none"/>
<polyline points="239.4,183.8 239.4,240.1" stroke="#9a9a70" stroke-width="0.6" fill="none"/>
<polyline points="239.4,240.1 318.2,256.2 356.6,220.3" stroke="#5a5a40" stroke-width="0.8" fill="none"/>
<path d="M244.60,186.30 C245.78,185.87 249.37,184.48 251.70,183.70 C254.03,182.92 256.30,182.52 258.60,181.60 C260.90,180.68 263.43,179.57 265.50,178.20 C267.57,176.83 269.52,175.12 271.00,173.40 C272.48,171.68 273.48,169.63 274.40,167.90 C275.32,166.17 275.67,164.42 276.50,163.00 C277.33,161.58 278.92,160.00 279.40,159.40 C281.65,160.63 288.42,164.08 292.90,166.80 C297.38,169.52 301.83,172.53 306.30,175.70 C310.77,178.87 315.23,182.45 319.70,185.80 C324.17,189.15 329.00,192.83 333.10,195.80 C337.20,198.77 341.45,201.65 344.30,203.60 C347.15,205.55 349.22,206.85 350.20,207.50 C349.92,208.33 349.25,210.60 348.50,212.50 C347.75,214.40 347.77,215.83 345.70,218.90 C343.63,221.97 339.30,227.08 336.10,230.90 C332.90,234.72 329.52,238.70 326.50,241.80 C323.48,244.90 319.42,248.22 318.00,249.50 C315.73,248.43 308.82,246.10 304.40,243.10 C299.98,240.10 296.22,236.00 291.50,231.50 C286.78,227.00 281.25,221.25 276.10,216.10 C270.95,210.95 265.85,205.57 260.60,200.60 C255.35,195.63 247.27,188.68 244.60,186.30 Z" fill="#de0a0a"/>
<g clip-path="url(#sce)" fill="none" stroke="#660000">
<path d="M248.2,184.9 L250.0,186.5 L251.9,188.1 L253.7,189.6 L255.6,191.2 L257.4,192.7 L259.2,194.3 L261.0,195.9 L262.8,197.5 L264.6,199.1 L266.4,200.7 L268.1,202.4 L269.8,204.1 L271.6,205.7 L273.3,207.4 L275.0,209.1 L276.7,210.8 L278.4,212.5 L280.1,214.2 L281.9,215.9 L283.6,217.6 L285.3,219.2 L287.0,220.9 L288.7,222.6 L290.4,224.3 L292.2,226.0 L293.9,227.6 L295.7,229.3 L297.4,231.0 L299.1,232.6 L300.9,234.3 L302.7,235.9 L304.5,237.5 L306.4,239.0 L308.3,240.4 L310.4,241.6 L312.6,242.7 L314.7,243.7 L316.9,244.7 L319.2,245.6 L321.4,246.6 M251.8,183.7 L253.7,185.1 L255.5,186.6 L257.4,188.1 L259.2,189.6 L261.0,191.1 L262.9,192.6 L264.7,194.2 L266.5,195.7 L268.2,197.3 L270.0,198.8 L271.8,200.4 L273.5,202.1 L275.2,203.7 L276.9,205.3 L278.6,207.0 L280.4,208.6 L282.1,210.2 L283.8,211.9 L285.5,213.5 L287.2,215.2 L288.9,216.8 L290.6,218.4 L292.3,220.1 L294.1,221.7 L295.8,223.3 L297.5,225.0 L299.3,226.6 L301.0,228.2 L302.7,229.8 L304.5,231.4 L306.3,233.0 L308.1,234.5 L309.9,236.0 L311.9,237.3 L313.9,238.6 L316.0,239.7 L318.2,240.7 L320.3,241.7 L322.5,242.6 L324.7,243.6 M255.5,182.6 L257.4,184.0 L259.2,185.4 L261.1,186.8 L262.9,188.3 L264.7,189.7 L266.5,191.1 L268.3,192.6 L270.1,194.1 L271.9,195.6 L273.7,197.1 L275.4,198.6 L277.1,200.2 L278.9,201.7 L280.6,203.3 L282.3,204.9 L284.0,206.5 L285.7,208.0 L287.4,209.6 L289.1,211.2 L290.8,212.8 L292.5,214.4 L294.2,216.0 L295.9,217.5 L297.6,219.1 L299.3,220.7 L301.1,222.3 L302.8,223.8 L304.5,225.4 L306.2,226.9 L308.0,228.5 L309.7,230.0 L311.5,231.5 L313.4,232.9 L315.3,234.2 L317.3,235.4 L319.4,236.5 L321.5,237.5 L323.6,238.5 L325.7,239.4 L327.8,240.4 M259.2,181.4 L261.0,182.7 L262.9,184.1 L264.7,185.4 L266.5,186.8 L268.3,188.1 L270.1,189.5 L271.9,190.9 L273.7,192.3 L275.5,193.7 L277.2,195.2 L279.0,196.6 L280.7,198.1 L282.4,199.6 L284.1,201.1 L285.8,202.6 L287.5,204.2 L289.2,205.7 L290.9,207.2 L292.6,208.7 L294.3,210.3 L296.0,211.8 L297.7,213.3 L299.4,214.8 L301.1,216.4 L302.8,217.9 L304.5,219.4 L306.2,220.9 L307.9,222.4 L309.6,223.9 L311.3,225.4 L313.1,226.8 L314.9,228.3 L316.7,229.6 L318.6,230.9 L320.5,232.1 L322.6,233.2 L324.6,234.2 L326.7,235.2 L328.8,236.1 L330.8,237.1 M262.7,179.8 L264.5,181.1 L266.4,182.4 L268.2,183.6 L270.0,184.9 L271.8,186.2 L273.6,187.5 L275.4,188.9 L277.2,190.2 L279.0,191.6 L280.7,193.0 L282.4,194.4 L284.2,195.8 L285.9,197.3 L287.6,198.7 L289.3,200.2 L290.9,201.6 L292.6,203.1 L294.3,204.6 L296.0,206.1 L297.7,207.5 L299.3,209.0 L301.0,210.5 L302.7,212.0 L304.4,213.4 L306.1,214.9 L307.8,216.4 L309.5,217.8 L311.2,219.3 L312.9,220.7 L314.6,222.1 L316.3,223.6 L318.1,225.0 L319.9,226.3 L321.8,227.5 L323.7,228.7 L325.7,229.8 L327.7,230.8 L329.7,231.8 L331.7,232.7 L333.8,233.7 M266.0,177.8 L267.9,179.1 L269.7,180.3 L271.5,181.5 L273.3,182.8 L275.1,184.0 L276.9,185.3 L278.7,186.5 L280.5,187.8 L282.3,189.2 L284.0,190.5 L285.7,191.9 L287.5,193.3 L289.2,194.6 L290.9,196.0 L292.6,197.5 L294.2,198.9 L295.9,200.3 L297.6,201.7 L299.3,203.2 L300.9,204.6 L302.6,206.0 L304.3,207.5 L306.0,208.9 L307.6,210.3 L309.3,211.8 L311.0,213.2 L312.7,214.6 L314.4,216.0 L316.1,217.4 L317.8,218.8 L319.5,220.2 L321.3,221.5 L323.1,222.8 L324.9,224.1 L326.8,225.2 L328.7,226.3 L330.7,227.3 L332.7,228.3 L334.7,229.3 L336.6,230.3 M269.0,175.4 L270.9,176.6 L272.7,177.8 L274.5,179.0 L276.4,180.2 L278.2,181.4 L280.0,182.6 L281.8,183.8 L283.6,185.1 L285.3,186.4 L287.1,187.7 L288.8,189.0 L290.5,190.3 L292.2,191.7 L293.9,193.1 L295.6,194.4 L297.3,195.8 L299.0,197.2 L300.7,198.6 L302.4,200.0 L304.0,201.4 L305.7,202.8 L307.4,204.2 L309.1,205.6 L310.7,207.0 L312.4,208.4 L314.1,209.8 L315.8,211.2 L317.5,212.6 L319.2,214.0 L320.9,215.3 L322.6,216.7 L324.4,218.0 L326.2,219.3 L328.0,220.5 L329.8,221.7 L331.7,222.8 L333.7,223.8 L335.6,224.8 L337.6,225.8 L339.5,226.8 M271.6,172.6 L273.5,173.7 L275.3,174.9 L277.2,176.0 L279.0,177.2 L280.9,178.4 L282.7,179.5 L284.5,180.8 L286.3,182.0 L288.1,183.2 L289.8,184.5 L291.6,185.8 L293.3,187.1 L295.0,188.5 L296.8,189.8 L298.5,191.2 L300.2,192.5 L301.9,193.9 L303.6,195.3 L305.2,196.6 L306.9,198.0 L308.6,199.4 L310.3,200.8 L312.0,202.2 L313.7,203.6 L315.4,204.9 L317.1,206.3 L318.8,207.7 L320.5,209.0 L322.2,210.4 L323.9,211.7 L325.6,213.1 L327.4,214.4 L329.1,215.7 L331.0,216.9 L332.8,218.0 L334.7,219.2 L336.6,220.2 L338.5,221.3 L340.4,222.3 L342.3,223.4 M273.7,169.3 L275.5,170.4 L277.4,171.6 L279.3,172.7 L281.2,173.8 L283.0,175.0 L284.9,176.1 L286.7,177.3 L288.5,178.5 L290.3,179.8 L292.1,181.0 L293.9,182.3 L295.7,183.6 L297.4,184.9 L299.2,186.2 L300.9,187.6 L302.6,188.9 L304.3,190.3 L306.0,191.6 L307.8,193.0 L309.5,194.4 L311.2,195.8 L312.9,197.1 L314.6,198.5 L316.3,199.9 L318.0,201.2 L319.7,202.6 L321.4,203.9 L323.2,205.3 L324.9,206.6 L326.6,208.0 L328.4,209.3 L330.1,210.6 L331.9,211.9 L333.7,213.1 L335.6,214.3 L337.5,215.4 L339.3,216.6 L341.2,217.7 L343.1,218.7 L345.1,219.8 M275.3,165.8 L277.2,166.9 L279.1,168.0 L281.0,169.1 L282.9,170.2 L284.8,171.3 L286.7,172.5 L288.5,173.6 L290.4,174.8 L292.2,176.0 L294.0,177.3 L295.8,178.5 L297.6,179.8 L299.4,181.1 L301.1,182.4 L302.9,183.7 L304.7,185.0 L306.4,186.4 L308.1,187.7 L309.9,189.1 L311.6,190.5 L313.3,191.8 L315.0,193.2 L316.8,194.5 L318.5,195.9 L320.2,197.2 L322.0,198.6 L323.7,199.9 L325.4,201.3 L327.2,202.6 L328.9,203.9 L330.7,205.2 L332.5,206.5 L334.3,207.8 L336.1,209.0 L337.9,210.2 L339.8,211.4 L341.7,212.6 L343.5,213.7 L345.4,214.8 L347.3,216.0 M276.9,162.4 L278.8,163.4 L280.7,164.5 L282.6,165.5 L284.6,166.6 L286.4,167.7 L288.3,168.8 L290.2,169.9 L292.0,171.1 L293.9,172.2 L295.7,173.5 L297.5,174.7 L299.3,175.9 L301.1,177.2 L302.8,178.5 L304.6,179.7 L306.4,181.0 L308.1,182.4 L309.8,183.7 L311.6,185.0 L313.3,186.4 L315.0,187.7 L316.7,189.0 L318.5,190.4 L320.2,191.7 L321.9,193.0 L323.7,194.3 L325.4,195.7 L327.2,197.0 L328.9,198.3 L330.6,199.6 L332.4,200.9 L334.2,202.2 L336.0,203.4 L337.8,204.7 L339.6,205.9 L341.4,207.1 L343.2,208.3 L345.1,209.4 L346.9,210.6 L348.8,211.7" stroke-width="0.6"/>
<path d="M248.1,189.4 L249.2,188.9 L250.3,188.5 L251.3,188.1 L252.4,187.6 L253.5,187.2 L254.6,186.8 L255.7,186.4 L256.8,186.0 L257.9,185.6 L259.0,185.3 L260.1,184.9 L261.2,184.5 L262.3,184.1 L263.4,183.6 L264.4,183.1 L265.5,182.6 L266.5,182.0 L267.5,181.5 L268.5,180.8 L269.5,180.2 L270.4,179.5 L271.4,178.7 L272.2,177.9 L273.1,177.1 L273.9,176.3 L274.7,175.4 L275.4,174.5 L276.0,173.5 L276.7,172.5 L277.2,171.5 L277.8,170.4 L278.3,169.4 L278.8,168.3 L279.2,167.2 L279.6,166.1 L280.1,165.0 L280.8,164.0 L281.5,163.1 L282.2,162.2 L283.0,161.3 M251.6,192.4 L252.7,192.0 L253.8,191.5 L254.8,191.0 L255.9,190.6 L257.0,190.1 L258.1,189.6 L259.2,189.2 L260.3,188.8 L261.4,188.4 L262.5,188.0 L263.6,187.6 L264.7,187.2 L265.8,186.7 L266.9,186.2 L267.9,185.6 L269.0,185.1 L270.0,184.5 L271.0,183.9 L272.0,183.2 L273.0,182.5 L273.9,181.8 L274.8,181.0 L275.7,180.2 L276.6,179.4 L277.4,178.5 L278.2,177.6 L278.9,176.7 L279.6,175.7 L280.2,174.6 L280.8,173.6 L281.4,172.5 L281.9,171.5 L282.4,170.4 L282.8,169.3 L283.3,168.1 L283.8,167.1 L284.4,166.1 L285.1,165.1 L285.9,164.2 L286.6,163.2 M255.1,195.5 L256.1,195.0 L257.2,194.5 L258.3,194.0 L259.4,193.5 L260.5,193.0 L261.6,192.5 L262.7,192.0 L263.8,191.6 L264.9,191.2 L266.0,190.7 L267.1,190.3 L268.2,189.8 L269.3,189.3 L270.3,188.7 L271.4,188.2 L272.4,187.6 L273.5,187.0 L274.5,186.3 L275.5,185.6 L276.4,184.9 L277.4,184.1 L278.3,183.3 L279.2,182.5 L280.0,181.7 L280.9,180.8 L281.7,179.8 L282.4,178.9 L283.1,177.9 L283.7,176.8 L284.3,175.8 L284.9,174.7 L285.5,173.6 L286.0,172.5 L286.4,171.4 L286.9,170.2 L287.4,169.1 L288.0,168.1 L288.7,167.1 L289.4,166.2 L290.2,165.2 M258.5,198.6 L259.6,198.1 L260.7,197.6 L261.8,197.0 L262.9,196.5 L264.0,196.0 L265.1,195.5 L266.1,194.9 L267.3,194.5 L268.4,194.0 L269.5,193.5 L270.5,193.0 L271.6,192.5 L272.7,191.9 L273.8,191.4 L274.8,190.8 L275.8,190.1 L276.9,189.5 L277.9,188.8 L278.9,188.1 L279.8,187.3 L280.8,186.6 L281.7,185.7 L282.6,184.9 L283.5,184.0 L284.3,183.1 L285.1,182.2 L285.9,181.2 L286.6,180.2 L287.2,179.1 L287.8,178.1 L288.4,177.0 L289.0,175.9 L289.5,174.7 L290.0,173.6 L290.4,172.4 L290.9,171.3 L291.6,170.3 L292.3,169.3 L293.0,168.3 L293.7,167.3 M261.9,201.8 L263.0,201.3 L264.1,200.7 L265.2,200.1 L266.3,199.6 L267.3,199.0 L268.4,198.5 L269.5,197.9 L270.6,197.4 L271.7,196.9 L272.8,196.4 L273.9,195.8 L275.0,195.3 L276.1,194.7 L277.1,194.1 L278.2,193.4 L279.2,192.8 L280.2,192.1 L281.2,191.4 L282.2,190.6 L283.2,189.9 L284.1,189.1 L285.1,188.2 L286.0,187.3 L286.8,186.5 L287.7,185.5 L288.5,184.6 L289.2,183.6 L290.0,182.6 L290.6,181.5 L291.3,180.4 L291.9,179.3 L292.5,178.2 L293.0,177.1 L293.4,175.9 L293.9,174.7 L294.4,173.6 L295.0,172.5 L295.7,171.5 L296.4,170.5 L297.1,169.5 M265.2,205.1 L266.3,204.5 L267.4,203.9 L268.5,203.3 L269.6,202.7 L270.7,202.1 L271.8,201.5 L272.9,200.9 L274.0,200.4 L275.1,199.8 L276.2,199.3 L277.2,198.7 L278.3,198.1 L279.4,197.5 L280.4,196.8 L281.5,196.2 L282.5,195.5 L283.5,194.8 L284.5,194.0 L285.5,193.3 L286.5,192.5 L287.4,191.6 L288.3,190.8 L289.3,189.9 L290.1,189.0 L291.0,188.0 L291.8,187.1 L292.6,186.0 L293.3,185.0 L294.0,183.9 L294.7,182.9 L295.3,181.8 L295.9,180.6 L296.4,179.5 L296.9,178.3 L297.3,177.1 L297.9,176.0 L298.5,174.9 L299.2,173.8 L299.9,172.8 L300.5,171.7 M268.5,208.4 L269.6,207.7 L270.7,207.1 L271.8,206.5 L272.9,205.9 L274.0,205.3 L275.1,204.6 L276.2,204.0 L277.2,203.4 L278.3,202.9 L279.4,202.3 L280.5,201.7 L281.6,201.0 L282.6,200.4 L283.7,199.7 L284.7,199.0 L285.7,198.2 L286.8,197.5 L287.8,196.7 L288.8,195.9 L289.7,195.1 L290.7,194.3 L291.6,193.4 L292.5,192.5 L293.4,191.5 L294.3,190.6 L295.1,189.6 L295.9,188.6 L296.6,187.5 L297.3,186.4 L298.0,185.3 L298.6,184.2 L299.3,183.1 L299.8,181.9 L300.3,180.7 L300.7,179.5 L301.3,178.4 L301.9,177.2 L302.5,176.2 L303.2,175.1 L303.9,174.0 M271.7,211.7 L272.8,211.0 L273.9,210.4 L275.0,209.7 L276.1,209.1 L277.2,208.4 L278.3,207.8 L279.4,207.1 L280.5,206.5 L281.6,205.9 L282.7,205.3 L283.8,204.6 L284.8,204.0 L285.9,203.2 L286.9,202.5 L288.0,201.8 L289.0,201.0 L290.0,200.3 L291.0,199.5 L292.0,198.6 L293.0,197.8 L293.9,196.9 L294.8,196.0 L295.7,195.1 L296.6,194.1 L297.5,193.2 L298.3,192.2 L299.1,191.1 L299.9,190.1 L300.6,189.0 L301.3,187.9 L302.0,186.8 L302.6,185.6 L303.2,184.4 L303.6,183.2 L304.1,182.0 L304.6,180.8 L305.2,179.7 L305.9,178.6 L306.6,177.5 L307.2,176.4 M275.0,215.0 L276.1,214.3 L277.2,213.6 L278.3,213.0 L279.4,212.3 L280.5,211.6 L281.6,210.9 L282.7,210.2 L283.8,209.6 L284.9,208.9 L285.9,208.3 L287.0,207.6 L288.1,206.9 L289.1,206.2 L290.1,205.4 L291.2,204.6 L292.2,203.8 L293.2,203.0 L294.2,202.2 L295.2,201.4 L296.2,200.5 L297.1,199.6 L298.0,198.7 L299.0,197.7 L299.8,196.8 L300.7,195.8 L301.6,194.8 L302.4,193.7 L303.1,192.7 L303.9,191.6 L304.6,190.5 L305.3,189.3 L305.9,188.2 L306.5,187.0 L307.0,185.8 L307.4,184.5 L307.9,183.3 L308.6,182.2 L309.2,181.0 L309.9,179.9 L310.5,178.8 M278.3,218.3 L279.4,217.6 L280.5,216.9 L281.6,216.2 L282.7,215.5 L283.8,214.8 L284.9,214.1 L285.9,213.4 L287.0,212.7 L288.1,212.0 L289.2,211.3 L290.2,210.6 L291.3,209.8 L292.3,209.1 L293.4,208.3 L294.4,207.5 L295.4,206.7 L296.4,205.8 L297.4,205.0 L298.4,204.1 L299.3,203.2 L300.3,202.3 L301.2,201.4 L302.1,200.4 L303.0,199.4 L303.9,198.4 L304.8,197.4 L305.6,196.4 L306.4,195.3 L307.1,194.2 L307.8,193.1 L308.5,191.9 L309.2,190.8 L309.8,189.6 L310.3,188.3 L310.7,187.1 L311.2,185.9 L311.9,184.7 L312.5,183.5 L313.1,182.4 L313.8,181.3 M281.5,221.6 L282.6,220.9 L283.7,220.1 L284.8,219.4 L285.9,218.7 L287.0,217.9 L288.1,217.2 L289.2,216.5 L290.3,215.8 L291.4,215.0 L292.4,214.3 L293.5,213.6 L294.5,212.8 L295.6,212.0 L296.6,211.2 L297.6,210.4 L298.6,209.5 L299.6,208.7 L300.6,207.8 L301.6,206.9 L302.5,206.0 L303.5,205.0 L304.4,204.1 L305.3,203.1 L306.2,202.1 L307.1,201.1 L308.0,200.1 L308.8,199.0 L309.6,197.9 L310.3,196.8 L311.1,195.7 L311.8,194.5 L312.5,193.4 L313.0,192.2 L313.5,190.9 L314.0,189.7 L314.5,188.4 L315.1,187.2 L315.8,186.1 L316.4,184.9 L317.0,183.8 M284.8,224.9 L285.9,224.1 L287.0,223.4 L288.1,222.6 L289.2,221.9 L290.3,221.1 L291.4,220.4 L292.5,219.6 L293.5,218.8 L294.6,218.1 L295.7,217.3 L296.7,216.5 L297.7,215.7 L298.8,214.9 L299.8,214.1 L300.8,213.2 L301.8,212.3 L302.8,211.5 L303.8,210.6 L304.8,209.6 L305.7,208.7 L306.7,207.7 L307.6,206.8 L308.5,205.8 L309.4,204.8 L310.3,203.7 L311.2,202.7 L312.0,201.6 L312.8,200.5 L313.6,199.4 L314.3,198.3 L315.1,197.1 L315.7,196.0 L316.3,194.8 L316.8,193.5 L317.3,192.2 L317.8,191.0 L318.4,189.8 L319.0,188.6 L319.7,187.4 L320.3,186.2 M288.1,228.2 L289.2,227.4 L290.3,226.6 L291.4,225.8 L292.5,225.1 L293.6,224.3 L294.7,223.5 L295.7,222.7 L296.8,221.9 L297.9,221.1 L298.9,220.3 L300.0,219.5 L301.0,218.7 L302.0,217.8 L303.0,216.9 L304.0,216.1 L305.0,215.2 L306.0,214.2 L307.0,213.3 L308.0,212.4 L308.9,211.4 L309.9,210.4 L310.8,209.5 L311.7,208.4 L312.6,207.4 L313.5,206.4 L314.4,205.3 L315.2,204.3 L316.0,203.1 L316.8,202.0 L317.6,200.9 L318.3,199.7 L319.0,198.6 L319.6,197.3 L320.1,196.1 L320.6,194.8 L321.1,193.5 L321.7,192.3 L322.3,191.1 L322.9,189.9 L323.5,188.7 M291.4,231.4 L292.5,230.6 L293.6,229.8 L294.7,229.0 L295.8,228.2 L296.9,227.4 L298.0,226.6 L299.0,225.8 L300.1,224.9 L301.2,224.1 L302.2,223.3 L303.2,222.4 L304.3,221.6 L305.3,220.7 L306.3,219.8 L307.3,218.9 L308.3,217.9 L309.3,217.0 L310.2,216.1 L311.2,215.1 L312.1,214.1 L313.1,213.1 L314.0,212.1 L314.9,211.1 L315.9,210.1 L316.7,209.0 L317.6,207.9 L318.5,206.9 L319.3,205.7 L320.1,204.6 L320.9,203.5 L321.6,202.3 L322.3,201.1 L322.9,199.9 L323.5,198.6 L323.9,197.3 L324.4,196.1 L325.0,194.8 L325.6,193.6 L326.2,192.4 L326.8,191.1 M294.8,234.7 L295.8,233.8 L296.9,233.0 L298.0,232.2 L299.1,231.3 L300.2,230.5 L301.3,229.7 L302.4,228.8 L303.4,228.0 L304.5,227.1 L305.5,226.2 L306.5,225.4 L307.5,224.5 L308.6,223.5 L309.5,222.6 L310.5,221.7 L311.5,220.7 L312.5,219.8 L313.5,218.8 L314.4,217.8 L315.4,216.8 L316.3,215.8 L317.3,214.8 L318.2,213.7 L319.1,212.7 L320.0,211.6 L320.9,210.5 L321.7,209.4 L322.6,208.3 L323.4,207.2 L324.2,206.1 L324.9,204.9 L325.6,203.7 L326.2,202.4 L326.8,201.2 L327.3,199.9 L327.8,198.6 L328.3,197.3 L328.9,196.1 L329.5,194.8 L330.1,193.6 M298.1,237.9 L299.2,237.0 L300.3,236.2 L301.4,235.3 L302.5,234.5 L303.5,233.6 L304.6,232.7 L305.7,231.9 L306.7,231.0 L307.8,230.1 L308.8,229.2 L309.8,228.3 L310.8,227.3 L311.8,226.4 L312.8,225.4 L313.8,224.5 L314.8,223.5 L315.8,222.5 L316.7,221.5 L317.7,220.5 L318.6,219.5 L319.6,218.4 L320.5,217.4 L321.4,216.3 L322.3,215.3 L323.2,214.2 L324.1,213.1 L325.0,212.0 L325.8,210.9 L326.7,209.8 L327.5,208.6 L328.2,207.4 L329.0,206.2 L329.6,205.0 L330.1,203.7 L330.6,202.4 L331.1,201.1 L331.7,199.8 L332.2,198.5 L332.8,197.3 L333.4,196.0 M301.6,241.0 L302.7,240.1 L303.8,239.2 L304.8,238.3 L305.9,237.5 L307.0,236.6 L308.1,235.7 L309.1,234.8 L310.2,233.9 L311.2,233.0 L312.2,232.0 L313.2,231.1 L314.2,230.1 L315.2,229.1 L316.2,228.1 L317.2,227.1 L318.1,226.1 L319.1,225.1 L320.1,224.1 L321.0,223.1 L322.0,222.0 L322.9,221.0 L323.8,219.9 L324.7,218.9 L325.7,217.8 L326.6,216.7 L327.5,215.6 L328.3,214.5 L329.2,213.4 L330.0,212.2 L330.8,211.1 L331.6,209.9 L332.3,208.7 L333.0,207.4 L333.5,206.1 L334.0,204.8 L334.5,203.5 L335.1,202.2 L335.6,200.9 L336.1,199.6 L336.7,198.3 M305.3,243.7 L306.4,242.8 L307.5,241.9 L308.6,241.0 L309.6,240.1 L310.7,239.2 L311.8,238.3 L312.8,237.4 L313.9,236.5 L314.9,235.5 L315.9,234.6 L316.9,233.6 L317.8,232.6 L318.8,231.6 L319.8,230.6 L320.7,229.6 L321.7,228.6 L322.6,227.5 L323.6,226.5 L324.5,225.5 L325.4,224.4 L326.4,223.3 L327.3,222.3 L328.2,221.2 L329.1,220.1 L330.0,219.0 L330.9,218.0 L331.8,216.8 L332.6,215.7 L333.5,214.6 L334.3,213.4 L335.1,212.3 L335.8,211.1 L336.4,209.8 L337.0,208.5 L337.4,207.2 L337.9,205.9 L338.5,204.6 L339.0,203.3 L339.5,202.0 L340.0,200.7 M309.4,245.9 L310.5,245.0 L311.6,244.1 L312.6,243.2 L313.7,242.3 L314.7,241.4 L315.8,240.5 L316.8,239.6 L317.8,238.6 L318.8,237.7 L319.8,236.7 L320.7,235.7 L321.7,234.7 L322.6,233.7 L323.6,232.7 L324.5,231.7 L325.4,230.7 L326.4,229.6 L327.3,228.6 L328.2,227.5 L329.1,226.5 L330.0,225.4 L330.9,224.4 L331.8,223.3 L332.7,222.3 L333.6,221.2 L334.5,220.1 L335.3,219.0 L336.2,217.9 L337.0,216.8 L337.8,215.7 L338.6,214.5 L339.3,213.3 L340.0,212.1 L340.5,210.8 L340.9,209.5 L341.4,208.2 L341.9,206.9 L342.4,205.6 L342.9,204.3 L343.4,203.0 M313.7,247.7 L314.7,246.8 L315.8,246.0 L316.8,245.1 L317.8,244.2 L318.9,243.3 L319.9,242.4 L320.9,241.4 L321.9,240.5 L322.8,239.6 L323.8,238.6 L324.7,237.6 L325.7,236.6 L326.6,235.6 L327.5,234.6 L328.4,233.6 L329.3,232.5 L330.2,231.5 L331.1,230.5 L332.0,229.5 L332.9,228.4 L333.7,227.4 L334.6,226.3 L335.5,225.3 L336.4,224.2 L337.2,223.2 L338.1,222.1 L339.0,221.0 L339.8,220.0 L340.6,218.9 L341.4,217.8 L342.2,216.6 L342.9,215.5 L343.5,214.3 L344.0,213.0 L344.5,211.7 L344.9,210.4 L345.4,209.1 L345.9,207.8 L346.3,206.6 L346.8,205.3" stroke-width="0.6"/>
</g>
<path d="M244.6,186.3 L251.7,183.7 L258.6,181.6 L265.5,178.2 L271.0,173.4 L274.4,167.9 L276.5,163.0 L279.4,159.4" clip-path="url(#sce)" fill="none" stroke="#200000" stroke-width="4" stroke-opacity="0.3" stroke-linecap="round" stroke-linejoin="round" filter="url(#blur)"/>
<path d="M244.60,186.30 C245.78,185.87 249.37,184.48 251.70,183.70 C254.03,182.92 256.30,182.52 258.60,181.60 C260.90,180.68 263.43,179.57 265.50,178.20 C267.57,176.83 269.52,175.12 271.00,173.40 C272.48,171.68 273.48,169.63 274.40,167.90 C275.32,166.17 275.67,164.42 276.50,163.00 C277.33,161.58 278.92,160.00 279.40,159.40 C281.65,160.63 288.42,164.08 292.90,166.80 C297.38,169.52 301.83,172.53 306.30,175.70 C310.77,178.87 315.23,182.45 319.70,185.80 C324.17,189.15 329.00,192.83 333.10,195.80 C337.20,198.77 341.45,201.65 344.30,203.60 C347.15,205.55 349.22,206.85 350.20,207.50 C349.92,208.33 349.25,210.60 348.50,212.50 C347.75,214.40 347.77,215.83 345.70,218.90 C343.63,221.97 339.30,227.08 336.10,230.90 C332.90,234.72 329.52,238.70 326.50,241.80 C323.48,244.90 319.42,248.22 318.00,249.50 C315.73,248.43 308.82,246.10 304.40,243.10 C299.98,240.10 296.22,236.00 291.50,231.50 C286.78,227.00 281.25,221.25 276.10,216.10 C270.95,210.95 265.85,205.57 260.60,200.60 C255.35,195.63 247.27,188.68 244.60,186.30 Z" fill="none" stroke="#300000" stroke-width="0.6"/>
</g>
<text x="201.0" y="161.3" font-family='"Liberation Serif", serif' font-weight="bold" font-size="11" fill="#000" stroke="#000" stroke-width="0.35">e</text>
<text x="210.8" y="182.3" font-family='"Liberation Serif", serif' font-weight="bold" font-size="8.8" textLength="21.6" lengthAdjust="spacingAndGlyphs" fill="#111" stroke="#111" stroke-width="0.22">MRR</text>
<text x="225.2" y="191.1" font-family='"Liberation Sans", sans-serif' font-weight="bold" font-size="7.2" text-anchor="middle" fill="#111" stroke="#111" stroke-width="0.12">0.06</text>
<text x="225.5" y="211.3" font-family='"Liberation Sans", sans-serif' font-weight="bold" font-size="7.2" text-anchor="middle" fill="#111" stroke="#111" stroke-width="0.12">0.04</text>
<text x="225.5" y="230.8" font-family='"Liberation Sans", sans-serif' font-weight="bold" font-size="7.2" text-anchor="middle" fill="#111" stroke="#111" stroke-width="0.12">0.02</text>
<text x="237.4" y="249.5" font-family='"Liberation Sans", sans-serif' font-weight="bold" font-size="7.0" text-anchor="middle" fill="#111" stroke="#111" stroke-width="0.12">0.8</text>
<text x="271.8" y="257.3" font-family='"Liberation Sans", sans-serif' font-weight="bold" font-size="7.0" text-anchor="middle" fill="#111" stroke="#111" stroke-width="0.12">0.6</text>
<text x="306.6" y="264.1" font-family='"Liberation Sans", sans-serif' font-weight="bold" font-size="7.0" text-anchor="middle" fill="#111" stroke="#111" stroke-width="0.12">0.4</text>
<text x="330.6" y="259.7" font-family='"Liberation Sans", sans-serif' font-weight="bold" font-size="7.0" text-anchor="middle" fill="#111" stroke="#111" stroke-width="0.12">20</text>
<text x="342.5" y="248.8" font-family='"Liberation Sans", sans-serif' font-weight="bold" font-size="7.0" text-anchor="middle" fill="#111" stroke="#111" stroke-width="0.12">40</text>
<text x="354.0" y="237.8" font-family='"Liberation Sans", sans-serif' font-weight="bold" font-size="7.0" text-anchor="middle" fill="#111" stroke="#111" stroke-width="0.12">60</text>
<text x="365.9" y="226.9" font-family='"Liberation Sans", sans-serif' font-weight="bold" font-size="7.0" text-anchor="middle" fill="#111" stroke="#111" stroke-width="0.12">80</text>
<text x="252.3" y="270.7" font-family='"Liberation Serif", serif' font-weight="bold" font-size="9.2" textLength="44.2" lengthAdjust="spacingAndGlyphs" fill="#111" stroke="#111" stroke-width="0.22">FLUSHING</text>
<text x="252.3" y="281.6" font-family='"Liberation Serif", serif' font-weight="bold" font-size="9.2" textLength="44.7" lengthAdjust="spacingAndGlyphs" fill="#111" stroke="#111" stroke-width="0.22">PRESSURE</text>
<text x="351.5" y="250.3" font-family='"Liberation Serif", serif' font-weight="bold" font-size="9.2" textLength="23.5" lengthAdjust="spacingAndGlyphs" fill="#111" stroke="#111" stroke-width="0.22">DUTY</text>
<text x="349.8" y="261.6" font-family='"Liberation Serif", serif' font-weight="bold" font-size="9.2" textLength="34.6" lengthAdjust="spacingAndGlyphs" fill="#111" stroke="#111" stroke-width="0.22">FACTOR</text>
<rect x="403" y="145" width="198" height="145" fill="#000"/>
<rect x="405" y="147" width="194" height="141" fill="#fff"/>
<rect x="406" y="148" width="192" height="139" fill="#e9e9e9"/>
<g clip-path="url(#cpf)">
<polygon points="440.0,188.5 488.3,151.6 566.6,172.6 566.6,232.0 518.2,269.3 440.0,248.0" fill="#fcec40"/>
<polyline points="440.0,188.5 488.3,151.6 566.6,172.6 566.6,232.0" stroke="#555" stroke-width="1.1" stroke-dasharray="3.5 2.5" fill="none"/>
<polyline points="440.0,248.0 488.3,211.0 566.6,232.0" stroke="#555" stroke-width="1.1" stroke-dasharray="3.5 2.5" fill="none"/>
<line x1="488.3" y1="151.6" x2="488.3" y2="211.0" stroke="#666" stroke-width="0.8" fill="none"/>
<polyline points="440.0,188.5 440.0,248.0" stroke="#9a9a70" stroke-width="0.6" fill="none"/>
<polyline points="440.0,248.0 518.2,269.3 566.6,232.0" stroke="#5a5a40" stroke-width="0.8" fill="none"/>
<path d="M446.70,215.60 C446.98,215.17 447.53,214.58 448.40,213.00 C449.27,211.42 450.75,208.40 451.90,206.10 C453.05,203.80 454.15,201.48 455.30,199.20 C456.45,196.92 457.80,194.40 458.80,192.40 C459.80,190.40 460.45,188.78 461.30,187.20 C462.15,185.62 462.88,184.18 463.90,182.90 C464.92,181.62 465.82,180.57 467.40,179.50 C468.98,178.43 471.40,176.65 473.40,176.50 C475.40,176.35 476.97,177.82 479.40,178.60 C481.83,179.38 485.13,180.48 488.00,181.20 C490.87,181.92 493.73,182.53 496.60,182.90 C499.47,183.27 502.13,183.25 505.20,183.40 C508.27,183.55 512.05,183.35 515.00,183.80 C517.95,184.25 520.03,184.78 522.90,186.10 C525.77,187.42 529.10,189.48 532.20,191.70 C535.30,193.92 538.67,196.82 541.50,199.40 C544.33,201.98 546.88,204.87 549.20,207.20 C551.52,209.53 553.58,211.75 555.40,213.40 C557.22,215.05 559.32,216.48 560.10,217.10 C559.07,217.93 556.23,220.65 553.90,222.10 C551.57,223.55 548.42,224.23 546.10,225.80 C543.78,227.37 541.85,230.12 540.00,231.50 C538.15,232.88 536.68,232.95 535.00,234.10 C533.32,235.25 531.62,236.83 529.90,238.40 C528.18,239.97 526.43,241.78 524.70,243.50 C522.97,245.22 521.08,247.12 519.50,248.70 C517.92,250.28 515.92,252.28 515.20,253.00 C514.48,252.28 512.47,250.42 510.90,248.70 C509.33,246.98 507.52,244.57 505.80,242.70 C504.08,240.83 502.32,239.23 500.60,237.50 C498.88,235.77 496.83,233.45 495.50,232.30 C494.17,231.15 494.12,231.53 492.60,230.60 C491.08,229.67 488.47,227.87 486.40,226.70 C484.33,225.53 482.27,224.63 480.20,223.60 C478.13,222.57 475.80,221.40 474.00,220.50 C472.20,219.60 471.20,218.85 469.40,218.20 C467.60,217.55 465.52,216.92 463.20,216.60 C460.88,216.28 458.25,216.47 455.50,216.30 C452.75,216.13 448.17,215.72 446.70,215.60 Z" fill="#bc1616"/>
<g clip-path="url(#scf)" fill="none" stroke="#560808">
<path d="M448.2,213.3 L450.2,213.5 L452.2,213.7 L454.3,213.9 L456.3,214.1 L458.3,214.2 L460.3,214.3 L462.4,214.3 L464.4,214.5 L466.4,214.9 L468.4,215.4 L470.3,216.0 L472.2,216.8 L474.0,217.8 L475.7,218.8 L477.6,219.7 L479.4,220.6 L481.2,221.6 L483.0,222.5 L484.8,223.4 L486.6,224.3 L488.4,225.3 L490.1,226.4 L491.8,227.6 L493.5,228.7 L495.3,229.7 L497.0,230.8 L498.4,232.3 L499.8,233.7 L501.2,235.2 L502.6,236.7 L504.1,238.1 L505.5,239.6 L507.0,241.1 L508.3,242.6 L509.6,244.2 L510.9,245.7 L512.2,247.3 L513.7,248.8 L515.1,250.2 L516.6,251.6 M449.5,210.9 L451.5,211.2 L453.5,211.4 L455.5,211.6 L457.6,211.8 L459.6,211.9 L461.6,212.0 L463.6,212.1 L465.7,212.4 L467.7,212.7 L469.6,213.3 L471.6,214.0 L473.4,214.8 L475.2,215.8 L477.0,216.8 L478.8,217.7 L480.7,218.7 L482.5,219.7 L484.3,220.6 L486.1,221.6 L487.9,222.5 L489.7,223.6 L491.4,224.7 L493.1,225.8 L494.8,227.0 L496.6,228.0 L498.2,229.2 L499.7,230.7 L501.1,232.2 L502.5,233.7 L503.9,235.2 L505.4,236.6 L506.8,238.1 L508.3,239.6 L509.6,241.1 L510.9,242.7 L512.2,244.3 L513.6,245.9 L515.0,247.4 L516.5,248.8 L517.9,250.3 M450.7,208.5 L452.7,208.8 L454.7,209.0 L456.8,209.2 L458.8,209.5 L460.8,209.6 L462.9,209.8 L464.9,209.9 L466.9,210.2 L468.9,210.6 L470.9,211.2 L472.8,211.9 L474.7,212.7 L476.5,213.7 L478.3,214.8 L480.1,215.7 L481.9,216.7 L483.7,217.7 L485.5,218.7 L487.4,219.7 L489.2,220.7 L490.9,221.8 L492.6,222.9 L494.3,224.1 L496.0,225.3 L497.8,226.4 L499.5,227.6 L500.9,229.1 L502.4,230.6 L503.8,232.1 L505.2,233.6 L506.7,235.1 L508.1,236.6 L509.5,238.1 L510.9,239.7 L512.2,241.3 L513.6,242.9 L514.9,244.5 L516.3,246.0 L517.8,247.4 L519.3,248.9 M451.9,206.1 L453.9,206.4 L456.0,206.6 L458.0,206.9 L460.0,207.1 L462.1,207.3 L464.1,207.5 L466.1,207.7 L468.1,208.0 L470.1,208.4 L472.1,209.1 L474.1,209.8 L475.9,210.7 L477.7,211.7 L479.5,212.7 L481.4,213.8 L483.2,214.8 L485.0,215.8 L486.8,216.8 L488.6,217.8 L490.4,218.9 L492.2,220.0 L493.9,221.2 L495.6,222.4 L497.3,223.6 L499.0,224.7 L500.7,225.9 L502.2,227.4 L503.6,229.0 L505.0,230.5 L506.5,232.1 L507.9,233.6 L509.4,235.1 L510.8,236.6 L512.2,238.2 L513.5,239.8 L514.9,241.5 L516.3,243.0 L517.7,244.6 L519.2,246.1 L520.7,247.5 M453.1,203.7 L455.1,203.9 L457.2,204.2 L459.2,204.5 L461.2,204.8 L463.3,205.0 L465.3,205.2 L467.3,205.5 L469.4,205.8 L471.4,206.3 L473.3,206.9 L475.3,207.7 L477.2,208.6 L479.0,209.7 L480.8,210.7 L482.6,211.8 L484.4,212.8 L486.2,213.9 L488.0,214.9 L489.8,216.0 L491.6,217.1 L493.4,218.2 L495.1,219.4 L496.8,220.7 L498.5,221.9 L500.3,223.0 L502.0,224.3 L503.4,225.8 L504.9,227.4 L506.3,229.0 L507.7,230.5 L509.2,232.0 L510.7,233.6 L512.1,235.1 L513.5,236.7 L514.9,238.4 L516.2,240.0 L517.6,241.6 L519.0,243.2 L520.5,244.7 L522.0,246.2 M454.3,201.2 L456.3,201.5 L458.4,201.8 L460.4,202.2 L462.4,202.5 L464.5,202.7 L466.5,203.0 L468.6,203.2 L470.6,203.6 L472.6,204.1 L474.6,204.8 L476.5,205.6 L478.4,206.5 L480.2,207.6 L482.0,208.7 L483.8,209.8 L485.7,210.9 L487.5,212.0 L489.3,213.1 L491.1,214.1 L492.9,215.2 L494.6,216.4 L496.4,217.7 L498.1,218.9 L499.8,220.2 L501.5,221.4 L503.2,222.7 L504.7,224.2 L506.1,225.8 L507.6,227.4 L509.0,229.0 L510.5,230.5 L512.0,232.1 L513.4,233.6 L514.8,235.3 L516.2,236.9 L517.5,238.6 L518.9,240.2 L520.4,241.8 L521.9,243.3 L523.4,244.8 M455.5,198.8 L457.6,199.1 L459.6,199.5 L461.6,199.8 L463.7,200.1 L465.7,200.4 L467.8,200.7 L469.8,201.0 L471.8,201.4 L473.8,202.0 L475.8,202.7 L477.7,203.5 L479.6,204.5 L481.5,205.6 L483.3,206.7 L485.1,207.8 L486.9,208.9 L488.7,210.1 L490.5,211.2 L492.3,212.3 L494.1,213.4 L495.9,214.6 L497.6,215.9 L499.3,217.2 L501.0,218.5 L502.8,219.7 L504.4,221.0 L505.9,222.6 L507.4,224.2 L508.8,225.8 L510.3,227.4 L511.8,229.0 L513.2,230.6 L514.7,232.2 L516.1,233.8 L517.5,235.5 L518.8,237.2 L520.3,238.8 L521.7,240.4 L523.2,241.9 L524.8,243.4 M456.8,196.4 L458.8,196.7 L460.8,197.1 L462.9,197.5 L464.9,197.8 L467.0,198.1 L469.0,198.5 L471.1,198.8 L473.1,199.2 L475.1,199.8 L477.1,200.6 L479.0,201.4 L480.9,202.4 L482.7,203.6 L484.5,204.7 L486.4,205.8 L488.2,207.0 L490.0,208.1 L491.8,209.3 L493.6,210.4 L495.4,211.6 L497.2,212.9 L498.9,214.2 L500.6,215.5 L502.3,216.8 L504.0,218.1 L505.7,219.4 L507.2,221.0 L508.6,222.6 L510.1,224.3 L511.6,225.9 L513.0,227.5 L514.5,229.1 L516.0,230.7 L517.4,232.4 L518.8,234.0 L520.2,235.7 L521.6,237.4 L523.1,239.0 L524.6,240.5 L526.1,242.1 M458.0,194.0 L460.1,194.4 L462.1,194.7 L464.1,195.1 L466.2,195.5 L468.2,195.9 L470.3,196.2 L472.3,196.6 L474.4,197.1 L476.4,197.7 L478.3,198.5 L480.3,199.4 L482.2,200.4 L484.0,201.5 L485.8,202.7 L487.6,203.9 L489.5,205.1 L491.3,206.2 L493.1,207.4 L494.9,208.6 L496.7,209.8 L498.4,211.1 L500.1,212.4 L501.8,213.8 L503.5,215.1 L505.3,216.4 L507.0,217.8 L508.5,219.4 L509.9,221.0 L511.4,222.7 L512.8,224.3 L514.3,226.0 L515.8,227.6 L517.3,229.2 L518.7,230.9 L520.1,232.6 L521.5,234.3 L522.9,236.0 L524.4,237.6 L526.0,239.1 L527.5,240.7 M459.2,191.5 L461.3,192.0 L463.3,192.4 L465.4,192.8 L467.4,193.2 L469.5,193.6 L471.5,193.9 L473.6,194.4 L475.6,194.9 L477.6,195.5 L479.6,196.4 L481.5,197.3 L483.4,198.3 L485.3,199.5 L487.1,200.7 L488.9,201.9 L490.7,203.1 L492.5,204.3 L494.3,205.5 L496.1,206.8 L497.9,208.0 L499.7,209.3 L501.4,210.7 L503.1,212.0 L504.8,213.4 L506.5,214.8 L508.2,216.2 L509.7,217.8 L511.2,219.5 L512.6,221.1 L514.1,222.8 L515.6,224.4 L517.1,226.1 L518.6,227.7 L520.0,229.4 L521.4,231.2 L522.8,232.9 L524.3,234.6 L525.8,236.2 L527.3,237.8 L528.9,239.3 M460.4,189.1 L462.4,189.5 L464.5,190.0 L466.5,190.4 L468.6,190.8 L470.6,191.2 L472.7,191.7 L474.8,192.1 L476.8,192.7 L478.8,193.4 L480.8,194.2 L482.7,195.2 L484.6,196.2 L486.5,197.5 L488.3,198.7 L490.1,199.9 L492.0,201.2 L493.8,202.4 L495.6,203.7 L497.4,204.9 L499.2,206.2 L500.9,207.5 L502.7,208.9 L504.4,210.3 L506.1,211.8 L507.8,213.1 L509.5,214.6 L511.0,216.2 L512.5,217.9 L513.9,219.6 L515.4,221.3 L516.9,222.9 L518.4,224.6 L519.9,226.3 L521.4,228.0 L522.8,229.8 L524.2,231.5 L525.6,233.2 L527.2,234.8 L528.7,236.4 L530.3,238.0 M461.6,186.6 L463.7,187.1 L465.7,187.6 L467.8,188.0 L469.8,188.5 L471.9,189.0 L474.0,189.4 L476.0,189.9 L478.0,190.5 L480.1,191.2 L482.1,192.1 L484.0,193.1 L485.9,194.2 L487.7,195.5 L489.6,196.7 L491.4,198.0 L493.2,199.2 L495.1,200.5 L496.9,201.8 L498.7,203.1 L500.5,204.4 L502.2,205.8 L503.9,207.2 L505.6,208.7 L507.3,210.1 L509.1,211.5 L510.8,213.0 L512.3,214.7 L513.8,216.4 L515.2,218.1 L516.7,219.8 L518.3,221.5 L519.8,223.2 L521.3,224.9 L522.7,226.6 L524.1,228.4 L525.6,230.1 L527.0,231.9 L528.6,233.5 L530.2,235.1 L531.7,236.7 M462.9,184.3 L465.0,184.8 L467.1,185.3 L469.1,185.8 L471.2,186.3 L473.2,186.7 L475.3,187.2 L477.4,187.8 L479.4,188.4 L481.4,189.2 L483.4,190.1 L485.4,191.1 L487.3,192.2 L489.1,193.5 L490.9,194.8 L492.8,196.1 L494.6,197.4 L496.4,198.7 L498.2,200.0 L500.0,201.3 L501.8,202.7 L503.6,204.1 L505.3,205.5 L507.0,207.0 L508.7,208.5 L510.4,209.9 L512.1,211.4 L513.6,213.1 L515.1,214.9 L516.6,216.6 L518.1,218.3 L519.6,220.0 L521.2,221.8 L522.6,223.5 L524.1,225.2 L525.5,227.0 L527.0,228.8 L528.5,230.5 L530.0,232.2 L531.6,233.8 L533.2,235.5 M464.5,182.1 L466.6,182.6 L468.7,183.1 L470.7,183.7 L472.8,184.2 L474.8,184.7 L476.9,185.2 L479.0,185.8 L481.0,186.4 L483.0,187.2 L485.0,188.2 L486.9,189.2 L488.8,190.4 L490.7,191.7 L492.5,193.0 L494.3,194.3 L496.2,195.6 L498.0,197.0 L499.8,198.3 L501.6,199.7 L503.4,201.1 L505.1,202.5 L506.8,204.0 L508.5,205.5 L510.2,207.0 L511.9,208.5 L513.6,210.0 L515.1,211.7 L516.6,213.5 L518.1,215.3 L519.6,217.0 L521.1,218.7 L522.6,220.5 L524.1,222.2 L525.6,224.0 L527.1,225.8 L528.5,227.6 L530.0,229.3 L531.5,231.0 L533.1,232.7 L534.7,234.3 M466.5,180.2 L468.5,180.7 L470.6,181.3 L472.6,181.8 L474.7,182.3 L476.7,182.9 L478.8,183.4 L480.8,184.0 L482.9,184.7 L484.9,185.6 L486.8,186.6 L488.8,187.6 L490.7,188.8 L492.5,190.1 L494.3,191.5 L496.2,192.8 L498.0,194.2 L499.8,195.5 L501.6,196.9 L503.3,198.3 L505.1,199.7 L506.8,201.2 L508.6,202.7 L510.2,204.2 L511.9,205.8 L513.6,207.3 L515.3,208.8 L516.8,210.6 L518.3,212.3 L519.8,214.1 L521.3,215.9 L522.8,217.6 L524.3,219.4 L525.8,221.1 L527.3,222.9 L528.7,224.8 L530.2,226.6 L531.7,228.3 L533.2,230.0 L534.8,231.7 L536.4,233.3 M468.7,178.6 L470.7,179.2 L472.8,179.8 L474.8,180.3 L476.9,180.9 L478.9,181.4 L480.9,182.0 L483.0,182.6 L485.0,183.4 L487.0,184.2 L488.9,185.2 L490.9,186.3 L492.7,187.6 L494.6,188.9 L496.4,190.2 L498.2,191.6 L500.0,193.0 L501.8,194.4 L503.5,195.8 L505.3,197.2 L507.1,198.6 L508.8,200.1 L510.5,201.7 L512.2,203.2 L513.8,204.8 L515.5,206.3 L517.2,207.9 L518.7,209.6 L520.2,211.4 L521.6,213.2 L523.1,215.0 L524.6,216.8 L526.1,218.5 L527.6,220.3 L529.1,222.1 L530.5,223.9 L532.0,225.8 L533.4,227.5 L535.0,229.2 L536.6,230.9 L538.2,232.6 M471.0,177.2 L473.0,177.8 L475.1,178.4 L477.1,178.9 L479.1,179.5 L481.1,180.1 L483.2,180.7 L485.2,181.3 L487.2,182.1 L489.1,183.0 L491.1,184.0 L493.0,185.1 L494.9,186.3 L496.7,187.7 L498.5,189.1 L500.3,190.4 L502.0,191.8 L503.8,193.2 L505.6,194.6 L507.3,196.1 L509.0,197.5 L510.7,199.0 L512.4,200.6 L514.1,202.2 L515.7,203.7 L517.4,205.3 L519.0,206.9 L520.5,208.6 L522.0,210.4 L523.4,212.2 L524.9,214.0 L526.4,215.8 L527.9,217.6 L529.3,219.3 L530.8,221.2 L532.2,223.0 L533.7,224.8 L535.1,226.6 L536.7,228.3 L538.3,229.9 L539.9,231.6 M473.6,176.5 L475.6,177.1 L477.6,177.6 L479.6,178.2 L481.6,178.7 L483.6,179.3 L485.6,179.9 L487.6,180.5 L489.5,181.3 L491.5,182.2 L493.4,183.2 L495.3,184.3 L497.1,185.5 L498.9,186.8 L500.6,188.2 L502.4,189.5 L504.1,190.9 L505.9,192.3 L507.6,193.7 L509.3,195.2 L511.0,196.6 L512.7,198.1 L514.3,199.6 L515.9,201.2 L517.6,202.8 L519.2,204.3 L520.8,205.9 L522.2,207.7 L523.7,209.4 L525.1,211.2 L526.6,213.0 L528.0,214.7 L529.5,216.5 L531.0,218.2 L532.4,220.0 L533.8,221.8 L535.2,223.6 L536.7,225.4 L538.2,227.1 L539.8,228.7 L541.3,230.3 M476.2,177.2 L478.2,177.7 L480.1,178.2 L482.1,178.7 L484.1,179.2 L486.0,179.7 L488.0,180.3 L489.9,180.9 L491.9,181.6 L493.8,182.4 L495.7,183.4 L497.5,184.4 L499.3,185.6 L501.1,186.9 L502.8,188.2 L504.5,189.5 L506.2,190.8 L507.9,192.2 L509.6,193.5 L511.3,194.9 L512.9,196.3 L514.6,197.8 L516.2,199.3 L517.8,200.8 L519.3,202.3 L520.9,203.8 L522.5,205.4 L523.9,207.0 L525.4,208.8 L526.8,210.5 L528.2,212.2 L529.6,213.9 L531.0,215.6 L532.5,217.3 L533.9,219.0 L535.2,220.8 L536.6,222.5 L538.1,224.2 L539.6,225.8 L541.1,227.4 L542.7,228.9 M478.7,178.3 L480.6,178.8 L482.5,179.2 L484.5,179.6 L486.4,180.1 L488.3,180.5 L490.3,181.0 L492.2,181.6 L494.1,182.2 L496.0,183.0 L497.8,183.9 L499.6,184.9 L501.4,186.0 L503.1,187.3 L504.8,188.5 L506.5,189.7 L508.2,191.0 L509.9,192.3 L511.5,193.6 L513.2,194.9 L514.8,196.3 L516.4,197.7 L518.0,199.1 L519.5,200.6 L521.1,202.0 L522.6,203.5 L524.2,205.0 L525.6,206.6 L527.0,208.2 L528.4,209.9 L529.7,211.5 L531.2,213.2 L532.6,214.8 L534.0,216.4 L535.3,218.1 L536.7,219.7 L538.1,221.4 L539.5,223.0 L541.0,224.6 L542.5,226.1 L544.0,227.6 M481.2,179.2 L483.1,179.6 L485.1,180.0 L487.0,180.3 L488.9,180.7 L490.8,181.1 L492.7,181.6 L494.6,182.1 L496.4,182.7 L498.3,183.4 L500.1,184.3 L501.9,185.3 L503.6,186.3 L505.3,187.5 L507.0,188.7 L508.7,189.9 L510.3,191.1 L512.0,192.3 L513.6,193.6 L515.2,194.9 L516.8,196.2 L518.3,197.5 L519.9,198.9 L521.4,200.3 L522.9,201.7 L524.5,203.1 L525.9,204.5 L527.3,206.1 L528.7,207.7 L530.1,209.3 L531.4,210.9 L532.8,212.4 L534.2,214.0 L535.6,215.6 L536.9,217.2 L538.3,218.8 L539.6,220.4 L541.0,221.9 L542.5,223.4 L544.0,224.8 L545.5,226.3 M483.8,180.0 L485.7,180.4 L487.6,180.7 L489.5,181.0 L491.4,181.3 L493.2,181.7 L495.1,182.1 L497.0,182.6 L498.8,183.2 L500.7,183.9 L502.4,184.7 L504.2,185.6 L505.9,186.6 L507.6,187.7 L509.2,188.9 L510.9,190.0 L512.5,191.2 L514.1,192.4 L515.7,193.6 L517.3,194.9 L518.8,196.1 L520.4,197.4 L521.9,198.8 L523.4,200.1 L524.9,201.5 L526.4,202.8 L527.8,204.3 L529.2,205.8 L530.5,207.3 L531.9,208.8 L533.2,210.4 L534.6,211.9 L535.9,213.4 L537.3,214.9 L538.6,216.5 L539.9,218.0 L541.3,219.5 L542.7,221.0 L544.1,222.5 L545.6,223.8 L547.1,225.2 M486.4,180.8 L488.3,181.1 L490.2,181.4 L492.0,181.6 L493.9,181.9 L495.7,182.3 L497.6,182.7 L499.4,183.1 L501.3,183.7 L503.1,184.3 L504.8,185.1 L506.6,186.0 L508.2,187.0 L509.9,188.0 L511.5,189.1 L513.1,190.2 L514.7,191.4 L516.3,192.5 L517.9,193.7 L519.4,194.9 L521.0,196.2 L522.5,197.4 L524.0,198.7 L525.4,200.1 L526.9,201.4 L528.4,202.7 L529.8,204.1 L531.2,205.6 L532.5,207.0 L533.8,208.5 L535.1,210.0 L536.5,211.5 L537.8,213.0 L539.1,214.4 L540.4,215.9 L541.8,217.4 L543.1,218.9 L544.5,220.4 L545.9,221.7 L547.4,223.1 L548.8,224.4 M489.1,181.5 L490.9,181.7 L492.7,182.0 L494.6,182.2 L496.4,182.5 L498.3,182.8 L500.1,183.1 L501.9,183.6 L503.7,184.1 L505.5,184.7 L507.2,185.5 L508.9,186.3 L510.6,187.3 L512.2,188.3 L513.8,189.4 L515.4,190.4 L517.0,191.6 L518.6,192.7 L520.1,193.8 L521.6,195.0 L523.1,196.2 L524.6,197.5 L526.1,198.7 L527.5,200.0 L529.0,201.3 L530.4,202.6 L531.8,204.0 L533.1,205.4 L534.5,206.8 L535.8,208.3 L537.1,209.7 L538.4,211.2 L539.7,212.6 L541.0,214.0 L542.3,215.5 L543.6,216.9 L544.9,218.4 L546.3,219.8 L547.7,221.1 L549.2,222.4 L550.6,223.7 M491.7,182.1 L493.5,182.3 L495.3,182.5 L497.2,182.7 L499.0,182.9 L500.8,183.2 L502.6,183.5 L504.4,183.9 L506.2,184.4 L507.9,185.0 L509.6,185.8 L511.3,186.6 L513.0,187.5 L514.6,188.5 L516.2,189.5 L517.7,190.6 L519.3,191.7 L520.8,192.8 L522.3,193.9 L523.8,195.0 L525.3,196.2 L526.8,197.4 L528.2,198.7 L529.6,199.9 L531.0,201.2 L532.5,202.5 L533.8,203.8 L535.1,205.2 L536.4,206.6 L537.7,208.0 L539.0,209.4 L540.3,210.8 L541.6,212.2 L542.9,213.6 L544.2,215.0 L545.5,216.4 L546.8,217.8 L548.1,219.1 L549.5,220.4 L551.0,221.7 L552.4,222.9 M494.4,182.6 L496.2,182.8 L498.0,182.9 L499.8,183.1 L501.5,183.3 L503.3,183.5 L505.1,183.8 L506.9,184.2 L508.6,184.7 L510.4,185.3 L512.1,186.0 L513.7,186.8 L515.3,187.6 L516.9,188.6 L518.5,189.6 L520.0,190.6 L521.5,191.7 L523.1,192.7 L524.5,193.8 L526.0,194.9 L527.5,196.1 L528.9,197.3 L530.3,198.5 L531.7,199.7 L533.1,201.0 L534.5,202.2 L535.8,203.5 L537.1,204.8 L538.4,206.2 L539.6,207.5 L540.9,208.9 L542.2,210.3 L543.4,211.6 L544.7,213.0 L546.0,214.3 L547.2,215.7 L548.5,217.1 L549.9,218.4 L551.2,219.6 L552.7,220.8 L554.1,222.0 M497.1,183.0 L498.8,183.1 L500.6,183.2 L502.4,183.4 L504.1,183.5 L505.9,183.7 L507.6,184.0 L509.4,184.4 L511.1,184.8 L512.8,185.4 L514.5,186.0 L516.1,186.8 L517.7,187.6 L519.2,188.5 L520.8,189.5 L522.3,190.5 L523.8,191.5 L525.2,192.5 L526.7,193.6 L528.1,194.7 L529.6,195.8 L530.9,197.0 L532.3,198.1 L533.7,199.3 L535.0,200.5 L536.4,201.7 L537.7,203.0 L539.0,204.3 L540.2,205.6 L541.4,206.9 L542.7,208.3 L543.9,209.6 L545.2,210.9 L546.4,212.2 L547.7,213.5 L548.9,214.8 L550.2,216.1 L551.5,217.4 L552.9,218.6 L554.3,219.7 L555.7,220.9 M499.8,183.2 L501.5,183.3 L503.2,183.4 L505.0,183.5 L506.7,183.6 L508.4,183.8 L510.2,184.0 L511.9,184.3 L513.6,184.8 L515.2,185.3 L516.8,185.9 L518.4,186.7 L520.0,187.5 L521.5,188.3 L523.0,189.3 L524.5,190.2 L526.0,191.2 L527.4,192.2 L528.8,193.2 L530.2,194.3 L531.6,195.4 L533.0,196.5 L534.3,197.7 L535.6,198.8 L537.0,200.0 L538.3,201.2 L539.5,202.4 L540.8,203.6 L542.0,204.9 L543.2,206.2 L544.4,207.5 L545.6,208.8 L546.9,210.0 L548.1,211.3 L549.3,212.6 L550.5,213.8 L551.8,215.1 L553.1,216.3 L554.4,217.4 L555.8,218.5 L557.2,219.6 M502.5,183.3 L504.2,183.4 L505.9,183.4 L507.6,183.5 L509.3,183.6 L511.0,183.7 L512.7,183.9 L514.3,184.2 L516.0,184.6 L517.6,185.1 L519.2,185.7 L520.8,186.4 L522.3,187.2 L523.8,188.1 L525.3,188.9 L526.7,189.9 L528.2,190.8 L529.6,191.8 L531.0,192.8 L532.3,193.8 L533.7,194.9 L535.0,196.0 L536.3,197.1 L537.6,198.2 L538.9,199.4 L540.1,200.5 L541.4,201.7 L542.6,202.9 L543.8,204.2 L545.0,205.4 L546.1,206.7 L547.3,207.9 L548.5,209.1 L549.7,210.4 L550.9,211.6 L552.1,212.8 L553.3,214.0 L554.6,215.2 L555.9,216.3 L557.3,217.3 L558.6,218.4" stroke-width="0.5"/>
<path d="M449.4,215.8 L450.6,214.2 L451.5,212.4 L452.5,210.6 L453.4,208.8 L454.3,207.0 L455.2,205.2 L456.1,203.4 L457.0,201.6 L457.9,199.8 L458.9,198.1 L459.8,196.3 L460.7,194.5 L461.7,192.7 L462.5,190.9 L463.4,189.1 L464.3,187.3 L465.3,185.5 L466.4,183.8 L467.7,182.3 L469.2,180.9 L470.8,179.8 L472.5,178.7 L474.3,177.7 L476.3,177.3 L478.2,177.6 L480.0,178.4 L481.9,179.1 L483.8,179.7 L485.7,180.3 L487.6,180.8 L489.6,181.4 L491.5,181.8 L493.5,182.2 L495.4,182.6 L497.4,182.9 L499.4,183.2 L501.4,183.3 L503.4,183.4 L505.4,183.4 L507.4,183.5 M452.1,216.1 L453.2,214.4 L454.2,212.7 L455.2,210.9 L456.1,209.2 L457.0,207.4 L457.9,205.6 L458.8,203.8 L459.7,202.1 L460.6,200.3 L461.6,198.5 L462.5,196.8 L463.5,195.0 L464.4,193.2 L465.3,191.4 L466.1,189.7 L467.1,187.9 L468.1,186.2 L469.2,184.5 L470.5,183.0 L471.9,181.6 L473.6,180.5 L475.3,179.4 L477.0,178.5 L478.9,178.0 L480.8,178.3 L482.6,179.0 L484.4,179.7 L486.3,180.2 L488.2,180.7 L490.1,181.2 L492.0,181.7 L494.0,182.1 L495.9,182.5 L497.9,182.9 L499.8,183.1 L501.8,183.3 L503.7,183.4 L505.7,183.5 L507.7,183.5 L509.6,183.5 M454.8,216.3 L455.9,214.6 L456.9,212.9 L457.9,211.2 L458.8,209.5 L459.7,207.7 L460.6,206.0 L461.5,204.2 L462.4,202.5 L463.4,200.7 L464.3,199.0 L465.2,197.2 L466.2,195.5 L467.1,193.8 L468.0,192.0 L468.9,190.2 L469.8,188.5 L470.8,186.8 L471.9,185.2 L473.2,183.7 L474.7,182.3 L476.3,181.2 L478.0,180.2 L479.7,179.2 L481.6,178.7 L483.5,179.0 L485.2,179.6 L487.0,180.2 L488.9,180.7 L490.7,181.2 L492.6,181.6 L494.5,182.1 L496.4,182.5 L498.3,182.8 L500.3,183.1 L502.2,183.4 L504.1,183.5 L506.1,183.6 L508.0,183.6 L509.9,183.6 L511.9,183.5 M457.5,216.4 L458.6,214.8 L459.6,213.1 L460.6,211.4 L461.5,209.7 L462.4,208.0 L463.3,206.3 L464.3,204.5 L465.2,202.8 L466.1,201.1 L467.0,199.4 L468.0,197.7 L468.9,196.0 L469.8,194.3 L470.7,192.5 L471.6,190.8 L472.6,189.1 L473.6,187.4 L474.7,185.8 L476.0,184.4 L477.4,183.1 L479.0,182.0 L480.7,180.9 L482.4,180.0 L484.2,179.5 L486.1,179.7 L487.8,180.3 L489.6,180.8 L491.4,181.3 L493.2,181.7 L495.1,182.1 L497.0,182.5 L498.9,182.9 L500.8,183.2 L502.7,183.5 L504.6,183.7 L506.5,183.8 L508.4,183.8 L510.3,183.8 L512.2,183.7 L514.1,183.7 M460.2,216.4 L461.3,214.9 L462.3,213.2 L463.3,211.5 L464.2,209.9 L465.1,208.2 L466.1,206.5 L467.0,204.8 L467.9,203.1 L468.8,201.5 L469.7,199.8 L470.7,198.1 L471.6,196.4 L472.6,194.8 L473.5,193.1 L474.4,191.4 L475.3,189.7 L476.3,188.1 L477.4,186.5 L478.7,185.1 L480.1,183.8 L481.7,182.8 L483.4,181.7 L485.1,180.8 L486.9,180.3 L488.7,180.5 L490.4,181.0 L492.1,181.5 L493.9,181.9 L495.7,182.3 L497.6,182.7 L499.4,183.1 L501.3,183.4 L503.2,183.7 L505.0,183.9 L506.9,184.1 L508.8,184.2 L510.7,184.2 L512.5,184.2 L514.4,184.1 L516.3,184.0 M462.9,216.6 L464.0,215.0 L465.0,213.4 L466.0,211.8 L466.9,210.2 L467.8,208.5 L468.8,206.9 L469.7,205.2 L470.6,203.6 L471.5,201.9 L472.5,200.3 L473.4,198.7 L474.4,197.1 L475.3,195.4 L476.2,193.8 L477.1,192.1 L478.0,190.5 L479.1,188.9 L480.2,187.4 L481.4,186.0 L482.9,184.7 L484.4,183.7 L486.1,182.7 L487.7,181.8 L489.5,181.3 L491.3,181.4 L493.0,181.9 L494.7,182.4 L496.4,182.7 L498.2,183.1 L500.0,183.4 L501.9,183.8 L503.7,184.1 L505.6,184.4 L507.4,184.6 L509.3,184.7 L511.1,184.8 L512.9,184.8 L514.8,184.7 L516.6,184.6 L518.5,184.5 M465.6,217.0 L466.7,215.6 L467.7,214.0 L468.6,212.4 L469.6,210.8 L470.5,209.2 L471.4,207.6 L472.3,205.9 L473.3,204.3 L474.2,202.7 L475.1,201.1 L476.1,199.5 L477.0,197.9 L478.0,196.3 L478.9,194.7 L479.8,193.1 L480.7,191.5 L481.7,190.0 L482.8,188.5 L484.1,187.1 L485.5,185.9 L487.1,184.9 L488.7,183.9 L490.4,183.0 L492.1,182.5 L493.9,182.6 L495.5,183.0 L497.2,183.4 L498.9,183.7 L500.7,184.0 L502.4,184.4 L504.3,184.7 L506.1,185.0 L507.9,185.2 L509.7,185.4 L511.5,185.5 L513.4,185.6 L515.2,185.5 L517.0,185.4 L518.8,185.3 L520.6,185.1 M468.2,217.8 L469.3,216.3 L470.3,214.8 L471.2,213.2 L472.2,211.6 L473.1,210.1 L474.0,208.5 L474.9,206.9 L475.9,205.3 L476.8,203.7 L477.7,202.2 L478.7,200.6 L479.6,199.0 L480.6,197.5 L481.5,195.9 L482.4,194.3 L483.4,192.8 L484.4,191.2 L485.5,189.8 L486.7,188.4 L488.1,187.3 L489.7,186.3 L491.3,185.3 L492.9,184.5 L494.6,183.9 L496.3,184.0 L498.0,184.4 L499.6,184.7 L501.3,184.9 L503.0,185.2 L504.8,185.5 L506.6,185.8 L508.4,186.0 L510.2,186.3 L512.0,186.4 L513.8,186.5 L515.5,186.5 L517.3,186.4 L519.1,186.3 L520.9,186.1 L522.6,186.0 M470.7,218.8 L471.8,217.3 L472.8,215.8 L473.8,214.3 L474.7,212.7 L475.6,211.2 L476.6,209.6 L477.5,208.1 L478.4,206.5 L479.3,205.0 L480.3,203.4 L481.2,201.9 L482.2,200.4 L483.1,198.8 L484.0,197.3 L484.9,195.7 L485.9,194.2 L486.9,192.7 L488.0,191.3 L489.3,190.0 L490.7,188.8 L492.2,187.9 L493.8,186.9 L495.4,186.1 L497.1,185.5 L498.8,185.5 L500.3,185.8 L502.0,186.1 L503.6,186.3 L505.3,186.5 L507.1,186.8 L508.8,187.0 L510.6,187.3 L512.4,187.5 L514.2,187.6 L515.9,187.6 L517.7,187.6 L519.4,187.5 L521.2,187.4 L522.9,187.2 L524.6,187.0 M473.1,220.0 L474.2,218.6 L475.2,217.1 L476.1,215.6 L477.1,214.1 L478.0,212.6 L479.0,211.0 L479.9,209.5 L480.8,208.0 L481.7,206.5 L482.7,205.0 L483.6,203.4 L484.6,201.9 L485.5,200.4 L486.5,198.9 L487.4,197.4 L488.4,195.9 L489.4,194.4 L490.5,193.0 L491.7,191.7 L493.1,190.6 L494.7,189.6 L496.2,188.7 L497.8,187.9 L499.5,187.3 L501.1,187.2 L502.7,187.5 L504.2,187.7 L505.9,187.9 L507.6,188.0 L509.3,188.2 L511.0,188.5 L512.8,188.6 L514.5,188.8 L516.3,188.9 L518.0,188.9 L519.7,188.9 L521.5,188.7 L523.2,188.5 L524.9,188.3 L526.6,188.0 M475.5,221.3 L476.6,219.9 L477.6,218.4 L478.6,216.9 L479.5,215.4 L480.4,213.9 L481.4,212.4 L482.3,210.9 L483.2,209.4 L484.2,207.9 L485.1,206.5 L486.1,205.0 L487.0,203.5 L488.0,202.0 L488.9,200.5 L489.8,199.0 L490.8,197.6 L491.8,196.1 L492.9,194.7 L494.2,193.5 L495.5,192.4 L497.1,191.4 L498.6,190.6 L500.2,189.7 L501.8,189.1 L503.4,189.0 L504.9,189.2 L506.5,189.4 L508.1,189.5 L509.8,189.6 L511.5,189.7 L513.2,189.9 L514.9,190.1 L516.6,190.2 L518.4,190.3 L520.1,190.2 L521.8,190.1 L523.5,190.0 L525.1,189.7 L526.8,189.5 L528.5,189.2 M477.9,222.5 L479.0,221.1 L480.0,219.7 L481.0,218.2 L481.9,216.7 L482.9,215.3 L483.8,213.8 L484.7,212.3 L485.7,210.9 L486.6,209.4 L487.5,208.0 L488.5,206.5 L489.5,205.1 L490.4,203.6 L491.3,202.1 L492.3,200.7 L493.2,199.2 L494.2,197.8 L495.4,196.5 L496.6,195.2 L498.0,194.2 L499.5,193.3 L501.0,192.4 L502.6,191.5 L504.1,190.9 L505.7,190.8 L507.2,190.9 L508.7,191.0 L510.3,191.1 L511.9,191.2 L513.6,191.3 L515.3,191.4 L517.0,191.6 L518.7,191.6 L520.4,191.7 L522.1,191.6 L523.8,191.5 L525.4,191.3 L527.1,191.0 L528.7,190.7 L530.4,190.4 M480.4,223.7 L481.4,222.3 L482.4,220.9 L483.4,219.5 L484.3,218.1 L485.3,216.6 L486.2,215.2 L487.1,213.8 L488.1,212.3 L489.0,210.9 L490.0,209.5 L490.9,208.0 L491.9,206.6 L492.8,205.2 L493.8,203.8 L494.7,202.3 L495.7,200.9 L496.7,199.6 L497.8,198.3 L499.0,197.0 L500.4,196.0 L501.9,195.1 L503.4,194.3 L504.9,193.4 L506.5,192.8 L508.0,192.6 L509.5,192.7 L510.9,192.7 L512.5,192.7 L514.1,192.8 L515.7,192.9 L517.4,193.0 L519.1,193.1 L520.8,193.1 L522.4,193.1 L524.1,193.0 L525.7,192.9 L527.4,192.6 L529.0,192.3 L530.6,192.0 L532.2,191.7 M482.8,224.9 L483.9,223.5 L484.9,222.2 L485.8,220.8 L486.7,219.4 L487.7,218.0 L488.6,216.6 L489.6,215.2 L490.5,213.8 L491.4,212.4 L492.4,211.0 L493.3,209.6 L494.3,208.2 L495.2,206.8 L496.2,205.4 L497.1,204.0 L498.1,202.7 L499.1,201.3 L500.2,200.0 L501.4,198.9 L502.7,197.8 L504.2,197.0 L505.7,196.2 L507.2,195.3 L508.7,194.7 L510.3,194.5 L511.7,194.5 L513.1,194.5 L514.7,194.4 L516.2,194.4 L517.8,194.5 L519.5,194.6 L521.1,194.6 L522.8,194.7 L524.4,194.6 L526.1,194.5 L527.7,194.3 L529.2,194.0 L530.8,193.7 L532.4,193.4 L534.0,193.0 M485.2,226.1 L486.3,224.8 L487.3,223.4 L488.2,222.1 L489.2,220.7 L490.1,219.3 L491.0,218.0 L492.0,216.6 L492.9,215.2 L493.8,213.9 L494.8,212.5 L495.7,211.2 L496.7,209.8 L497.6,208.4 L498.6,207.1 L499.5,205.7 L500.5,204.4 L501.5,203.1 L502.6,201.8 L503.8,200.7 L505.1,199.7 L506.6,198.9 L508.1,198.1 L509.5,197.3 L511.0,196.6 L512.5,196.4 L513.9,196.3 L515.3,196.3 L516.8,196.2 L518.3,196.1 L519.9,196.1 L521.5,196.2 L523.1,196.2 L524.8,196.2 L526.4,196.2 L528.0,196.0 L529.6,195.8 L531.1,195.5 L532.6,195.1 L534.2,194.8 L535.7,194.4 M487.6,227.4 L488.6,226.1 L489.6,224.8 L490.6,223.5 L491.5,222.2 L492.4,220.8 L493.4,219.5 L494.3,218.2 L495.2,216.8 L496.2,215.5 L497.1,214.2 L498.1,212.8 L499.0,211.5 L500.0,210.2 L500.9,208.9 L501.8,207.5 L502.8,206.2 L503.8,205.0 L504.9,203.8 L506.1,202.6 L507.4,201.7 L508.9,200.9 L510.3,200.1 L511.8,199.3 L513.2,198.6 L514.7,198.3 L516.0,198.2 L517.4,198.1 L518.9,198.0 L520.4,197.9 L521.9,197.9 L523.5,197.9 L525.1,197.9 L526.7,197.9 L528.3,197.8 L529.9,197.6 L531.4,197.3 L532.9,197.0 L534.4,196.6 L535.9,196.2 L537.4,195.8 M489.9,228.8 L490.9,227.6 L491.9,226.3 L492.8,225.0 L493.8,223.7 L494.7,222.4 L495.6,221.1 L496.6,219.8 L497.5,218.5 L498.4,217.2 L499.4,215.9 L500.3,214.6 L501.3,213.3 L502.2,212.0 L503.2,210.7 L504.1,209.4 L505.1,208.2 L506.1,206.9 L507.2,205.7 L508.4,204.6 L509.7,203.7 L511.1,202.9 L512.6,202.2 L514.0,201.4 L515.4,200.7 L516.8,200.3 L518.1,200.2 L519.5,200.0 L520.9,199.8 L522.4,199.7 L523.9,199.6 L525.5,199.6 L527.1,199.6 L528.6,199.5 L530.2,199.4 L531.7,199.2 L533.2,198.9 L534.7,198.6 L536.2,198.1 L537.6,197.7 L539.1,197.3 M492.1,230.3 L493.2,229.1 L494.2,227.8 L495.1,226.6 L496.0,225.3 L497.0,224.0 L497.9,222.8 L498.8,221.5 L499.8,220.2 L500.7,218.9 L501.6,217.7 L502.6,216.4 L503.5,215.1 L504.5,213.9 L505.4,212.6 L506.4,211.3 L507.3,210.1 L508.4,208.9 L509.4,207.7 L510.6,206.7 L511.9,205.8 L513.3,205.0 L514.8,204.3 L516.2,203.5 L517.6,202.8 L518.9,202.4 L520.2,202.2 L521.5,202.0 L522.9,201.7 L524.4,201.5 L525.9,201.4 L527.4,201.4 L529.0,201.3 L530.5,201.2 L532.1,201.1 L533.6,200.9 L535.0,200.5 L536.5,200.1 L537.9,199.7 L539.3,199.2 L540.8,198.7 M494.5,231.6 L495.6,230.4 L496.5,229.2 L497.5,227.9 L498.4,226.7 L499.3,225.5 L500.3,224.2 L501.2,223.0 L502.1,221.8 L503.0,220.5 L504.0,219.3 L504.9,218.0 L505.9,216.8 L506.8,215.6 L507.8,214.4 L508.7,213.1 L509.7,211.9 L510.7,210.8 L511.7,209.6 L512.9,208.6 L514.2,207.7 L515.6,207.0 L517.0,206.3 L518.4,205.5 L519.7,204.8 L521.1,204.4 L522.3,204.1 L523.6,203.8 L525.0,203.6 L526.4,203.3 L527.9,203.2 L529.4,203.1 L530.9,203.0 L532.4,202.9 L533.9,202.8 L535.4,202.5 L536.8,202.1 L538.2,201.7 L539.6,201.2 L541.0,200.7 L542.4,200.2 M496.6,233.3 L497.6,232.2 L498.6,231.0 L499.5,229.8 L500.5,228.6 L501.4,227.3 L502.3,226.1 L503.3,224.9 L504.2,223.7 L505.1,222.5 L506.1,221.3 L507.0,220.1 L508.0,218.9 L508.9,217.7 L509.9,216.5 L510.8,215.3 L511.8,214.1 L512.8,212.9 L513.9,211.8 L515.0,210.8 L516.3,210.0 L517.7,209.3 L519.1,208.6 L520.4,207.8 L521.8,207.1 L523.0,206.6 L524.3,206.3 L525.5,205.9 L526.9,205.6 L528.3,205.3 L529.7,205.1 L531.2,205.0 L532.7,204.9 L534.2,204.8 L535.7,204.6 L537.1,204.2 L538.5,203.8 L539.9,203.4 L541.3,202.9 L542.6,202.3 L544.0,201.8 M498.5,235.3 L499.5,234.1 L500.5,233.0 L501.4,231.8 L502.4,230.6 L503.3,229.4 L504.2,228.2 L505.2,227.0 L506.1,225.8 L507.1,224.6 L508.0,223.4 L509.0,222.2 L509.9,221.0 L510.9,219.9 L511.8,218.7 L512.8,217.5 L513.8,216.4 L514.8,215.2 L515.9,214.2 L517.0,213.2 L518.3,212.3 L519.7,211.7 L521.1,211.0 L522.4,210.2 L523.7,209.4 L524.9,208.9 L526.2,208.5 L527.4,208.1 L528.7,207.7 L530.1,207.4 L531.5,207.1 L533.0,207.0 L534.5,206.8 L535.9,206.6 L537.4,206.4 L538.8,206.0 L540.2,205.6 L541.6,205.1 L542.9,204.5 L544.2,204.0 L545.5,203.4 M500.3,237.2 L501.4,236.1 L502.3,235.0 L503.3,233.8 L504.2,232.6 L505.2,231.4 L506.1,230.3 L507.1,229.1 L508.0,227.9 L509.0,226.8 L509.9,225.6 L510.9,224.4 L511.9,223.3 L512.8,222.1 L513.8,220.9 L514.7,219.8 L515.7,218.7 L516.8,217.6 L517.8,216.5 L519.0,215.5 L520.3,214.7 L521.7,214.0 L523.0,213.3 L524.3,212.6 L525.6,211.8 L526.8,211.2 L528.0,210.7 L529.2,210.3 L530.5,209.8 L531.9,209.4 L533.3,209.2 L534.7,209.0 L536.2,208.8 L537.7,208.5 L539.1,208.3 L540.5,207.9 L541.8,207.4 L543.2,206.8 L544.5,206.2 L545.8,205.6 L547.1,205.0 M502.3,239.1 L503.3,238.0 L504.3,236.9 L505.2,235.7 L506.2,234.6 L507.1,233.5 L508.1,232.3 L509.0,231.1 L510.0,230.0 L510.9,228.9 L511.9,227.7 L512.9,226.6 L513.8,225.4 L514.8,224.3 L515.8,223.1 L516.7,222.0 L517.7,220.9 L518.8,219.8 L519.9,218.8 L521.0,217.8 L522.3,217.1 L523.7,216.4 L525.0,215.7 L526.3,214.9 L527.5,214.1 L528.7,213.5 L529.9,213.0 L531.1,212.4 L532.3,211.9 L533.7,211.5 L535.1,211.2 L536.5,210.9 L537.9,210.7 L539.4,210.4 L540.8,210.1 L542.2,209.7 L543.5,209.1 L544.8,208.5 L546.1,207.9 L547.4,207.3 L548.6,206.6 M504.2,241.0 L505.2,239.9 L506.2,238.8 L507.2,237.7 L508.1,236.6 L509.1,235.5 L510.0,234.3 L511.0,233.2 L512.0,232.1 L512.9,230.9 L513.9,229.8 L514.9,228.7 L515.8,227.6 L516.8,226.4 L517.8,225.3 L518.8,224.2 L519.8,223.2 L520.8,222.1 L521.9,221.1 L523.0,220.2 L524.3,219.4 L525.7,218.7 L527.0,218.1 L528.3,217.3 L529.5,216.5 L530.7,215.8 L531.8,215.2 L533.0,214.6 L534.2,214.0 L535.5,213.5 L536.9,213.2 L538.3,212.9 L539.7,212.6 L541.1,212.3 L542.5,211.9 L543.9,211.4 L545.2,210.9 L546.5,210.2 L547.7,209.6 L548.9,208.9 L550.2,208.2 M506.1,243.0 L507.1,241.9 L508.1,240.8 L509.0,239.7 L510.0,238.6 L511.0,237.5 L511.9,236.4 L512.9,235.3 L513.9,234.2 L514.8,233.1 L515.8,232.0 L516.8,230.9 L517.8,229.8 L518.7,228.7 L519.7,227.6 L520.7,226.5 L521.7,225.4 L522.8,224.4 L523.9,223.4 L525.0,222.5 L526.3,221.7 L527.7,221.1 L529.0,220.5 L530.2,219.7 L531.4,218.8 L532.6,218.1 L533.7,217.4 L534.8,216.7 L536.0,216.1 L537.3,215.6 L538.6,215.2 L540.0,214.8 L541.5,214.5 L542.9,214.2 L544.2,213.8 L545.6,213.2 L546.8,212.6 L548.1,212.0 L549.3,211.2 L550.5,210.5 L551.7,209.8 M507.8,245.1 L508.8,244.0 L509.8,242.9 L510.8,241.8 L511.8,240.7 L512.8,239.6 L513.8,238.6 L514.7,237.5 L515.7,236.4 L516.7,235.3 L517.7,234.2 L518.7,233.1 L519.6,232.0 L520.6,230.9 L521.6,229.9 L522.6,228.8 L523.7,227.8 L524.7,226.8 L525.8,225.8 L527.0,224.9 L528.2,224.1 L529.6,223.5 L530.9,222.9 L532.2,222.1 L533.3,221.2 L534.4,220.4 L535.5,219.7 L536.6,218.9 L537.8,218.3 L539.1,217.7 L540.4,217.2 L541.8,216.8 L543.2,216.5 L544.6,216.1 L545.9,215.6 L547.2,215.1 L548.5,214.4 L549.7,213.7 L550.9,212.9 L552.1,212.1 L553.3,211.4 M509.6,247.2 L510.6,246.1 L511.6,245.0 L512.6,244.0 L513.6,242.9 L514.6,241.8 L515.5,240.7 L516.5,239.7 L517.5,238.6 L518.5,237.5 L519.5,236.4 L520.5,235.4 L521.5,234.3 L522.5,233.2 L523.5,232.2 L524.5,231.2 L525.6,230.1 L526.6,229.1 L527.7,228.2 L528.9,227.3 L530.2,226.6 L531.5,226.0 L532.8,225.3 L534.1,224.5 L535.2,223.6 L536.3,222.8 L537.4,221.9 L538.4,221.1 L539.6,220.4 L540.9,219.7 L542.2,219.2 L543.6,218.8 L544.9,218.4 L546.3,217.9 L547.7,217.4 L549.0,216.8 L550.2,216.1 L551.4,215.4 L552.6,214.6 L553.7,213.7 L554.9,212.9 M511.4,249.2 L512.4,248.1 L513.4,247.1 L514.4,246.0 L515.4,245.0 L516.4,243.9 L517.4,242.9 L518.4,241.8 L519.4,240.7 L520.4,239.7 L521.4,238.6 L522.4,237.6 L523.4,236.5 L524.4,235.5 L525.5,234.4 L526.5,233.4 L527.6,232.4 L528.6,231.4 L529.7,230.5 L530.9,229.6 L532.2,228.9 L533.5,228.3 L534.8,227.7 L536.1,226.9 L537.2,225.9 L538.2,225.0 L539.3,224.1 L540.3,223.2 L541.5,222.4 L542.7,221.7 L544.0,221.1 L545.4,220.7 L546.8,220.2 L548.1,219.7 L549.5,219.2 L550.7,218.5 L552.0,217.8 L553.1,217.0 L554.3,216.1 L555.4,215.3 L556.6,214.4 M513.3,251.1 L514.3,250.1 L515.3,249.0 L516.3,248.0 L517.3,247.0 L518.3,245.9 L519.4,244.9 L520.4,243.8 L521.4,242.8 L522.4,241.7 L523.4,240.7 L524.4,239.7 L525.4,238.6 L526.5,237.6 L527.5,236.6 L528.6,235.6 L529.6,234.6 L530.7,233.6 L531.8,232.7 L533.0,231.8 L534.3,231.1 L535.6,230.6 L536.9,229.9 L538.1,229.1 L539.2,228.2 L540.3,227.2 L541.3,226.2 L542.3,225.2 L543.5,224.4 L544.7,223.6 L546.0,223.0 L547.3,222.5 L548.7,222.0 L550.0,221.4 L551.3,220.8 L552.6,220.1 L553.8,219.3 L554.9,218.5 L556.1,217.6 L557.2,216.7 L558.3,215.8" stroke-width="0.5"/>
</g>
<path d="M458.8,192.4 L463.9,182.9 L473.4,176.5 L488.0,181.2 L505.2,183.4 L522.9,186.1 L541.5,199.4" clip-path="url(#scf)" fill="none" stroke="#200000" stroke-width="10" stroke-opacity="0.25" stroke-linecap="round" stroke-linejoin="round" filter="url(#blur)"/>
<path d="M446.70,215.60 C446.98,215.17 447.53,214.58 448.40,213.00 C449.27,211.42 450.75,208.40 451.90,206.10 C453.05,203.80 454.15,201.48 455.30,199.20 C456.45,196.92 457.80,194.40 458.80,192.40 C459.80,190.40 460.45,188.78 461.30,187.20 C462.15,185.62 462.88,184.18 463.90,182.90 C464.92,181.62 465.82,180.57 467.40,179.50 C468.98,178.43 471.40,176.65 473.40,176.50 C475.40,176.35 476.97,177.82 479.40,178.60 C481.83,179.38 485.13,180.48 488.00,181.20 C490.87,181.92 493.73,182.53 496.60,182.90 C499.47,183.27 502.13,183.25 505.20,183.40 C508.27,183.55 512.05,183.35 515.00,183.80 C517.95,184.25 520.03,184.78 522.90,186.10 C525.77,187.42 529.10,189.48 532.20,191.70 C535.30,193.92 538.67,196.82 541.50,199.40 C544.33,201.98 546.88,204.87 549.20,207.20 C551.52,209.53 553.58,211.75 555.40,213.40 C557.22,215.05 559.32,216.48 560.10,217.10 C559.07,217.93 556.23,220.65 553.90,222.10 C551.57,223.55 548.42,224.23 546.10,225.80 C543.78,227.37 541.85,230.12 540.00,231.50 C538.15,232.88 536.68,232.95 535.00,234.10 C533.32,235.25 531.62,236.83 529.90,238.40 C528.18,239.97 526.43,241.78 524.70,243.50 C522.97,245.22 521.08,247.12 519.50,248.70 C517.92,250.28 515.92,252.28 515.20,253.00 C514.48,252.28 512.47,250.42 510.90,248.70 C509.33,246.98 507.52,244.57 505.80,242.70 C504.08,240.83 502.32,239.23 500.60,237.50 C498.88,235.77 496.83,233.45 495.50,232.30 C494.17,231.15 494.12,231.53 492.60,230.60 C491.08,229.67 488.47,227.87 486.40,226.70 C484.33,225.53 482.27,224.63 480.20,223.60 C478.13,222.57 475.80,221.40 474.00,220.50 C472.20,219.60 471.20,218.85 469.40,218.20 C467.60,217.55 465.52,216.92 463.20,216.60 C460.88,216.28 458.25,216.47 455.50,216.30 C452.75,216.13 448.17,215.72 446.70,215.60 Z" fill="none" stroke="#300000" stroke-width="0.6"/>
</g>
<text x="411.6" y="162.3" font-family='"Liberation Serif", serif' font-weight="bold" font-size="11.5" fill="#000" stroke="#000" stroke-width="0.35">f</text>
<text x="414.0" y="183.5" font-family='"Liberation Serif", serif' font-weight="bold" font-size="8.6" textLength="19.3" lengthAdjust="spacingAndGlyphs" fill="#111" stroke="#111" stroke-width="0.22">MRR</text>
<text x="425.6" y="195.3" font-family='"Liberation Sans", sans-serif' font-weight="bold" font-size="6.4" text-anchor="middle" fill="#111" stroke="#111" stroke-width="0.12">0.06</text>
<text x="425.5" y="211.7" font-family='"Liberation Sans", sans-serif' font-weight="bold" font-size="6.4" text-anchor="middle" fill="#111" stroke="#111" stroke-width="0.12">0.04</text>
<text x="425.5" y="228.3" font-family='"Liberation Sans", sans-serif' font-weight="bold" font-size="6.4" text-anchor="middle" fill="#111" stroke="#111" stroke-width="0.12">0.02</text>
<text x="425.5" y="244.6" font-family='"Liberation Sans", sans-serif' font-weight="bold" font-size="6.4" text-anchor="middle" fill="#111" stroke="#111" stroke-width="0.12">0.00</text>
<text x="435.8" y="258.0" font-family='"Liberation Sans", sans-serif' font-weight="bold" font-size="6.4" text-anchor="middle" fill="#111" stroke="#111" stroke-width="0.12">0.8</text>
<text x="470.3" y="266.1" font-family='"Liberation Sans", sans-serif' font-weight="bold" font-size="6.4" text-anchor="middle" fill="#111" stroke="#111" stroke-width="0.12">0.6</text>
<text x="506.3" y="275.8" font-family='"Liberation Sans", sans-serif' font-weight="bold" font-size="6.4" text-anchor="middle" fill="#111" stroke="#111" stroke-width="0.12">0.4</text>
<text x="533.8" y="271.7" font-family='"Liberation Sans", sans-serif' font-weight="bold" font-size="6.2" text-anchor="middle" fill="#111" stroke="#111" stroke-width="0.12">100</text>
<text x="551.6" y="259.2" font-family='"Liberation Sans", sans-serif' font-weight="bold" font-size="6.2" text-anchor="middle" fill="#111" stroke="#111" stroke-width="0.12">120</text>
<text x="568.4" y="245.7" font-family='"Liberation Sans", sans-serif' font-weight="bold" font-size="6.2" text-anchor="middle" fill="#111" stroke="#111" stroke-width="0.12">140</text>
<text x="449.8" y="276.5" font-family='"Liberation Serif", serif' font-weight="bold" font-size="8.4" textLength="39.3" lengthAdjust="spacingAndGlyphs" fill="#111" stroke="#111" stroke-width="0.22">FLUSHING</text>
<text x="449.8" y="286.3" font-family='"Liberation Serif", serif' font-weight="bold" font-size="8.4" textLength="40.2" lengthAdjust="spacingAndGlyphs" fill="#111" stroke="#111" stroke-width="0.22">PRESSURE</text>
<text x="563.0" y="261.6" font-family='"Liberation Sans", sans-serif' font-weight="bold" font-size="6.8" textLength="29.1" lengthAdjust="spacingAndGlyphs" fill="#111" stroke="#111" stroke-width="0.22">VOLTAGE</text>
<rect x="408" y="272" width="14" height="14" fill="#fdfdfd"/>
</svg></body></html>
